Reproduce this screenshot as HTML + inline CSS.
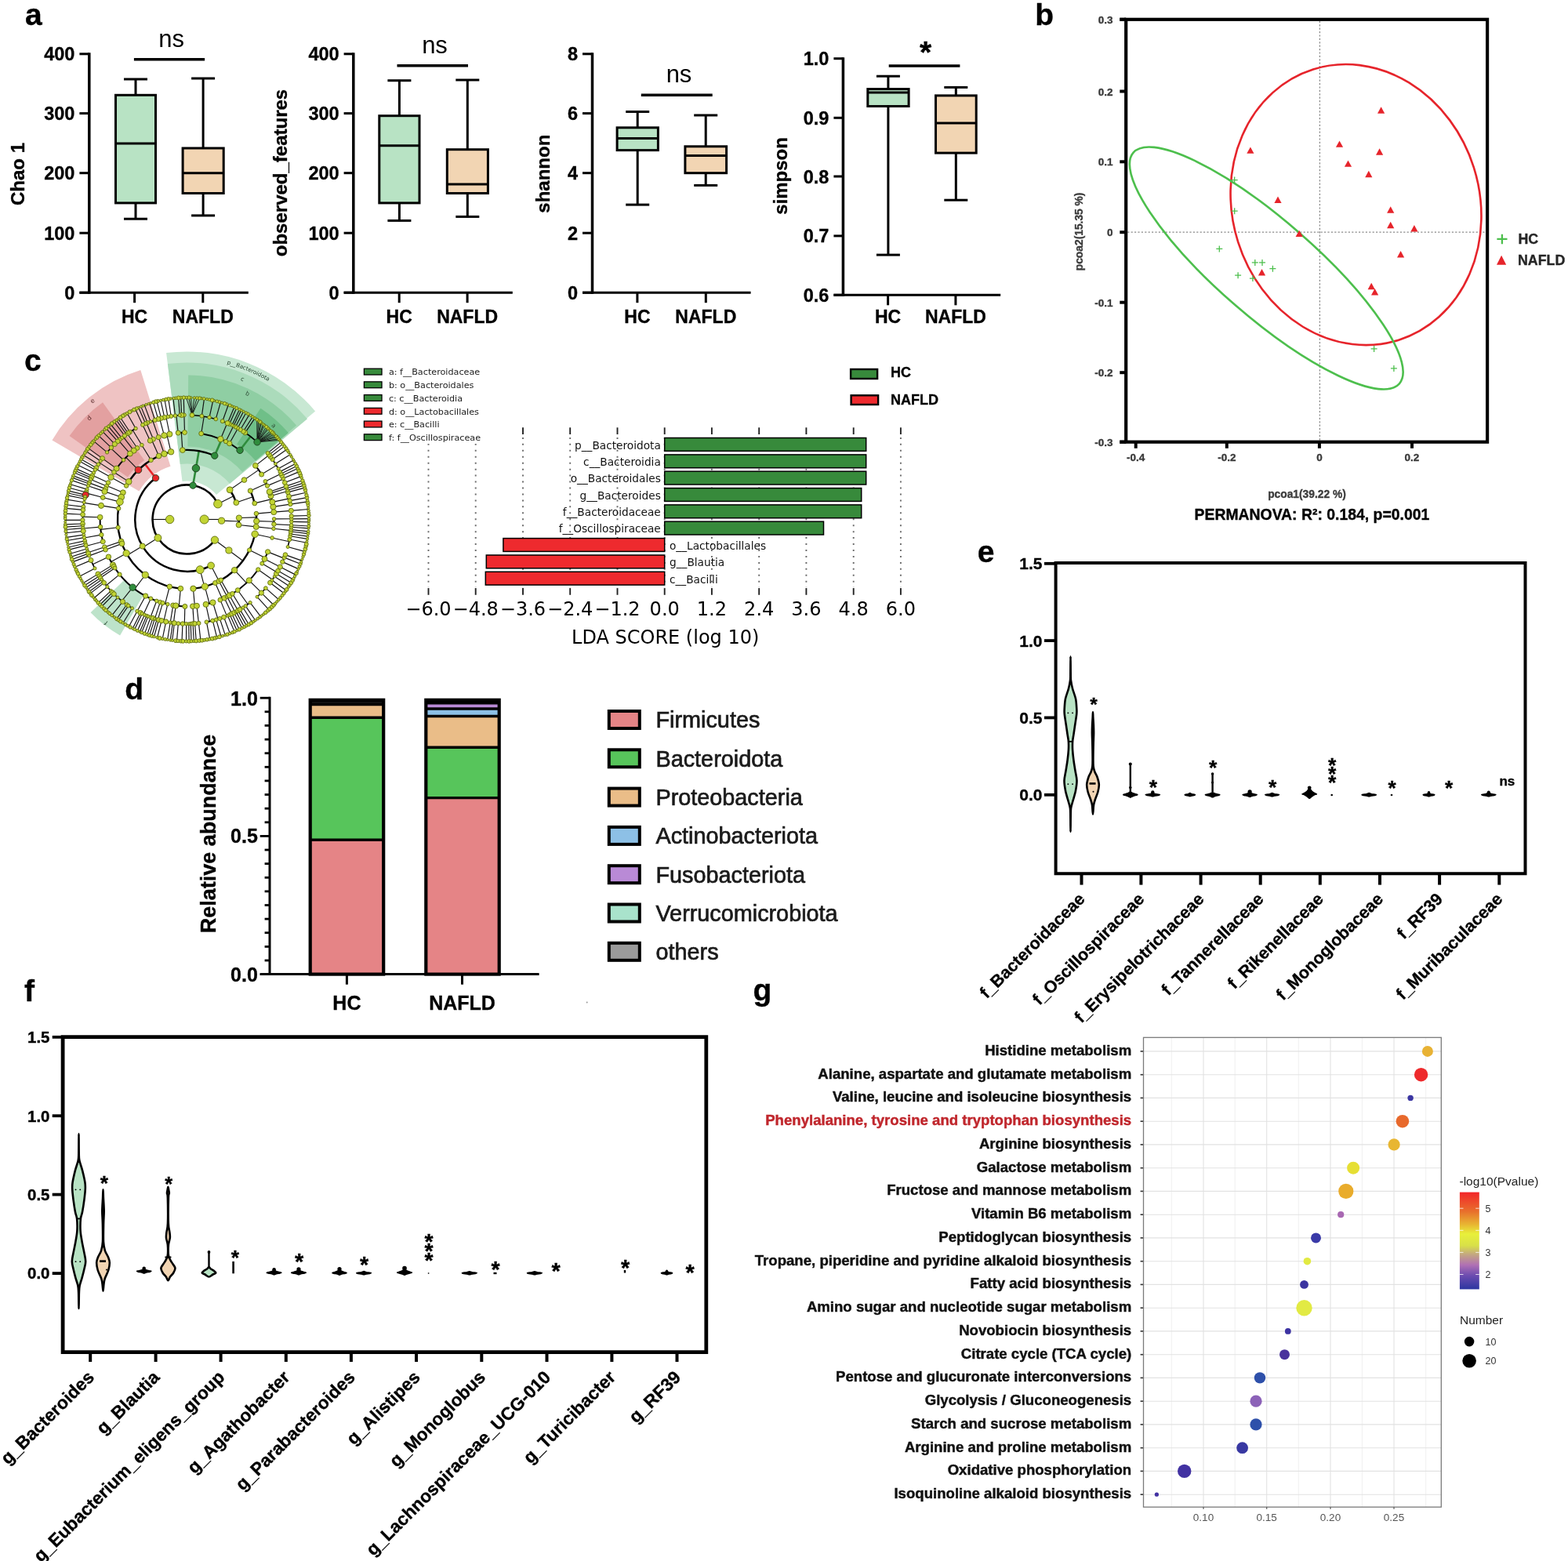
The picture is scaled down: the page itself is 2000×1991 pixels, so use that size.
<!DOCTYPE html>
<html><head><meta charset="utf-8"><style>
html,body{margin:0;padding:0;background:#fff;}
svg{display:block;}
</style></head><body>
<svg xmlns="http://www.w3.org/2000/svg" width="2000" height="1991" viewBox="0 0 2000 1991">
<rect width="2000" height="1991" fill="#fff"/>
<text x="31.9" y="32.3" style="font-family:'Liberation Sans',Arial,Helvetica,sans-serif;font-size:39px;font-weight:bold" text-anchor="start" fill="#000"  stroke="#000" stroke-width="0.35">a</text>
<text x="1320.3" y="32.1" style="font-family:'Liberation Sans',Arial,Helvetica,sans-serif;font-size:39px;font-weight:bold" text-anchor="start" fill="#000"  stroke="#000" stroke-width="0.35">b</text>
<text x="30.9" y="472.5" style="font-family:'Liberation Sans',Arial,Helvetica,sans-serif;font-size:39px;font-weight:bold" text-anchor="start" fill="#000"  stroke="#000" stroke-width="0.35">c</text>
<text x="159.2" y="891.8" style="font-family:'Liberation Sans',Arial,Helvetica,sans-serif;font-size:39px;font-weight:bold" text-anchor="start" fill="#000"  stroke="#000" stroke-width="0.35">d</text>
<text x="1246.7" y="716.6" style="font-family:'Liberation Sans',Arial,Helvetica,sans-serif;font-size:39px;font-weight:bold" text-anchor="start" fill="#000"  stroke="#000" stroke-width="0.35">e</text>
<text x="31.0" y="1276.9" style="font-family:'Liberation Sans',Arial,Helvetica,sans-serif;font-size:39px;font-weight:bold" text-anchor="start" fill="#000"  stroke="#000" stroke-width="0.35">f</text>
<text x="960.4" y="1276.4" style="font-family:'Liberation Sans',Arial,Helvetica,sans-serif;font-size:39px;font-weight:bold" text-anchor="start" fill="#000"  stroke="#000" stroke-width="0.35">g</text>
<line x1="113.8" y1="67.3" x2="113.8" y2="374.7" stroke="#000" stroke-width="3.5" />
<line x1="101.4" y1="373.2" x2="316.8" y2="373.2" stroke="#000" stroke-width="3.0" />
<line x1="101.4" y1="68.8" x2="113.8" y2="68.8" stroke="#000" stroke-width="3.0" />
<text x="95.4" y="77.3" style="font-family:'Liberation Sans',Arial,Helvetica,sans-serif;font-size:23.5px;font-weight:bold" text-anchor="end" fill="#000"  stroke="#000" stroke-width="0.35">400</text>
<line x1="101.4" y1="144.6" x2="113.8" y2="144.6" stroke="#000" stroke-width="3.0" />
<text x="95.4" y="153.1" style="font-family:'Liberation Sans',Arial,Helvetica,sans-serif;font-size:23.5px;font-weight:bold" text-anchor="end" fill="#000"  stroke="#000" stroke-width="0.35">300</text>
<line x1="101.4" y1="220.7" x2="113.8" y2="220.7" stroke="#000" stroke-width="3.0" />
<text x="95.4" y="229.2" style="font-family:'Liberation Sans',Arial,Helvetica,sans-serif;font-size:23.5px;font-weight:bold" text-anchor="end" fill="#000"  stroke="#000" stroke-width="0.35">200</text>
<line x1="101.4" y1="297.2" x2="113.8" y2="297.2" stroke="#000" stroke-width="3.0" />
<text x="95.4" y="305.7" style="font-family:'Liberation Sans',Arial,Helvetica,sans-serif;font-size:23.5px;font-weight:bold" text-anchor="end" fill="#000"  stroke="#000" stroke-width="0.35">100</text>
<line x1="101.4" y1="373.2" x2="113.8" y2="373.2" stroke="#000" stroke-width="3.0" />
<text x="95.4" y="381.7" style="font-family:'Liberation Sans',Arial,Helvetica,sans-serif;font-size:23.5px;font-weight:bold" text-anchor="end" fill="#000"  stroke="#000" stroke-width="0.35">0</text>
<line x1="171.6" y1="373.2" x2="171.6" y2="386.2" stroke="#000" stroke-width="3.0" />
<line x1="258.8" y1="373.2" x2="258.8" y2="386.2" stroke="#000" stroke-width="3.0" />
<text x="171.6" y="411.9" style="font-family:'Liberation Sans',Arial,Helvetica,sans-serif;font-size:23px;font-weight:bold" text-anchor="middle" fill="#000"  stroke="#000" stroke-width="0.35">HC</text>
<text x="258.8" y="411.9" style="font-family:'Liberation Sans',Arial,Helvetica,sans-serif;font-size:23px;font-weight:bold" text-anchor="middle" fill="#000"  stroke="#000" stroke-width="0.35">NAFLD</text>
<line x1="173.0" y1="101.0" x2="173.0" y2="121.3" stroke="#000" stroke-width="3.0" />
<line x1="173.0" y1="258.9" x2="173.0" y2="279.2" stroke="#000" stroke-width="3.0" />
<line x1="158.0" y1="101.0" x2="188.0" y2="101.0" stroke="#000" stroke-width="3.0" />
<line x1="158.0" y1="279.2" x2="188.0" y2="279.2" stroke="#000" stroke-width="3.0" />
<rect x="147.5" y="121.3" width="51.0" height="137.6" fill="#b8e3c4" stroke="#000" stroke-width="3.0" />
<line x1="147.5" y1="183.0" x2="198.5" y2="183.0" stroke="#000" stroke-width="3.0" />
<line x1="259.1" y1="100.0" x2="259.1" y2="189.0" stroke="#000" stroke-width="3.0" />
<line x1="259.1" y1="246.5" x2="259.1" y2="274.9" stroke="#000" stroke-width="3.0" />
<line x1="244.1" y1="100.0" x2="274.1" y2="100.0" stroke="#000" stroke-width="3.0" />
<line x1="244.1" y1="274.9" x2="274.1" y2="274.9" stroke="#000" stroke-width="3.0" />
<rect x="233.1" y="189.0" width="52.1" height="57.5" fill="#f2d5b3" stroke="#000" stroke-width="3.0" />
<line x1="233.1" y1="220.7" x2="285.2" y2="220.7" stroke="#000" stroke-width="3.0" />
<line x1="170.9" y1="75.8" x2="261.1" y2="75.8" stroke="#000" stroke-width="3.5" />
<text x="218.7" y="59.8" style="font-family:'Liberation Sans',Arial,Helvetica,sans-serif;font-size:31px;font-weight:normal" text-anchor="middle" fill="#000" >ns</text>
<text transform="translate(31.0,222.0) rotate(-90)" style="font-family:'Liberation Sans',Arial,Helvetica,sans-serif;font-size:24px;font-weight:bold" text-anchor="middle" fill="#000" stroke="#000" stroke-width="0.35">Chao 1</text>
<line x1="450.8" y1="67.3" x2="450.8" y2="374.7" stroke="#000" stroke-width="3.5" />
<line x1="438.6" y1="373.2" x2="653.8" y2="373.2" stroke="#000" stroke-width="3.0" />
<line x1="438.6" y1="68.8" x2="450.8" y2="68.8" stroke="#000" stroke-width="3.0" />
<text x="432.6" y="77.3" style="font-family:'Liberation Sans',Arial,Helvetica,sans-serif;font-size:23.5px;font-weight:bold" text-anchor="end" fill="#000"  stroke="#000" stroke-width="0.35">400</text>
<line x1="438.6" y1="144.6" x2="450.8" y2="144.6" stroke="#000" stroke-width="3.0" />
<text x="432.6" y="153.1" style="font-family:'Liberation Sans',Arial,Helvetica,sans-serif;font-size:23.5px;font-weight:bold" text-anchor="end" fill="#000"  stroke="#000" stroke-width="0.35">300</text>
<line x1="438.6" y1="220.7" x2="450.8" y2="220.7" stroke="#000" stroke-width="3.0" />
<text x="432.6" y="229.2" style="font-family:'Liberation Sans',Arial,Helvetica,sans-serif;font-size:23.5px;font-weight:bold" text-anchor="end" fill="#000"  stroke="#000" stroke-width="0.35">200</text>
<line x1="438.6" y1="297.2" x2="450.8" y2="297.2" stroke="#000" stroke-width="3.0" />
<text x="432.6" y="305.7" style="font-family:'Liberation Sans',Arial,Helvetica,sans-serif;font-size:23.5px;font-weight:bold" text-anchor="end" fill="#000"  stroke="#000" stroke-width="0.35">100</text>
<line x1="438.6" y1="373.2" x2="450.8" y2="373.2" stroke="#000" stroke-width="3.0" />
<text x="432.6" y="381.7" style="font-family:'Liberation Sans',Arial,Helvetica,sans-serif;font-size:23.5px;font-weight:bold" text-anchor="end" fill="#000"  stroke="#000" stroke-width="0.35">0</text>
<line x1="509.2" y1="373.2" x2="509.2" y2="386.2" stroke="#000" stroke-width="3.0" />
<line x1="596.1" y1="373.2" x2="596.1" y2="386.2" stroke="#000" stroke-width="3.0" />
<text x="509.2" y="411.9" style="font-family:'Liberation Sans',Arial,Helvetica,sans-serif;font-size:23px;font-weight:bold" text-anchor="middle" fill="#000"  stroke="#000" stroke-width="0.35">HC</text>
<text x="596.1" y="411.9" style="font-family:'Liberation Sans',Arial,Helvetica,sans-serif;font-size:23px;font-weight:bold" text-anchor="middle" fill="#000"  stroke="#000" stroke-width="0.35">NAFLD</text>
<line x1="509.4" y1="102.7" x2="509.4" y2="147.7" stroke="#000" stroke-width="3.0" />
<line x1="509.4" y1="258.9" x2="509.4" y2="281.4" stroke="#000" stroke-width="3.0" />
<line x1="494.4" y1="102.7" x2="524.4" y2="102.7" stroke="#000" stroke-width="3.0" />
<line x1="494.4" y1="281.4" x2="524.4" y2="281.4" stroke="#000" stroke-width="3.0" />
<rect x="483.8" y="147.7" width="51.2" height="111.2" fill="#b8e3c4" stroke="#000" stroke-width="3.0" />
<line x1="483.8" y1="185.7" x2="535.0" y2="185.7" stroke="#000" stroke-width="3.0" />
<line x1="596.3" y1="102.0" x2="596.3" y2="190.7" stroke="#000" stroke-width="3.0" />
<line x1="596.3" y1="246.5" x2="596.3" y2="276.4" stroke="#000" stroke-width="3.0" />
<line x1="581.3" y1="102.0" x2="611.3" y2="102.0" stroke="#000" stroke-width="3.0" />
<line x1="581.3" y1="276.4" x2="611.3" y2="276.4" stroke="#000" stroke-width="3.0" />
<rect x="570.3" y="190.7" width="52.1" height="55.8" fill="#f2d5b3" stroke="#000" stroke-width="3.0" />
<line x1="570.3" y1="234.9" x2="622.4" y2="234.9" stroke="#000" stroke-width="3.0" />
<line x1="506.5" y1="83.7" x2="597.0" y2="83.7" stroke="#000" stroke-width="3.5" />
<text x="554.5" y="67.7" style="font-family:'Liberation Sans',Arial,Helvetica,sans-serif;font-size:31px;font-weight:normal" text-anchor="middle" fill="#000" >ns</text>
<text transform="translate(366.0,220.5) rotate(-90)" style="font-family:'Liberation Sans',Arial,Helvetica,sans-serif;font-size:24px;font-weight:bold" text-anchor="middle" fill="#000" stroke="#000" stroke-width="0.35">observed_features</text>
<line x1="755.5" y1="67.3" x2="755.5" y2="374.7" stroke="#000" stroke-width="3.5" />
<line x1="743.0" y1="373.2" x2="957.6" y2="373.2" stroke="#000" stroke-width="3.0" />
<line x1="743.0" y1="68.8" x2="755.5" y2="68.8" stroke="#000" stroke-width="3.0" />
<text x="737.0" y="77.3" style="font-family:'Liberation Sans',Arial,Helvetica,sans-serif;font-size:23.5px;font-weight:bold" text-anchor="end" fill="#000"  stroke="#000" stroke-width="0.35">8</text>
<line x1="743.0" y1="144.6" x2="755.5" y2="144.6" stroke="#000" stroke-width="3.0" />
<text x="737.0" y="153.1" style="font-family:'Liberation Sans',Arial,Helvetica,sans-serif;font-size:23.5px;font-weight:bold" text-anchor="end" fill="#000"  stroke="#000" stroke-width="0.35">6</text>
<line x1="743.0" y1="220.7" x2="755.5" y2="220.7" stroke="#000" stroke-width="3.0" />
<text x="737.0" y="229.2" style="font-family:'Liberation Sans',Arial,Helvetica,sans-serif;font-size:23.5px;font-weight:bold" text-anchor="end" fill="#000"  stroke="#000" stroke-width="0.35">4</text>
<line x1="743.0" y1="297.2" x2="755.5" y2="297.2" stroke="#000" stroke-width="3.0" />
<text x="737.0" y="305.7" style="font-family:'Liberation Sans',Arial,Helvetica,sans-serif;font-size:23.5px;font-weight:bold" text-anchor="end" fill="#000"  stroke="#000" stroke-width="0.35">2</text>
<line x1="743.0" y1="373.2" x2="755.5" y2="373.2" stroke="#000" stroke-width="3.0" />
<text x="737.0" y="381.7" style="font-family:'Liberation Sans',Arial,Helvetica,sans-serif;font-size:23.5px;font-weight:bold" text-anchor="end" fill="#000"  stroke="#000" stroke-width="0.35">0</text>
<line x1="812.9" y1="373.2" x2="812.9" y2="386.2" stroke="#000" stroke-width="3.0" />
<line x1="900.3" y1="373.2" x2="900.3" y2="386.2" stroke="#000" stroke-width="3.0" />
<text x="812.9" y="411.9" style="font-family:'Liberation Sans',Arial,Helvetica,sans-serif;font-size:23px;font-weight:bold" text-anchor="middle" fill="#000"  stroke="#000" stroke-width="0.35">HC</text>
<text x="900.3" y="411.9" style="font-family:'Liberation Sans',Arial,Helvetica,sans-serif;font-size:23px;font-weight:bold" text-anchor="middle" fill="#000"  stroke="#000" stroke-width="0.35">NAFLD</text>
<line x1="813.2" y1="142.5" x2="813.2" y2="162.8" stroke="#000" stroke-width="3.0" />
<line x1="813.2" y1="191.6" x2="813.2" y2="261.1" stroke="#000" stroke-width="3.0" />
<line x1="798.2" y1="142.5" x2="828.2" y2="142.5" stroke="#000" stroke-width="3.0" />
<line x1="798.2" y1="261.1" x2="828.2" y2="261.1" stroke="#000" stroke-width="3.0" />
<rect x="787.1" y="162.8" width="52.3" height="28.8" fill="#b8e3c4" stroke="#000" stroke-width="3.0" />
<line x1="787.1" y1="176.5" x2="839.4" y2="176.5" stroke="#000" stroke-width="3.0" />
<line x1="900.2" y1="147.0" x2="900.2" y2="186.8" stroke="#000" stroke-width="3.0" />
<line x1="900.2" y1="220.7" x2="900.2" y2="236.4" stroke="#000" stroke-width="3.0" />
<line x1="885.2" y1="147.0" x2="915.2" y2="147.0" stroke="#000" stroke-width="3.0" />
<line x1="885.2" y1="236.4" x2="915.2" y2="236.4" stroke="#000" stroke-width="3.0" />
<rect x="873.9" y="186.8" width="52.7" height="33.9" fill="#f2d5b3" stroke="#000" stroke-width="3.0" />
<line x1="873.9" y1="198.4" x2="926.6" y2="198.4" stroke="#000" stroke-width="3.0" />
<line x1="817.8" y1="121.3" x2="908.7" y2="121.3" stroke="#000" stroke-width="3.5" />
<text x="866.0" y="105.3" style="font-family:'Liberation Sans',Arial,Helvetica,sans-serif;font-size:31px;font-weight:normal" text-anchor="middle" fill="#000" >ns</text>
<text transform="translate(700.5,221.7) rotate(-90)" style="font-family:'Liberation Sans',Arial,Helvetica,sans-serif;font-size:24px;font-weight:bold" text-anchor="middle" fill="#000" stroke="#000" stroke-width="0.35">shannon</text>
<line x1="1075.4" y1="73.2" x2="1075.4" y2="377.8" stroke="#000" stroke-width="3.5" />
<line x1="1063.4" y1="376.3" x2="1276.2" y2="376.3" stroke="#000" stroke-width="3.0" />
<line x1="1063.4" y1="74.7" x2="1075.4" y2="74.7" stroke="#000" stroke-width="3.0" />
<text x="1057.4" y="83.2" style="font-family:'Liberation Sans',Arial,Helvetica,sans-serif;font-size:23.5px;font-weight:bold" text-anchor="end" fill="#000"  stroke="#000" stroke-width="0.35">1.0</text>
<line x1="1063.4" y1="150.3" x2="1075.4" y2="150.3" stroke="#000" stroke-width="3.0" />
<text x="1057.4" y="158.8" style="font-family:'Liberation Sans',Arial,Helvetica,sans-serif;font-size:23.5px;font-weight:bold" text-anchor="end" fill="#000"  stroke="#000" stroke-width="0.35">0.9</text>
<line x1="1063.4" y1="225.0" x2="1075.4" y2="225.0" stroke="#000" stroke-width="3.0" />
<text x="1057.4" y="233.5" style="font-family:'Liberation Sans',Arial,Helvetica,sans-serif;font-size:23.5px;font-weight:bold" text-anchor="end" fill="#000"  stroke="#000" stroke-width="0.35">0.8</text>
<line x1="1063.4" y1="300.9" x2="1075.4" y2="300.9" stroke="#000" stroke-width="3.0" />
<text x="1057.4" y="309.4" style="font-family:'Liberation Sans',Arial,Helvetica,sans-serif;font-size:23.5px;font-weight:bold" text-anchor="end" fill="#000"  stroke="#000" stroke-width="0.35">0.7</text>
<line x1="1063.4" y1="376.3" x2="1075.4" y2="376.3" stroke="#000" stroke-width="3.0" />
<text x="1057.4" y="384.8" style="font-family:'Liberation Sans',Arial,Helvetica,sans-serif;font-size:23.5px;font-weight:bold" text-anchor="end" fill="#000"  stroke="#000" stroke-width="0.35">0.6</text>
<line x1="1132.6" y1="376.3" x2="1132.6" y2="389.3" stroke="#000" stroke-width="3.0" />
<line x1="1218.9" y1="376.3" x2="1218.9" y2="389.3" stroke="#000" stroke-width="3.0" />
<text x="1132.6" y="411.9" style="font-family:'Liberation Sans',Arial,Helvetica,sans-serif;font-size:23px;font-weight:bold" text-anchor="middle" fill="#000"  stroke="#000" stroke-width="0.35">HC</text>
<text x="1218.9" y="411.9" style="font-family:'Liberation Sans',Arial,Helvetica,sans-serif;font-size:23px;font-weight:bold" text-anchor="middle" fill="#000"  stroke="#000" stroke-width="0.35">NAFLD</text>
<line x1="1132.9" y1="97.2" x2="1132.9" y2="113.6" stroke="#000" stroke-width="3.0" />
<line x1="1132.9" y1="135.5" x2="1132.9" y2="325.1" stroke="#000" stroke-width="3.0" />
<line x1="1117.9" y1="97.2" x2="1147.9" y2="97.2" stroke="#000" stroke-width="3.0" />
<line x1="1117.9" y1="325.1" x2="1147.9" y2="325.1" stroke="#000" stroke-width="3.0" />
<rect x="1106.8" y="113.6" width="52.3" height="21.9" fill="#b8e3c4" stroke="#000" stroke-width="3.0" />
<line x1="1106.8" y1="118.0" x2="1159.1" y2="118.0" stroke="#000" stroke-width="3.0" />
<line x1="1219.3" y1="111.4" x2="1219.3" y2="121.9" stroke="#000" stroke-width="3.0" />
<line x1="1219.3" y1="195.1" x2="1219.3" y2="255.2" stroke="#000" stroke-width="3.0" />
<line x1="1204.3" y1="111.4" x2="1234.3" y2="111.4" stroke="#000" stroke-width="3.0" />
<line x1="1204.3" y1="255.2" x2="1234.3" y2="255.2" stroke="#000" stroke-width="3.0" />
<rect x="1193.5" y="121.9" width="51.7" height="73.2" fill="#f2d5b3" stroke="#000" stroke-width="3.0" />
<line x1="1193.5" y1="156.9" x2="1245.2" y2="156.9" stroke="#000" stroke-width="3.0" />
<line x1="1133.7" y1="84.1" x2="1224.4" y2="84.1" stroke="#000" stroke-width="3.5" />
<text x="1180.5" y="80.4" style="font-family:'Liberation Sans',Arial,Helvetica,sans-serif;font-size:39px;font-weight:bold" text-anchor="middle" fill="#000"  stroke="#000" stroke-width="0.35">*</text>
<text transform="translate(1003.7,224.5) rotate(-90)" style="font-family:'Liberation Sans',Arial,Helvetica,sans-serif;font-size:24px;font-weight:bold" text-anchor="middle" fill="#000" stroke="#000" stroke-width="0.35">simpson</text>
<line x1="1428.3" y1="24.8" x2="1436.2" y2="24.8" stroke="#000" stroke-width="4" />
<text x="1419.5" y="29.8" style="font-family:'Liberation Sans',Arial,Helvetica,sans-serif;font-size:13.5px;font-weight:bold" text-anchor="end" fill="#3a3a3a"  stroke="#3a3a3a" stroke-width="0.35">0.3</text>
<line x1="1428.3" y1="116.5" x2="1436.2" y2="116.5" stroke="#000" stroke-width="4" />
<text x="1419.5" y="121.5" style="font-family:'Liberation Sans',Arial,Helvetica,sans-serif;font-size:13.5px;font-weight:bold" text-anchor="end" fill="#3a3a3a"  stroke="#3a3a3a" stroke-width="0.35">0.2</text>
<line x1="1428.3" y1="206.3" x2="1436.2" y2="206.3" stroke="#000" stroke-width="4" />
<text x="1419.5" y="211.3" style="font-family:'Liberation Sans',Arial,Helvetica,sans-serif;font-size:13.5px;font-weight:bold" text-anchor="end" fill="#3a3a3a"  stroke="#3a3a3a" stroke-width="0.35">0.1</text>
<line x1="1428.3" y1="296.2" x2="1436.2" y2="296.2" stroke="#000" stroke-width="4" />
<text x="1419.5" y="301.2" style="font-family:'Liberation Sans',Arial,Helvetica,sans-serif;font-size:13.5px;font-weight:bold" text-anchor="end" fill="#3a3a3a"  stroke="#3a3a3a" stroke-width="0.35">0</text>
<line x1="1428.3" y1="385.7" x2="1436.2" y2="385.7" stroke="#000" stroke-width="4" />
<text x="1419.5" y="390.7" style="font-family:'Liberation Sans',Arial,Helvetica,sans-serif;font-size:13.5px;font-weight:bold" text-anchor="end" fill="#3a3a3a"  stroke="#3a3a3a" stroke-width="0.35">-0.1</text>
<line x1="1428.3" y1="475.2" x2="1436.2" y2="475.2" stroke="#000" stroke-width="4" />
<text x="1419.5" y="480.2" style="font-family:'Liberation Sans',Arial,Helvetica,sans-serif;font-size:13.5px;font-weight:bold" text-anchor="end" fill="#3a3a3a"  stroke="#3a3a3a" stroke-width="0.35">-0.2</text>
<line x1="1428.3" y1="563.7" x2="1436.2" y2="563.7" stroke="#000" stroke-width="4" />
<text x="1419.5" y="568.7" style="font-family:'Liberation Sans',Arial,Helvetica,sans-serif;font-size:13.5px;font-weight:bold" text-anchor="end" fill="#3a3a3a"  stroke="#3a3a3a" stroke-width="0.35">-0.3</text>
<line x1="1448.7" y1="563.7" x2="1448.7" y2="571.8" stroke="#000" stroke-width="4" />
<text x="1448.7" y="588.0" style="font-family:'Liberation Sans',Arial,Helvetica,sans-serif;font-size:13.5px;font-weight:bold" text-anchor="middle" fill="#3a3a3a"  stroke="#3a3a3a" stroke-width="0.35">-0.4</text>
<line x1="1564.8" y1="563.7" x2="1564.8" y2="571.8" stroke="#000" stroke-width="4" />
<text x="1564.8" y="588.0" style="font-family:'Liberation Sans',Arial,Helvetica,sans-serif;font-size:13.5px;font-weight:bold" text-anchor="middle" fill="#3a3a3a"  stroke="#3a3a3a" stroke-width="0.35">-0.2</text>
<line x1="1682.9" y1="563.7" x2="1682.9" y2="571.8" stroke="#000" stroke-width="4" />
<text x="1682.9" y="588.0" style="font-family:'Liberation Sans',Arial,Helvetica,sans-serif;font-size:13.5px;font-weight:bold" text-anchor="middle" fill="#3a3a3a"  stroke="#3a3a3a" stroke-width="0.35">0</text>
<line x1="1801.0" y1="563.7" x2="1801.0" y2="571.8" stroke="#000" stroke-width="4" />
<text x="1801.0" y="588.0" style="font-family:'Liberation Sans',Arial,Helvetica,sans-serif;font-size:13.5px;font-weight:bold" text-anchor="middle" fill="#3a3a3a"  stroke="#3a3a3a" stroke-width="0.35">0.2</text>
<line x1="1683.4" y1="26.8" x2="1683.4" y2="561.7" stroke="#8a8a8a" stroke-width="1.3" stroke-dasharray="2.2,2.2"/>
<line x1="1438.2" y1="296.2" x2="1895.1" y2="296.2" stroke="#8a8a8a" stroke-width="1.3" stroke-dasharray="2.2,2.2"/>
<rect x="1436.2" y="24.8" width="460.9" height="538.9" fill="none" stroke="#000" stroke-width="4.2"/>
<line x1="1428.3" y1="24.8" x2="1436.2" y2="24.8" stroke="#000" stroke-width="4.2" />
<line x1="1428.3" y1="563.7" x2="1436.2" y2="563.7" stroke="#000" stroke-width="4.2" />
<ellipse cx="1729.5" cy="261.1" rx="157.7" ry="181.0" transform="rotate(-17.55 1729.5 261.1)" fill="none" stroke="#e6242b" stroke-width="2.6"/>
<ellipse cx="1615.25" cy="341.98" rx="224.7" ry="61.6" transform="rotate(40.97 1615.25 341.98)" fill="none" stroke="#4dbf4d" stroke-width="2.6"/>
<path d="M1761.6,136.3 L1766.2,144.7 L1757.0,144.7 Z" fill="#e6242b"/>
<path d="M1708.5,179.4 L1713.1,187.8 L1703.9,187.8 Z" fill="#e6242b"/>
<path d="M1759.6,189.3 L1764.2,197.7 L1755.0,197.7 Z" fill="#e6242b"/>
<path d="M1594.9,187.4 L1599.5,195.8 L1590.3,195.8 Z" fill="#e6242b"/>
<path d="M1719.5,204.4 L1724.1,212.8 L1714.9,212.8 Z" fill="#e6242b"/>
<path d="M1745.8,217.8 L1750.4,226.2 L1741.2,226.2 Z" fill="#e6242b"/>
<path d="M1630.0,250.6 L1634.6,259.0 L1625.4,259.0 Z" fill="#e6242b"/>
<path d="M1773.7,263.3 L1778.3,271.7 L1769.1,271.7 Z" fill="#e6242b"/>
<path d="M1773.7,282.8 L1778.3,291.2 L1769.1,291.2 Z" fill="#e6242b"/>
<path d="M1803.9,287.1 L1808.5,295.5 L1799.3,295.5 Z" fill="#e6242b"/>
<path d="M1657.2,293.7 L1661.8,302.1 L1652.6,302.1 Z" fill="#e6242b"/>
<path d="M1786.6,320.0 L1791.2,328.4 L1782.0,328.4 Z" fill="#e6242b"/>
<path d="M1609.5,343.1 L1614.1,351.5 L1604.9,351.5 Z" fill="#e6242b"/>
<path d="M1749.2,360.8 L1753.8,369.2 L1744.6,369.2 Z" fill="#e6242b"/>
<path d="M1753.6,368.1 L1758.2,376.5 L1749.0,376.5 Z" fill="#e6242b"/>
<path d="M1570.7,229.6 H1578.7 M1574.7,225.6 V233.6" stroke="#4dbf4d" stroke-width="1.3" fill="none"/>
<path d="M1570.7,269.2 H1578.7 M1574.7,265.2 V273.2" stroke="#4dbf4d" stroke-width="1.3" fill="none"/>
<path d="M1551.3,317.4 H1559.3 M1555.3,313.4 V321.4" stroke="#4dbf4d" stroke-width="1.3" fill="none"/>
<path d="M1596.8,334.9 H1604.8 M1600.8,330.9 V338.9" stroke="#4dbf4d" stroke-width="1.3" fill="none"/>
<path d="M1606.0,334.9 H1614.0 M1610.0,330.9 V338.9" stroke="#4dbf4d" stroke-width="1.3" fill="none"/>
<path d="M1619.4,342.7 H1627.4 M1623.4,338.7 V346.7" stroke="#4dbf4d" stroke-width="1.3" fill="none"/>
<path d="M1575.1,351.2 H1583.1 M1579.1,347.2 V355.2" stroke="#4dbf4d" stroke-width="1.3" fill="none"/>
<path d="M1593.9,355.1 H1601.9 M1597.9,351.1 V359.1" stroke="#4dbf4d" stroke-width="1.3" fill="none"/>
<path d="M1748.6,444.9 H1756.6 M1752.6,440.9 V448.9" stroke="#4dbf4d" stroke-width="1.3" fill="none"/>
<path d="M1773.9,469.9 H1781.9 M1777.9,465.9 V473.9" stroke="#4dbf4d" stroke-width="1.3" fill="none"/>
<path d="M1909.4,304.9 H1922.5 M1915.9,298.8 V311.2" stroke="#4dbf4d" stroke-width="2.3" fill="none"/>
<path d="M1915.1,325.8 L1921.2,337.8 L1909.0,337.8 Z" fill="#e6242b"/>
<text x="1936.5" y="311.0" style="font-family:'Liberation Sans',Arial,Helvetica,sans-serif;font-size:17.8px;font-weight:bold" text-anchor="start" fill="#262626"  stroke="#262626" stroke-width="0.35">HC</text>
<text x="1936.0" y="337.6" style="font-family:'Liberation Sans',Arial,Helvetica,sans-serif;font-size:17.8px;font-weight:bold" text-anchor="start" fill="#262626"  stroke="#262626" stroke-width="0.35">NAFLD</text>
<text x="1667.0" y="635.2" style="font-family:'Liberation Sans',Arial,Helvetica,sans-serif;font-size:13.8px;font-weight:bold" text-anchor="middle" fill="#3c3c3c"  stroke="#3c3c3c" stroke-width="0.35">pcoa1(39.22 %)</text>
<text transform="translate(1380.8,295.4) rotate(-90)" style="font-family:'Liberation Sans',Arial,Helvetica,sans-serif;font-size:13.8px;font-weight:bold" text-anchor="middle" fill="#3c3c3c" stroke="#3c3c3c" stroke-width="0.35">pcoa2(15.35 %)</text>
<text x="1673.4" y="663.3" style="font-family:'Liberation Sans',Arial,Helvetica,sans-serif;font-size:19.4px;font-weight:bold" text-anchor="middle" fill="#000"  stroke="#000" stroke-width="0.35">PERMANOVA: R²: 0.184, p=0.001</text>
<line x1="331.7" y1="1242.6" x2="344.0" y2="1242.6" stroke="#000" stroke-width="2.8" />
<line x1="337.6" y1="1225.0" x2="344.0" y2="1225.0" stroke="#000" stroke-width="2.8" />
<line x1="337.6" y1="1207.4" x2="344.0" y2="1207.4" stroke="#000" stroke-width="2.8" />
<line x1="337.6" y1="1189.7" x2="344.0" y2="1189.7" stroke="#000" stroke-width="2.8" />
<line x1="337.6" y1="1172.1" x2="344.0" y2="1172.1" stroke="#000" stroke-width="2.8" />
<line x1="337.6" y1="1154.5" x2="344.0" y2="1154.5" stroke="#000" stroke-width="2.8" />
<line x1="337.6" y1="1136.9" x2="344.0" y2="1136.9" stroke="#000" stroke-width="2.8" />
<line x1="337.6" y1="1119.3" x2="344.0" y2="1119.3" stroke="#000" stroke-width="2.8" />
<line x1="337.6" y1="1101.6" x2="344.0" y2="1101.6" stroke="#000" stroke-width="2.8" />
<line x1="337.6" y1="1084.0" x2="344.0" y2="1084.0" stroke="#000" stroke-width="2.8" />
<line x1="331.7" y1="1066.4" x2="344.0" y2="1066.4" stroke="#000" stroke-width="2.8" />
<line x1="337.6" y1="1048.8" x2="344.0" y2="1048.8" stroke="#000" stroke-width="2.8" />
<line x1="337.6" y1="1031.2" x2="344.0" y2="1031.2" stroke="#000" stroke-width="2.8" />
<line x1="337.6" y1="1013.5" x2="344.0" y2="1013.5" stroke="#000" stroke-width="2.8" />
<line x1="337.6" y1="995.9" x2="344.0" y2="995.9" stroke="#000" stroke-width="2.8" />
<line x1="337.6" y1="978.3" x2="344.0" y2="978.3" stroke="#000" stroke-width="2.8" />
<line x1="337.6" y1="960.7" x2="344.0" y2="960.7" stroke="#000" stroke-width="2.8" />
<line x1="337.6" y1="943.1" x2="344.0" y2="943.1" stroke="#000" stroke-width="2.8" />
<line x1="337.6" y1="925.4" x2="344.0" y2="925.4" stroke="#000" stroke-width="2.8" />
<line x1="337.6" y1="907.8" x2="344.0" y2="907.8" stroke="#000" stroke-width="2.8" />
<line x1="331.7" y1="890.2" x2="344.0" y2="890.2" stroke="#000" stroke-width="2.8" />
<line x1="344.0" y1="888.8" x2="344.0" y2="1244.0" stroke="#000" stroke-width="3.0" />
<line x1="331.7" y1="1242.6" x2="687.6" y2="1242.6" stroke="#000" stroke-width="3.0" />
<line x1="442.4" y1="1242.6" x2="442.4" y2="1255.7" stroke="#000" stroke-width="3.0" />
<line x1="589.5" y1="1242.6" x2="589.5" y2="1255.7" stroke="#000" stroke-width="3.0" />
<text x="328.8" y="900.0" style="font-family:'Liberation Sans',Arial,Helvetica,sans-serif;font-size:25px;font-weight:bold" text-anchor="end" fill="#000"  stroke="#000" stroke-width="0.35">1.0</text>
<text x="328.8" y="1075.4" style="font-family:'Liberation Sans',Arial,Helvetica,sans-serif;font-size:25px;font-weight:bold" text-anchor="end" fill="#000"  stroke="#000" stroke-width="0.35">0.5</text>
<text x="328.8" y="1251.6" style="font-family:'Liberation Sans',Arial,Helvetica,sans-serif;font-size:25px;font-weight:bold" text-anchor="end" fill="#000"  stroke="#000" stroke-width="0.35">0.0</text>
<text transform="translate(274.5,1063.5) rotate(-90)" style="font-family:'Liberation Sans',Arial,Helvetica,sans-serif;font-size:27px;font-weight:bold" text-anchor="middle" fill="#000" stroke="#000" stroke-width="0.35">Relative abundance</text>
<text x="442.4" y="1288.0" style="font-family:'Liberation Sans',Arial,Helvetica,sans-serif;font-size:25px;font-weight:bold" text-anchor="middle" fill="#000"  stroke="#000" stroke-width="0.35">HC</text>
<text x="589.5" y="1288.0" style="font-family:'Liberation Sans',Arial,Helvetica,sans-serif;font-size:25px;font-weight:bold" text-anchor="middle" fill="#000"  stroke="#000" stroke-width="0.35">NAFLD</text>
<rect x="395.7" y="892.8" width="93.5" height="5.8" fill="#111" stroke="none" stroke-width="0" />
<rect x="395.7" y="898.6" width="93.5" height="16.6" fill="#eabd88" stroke="none" stroke-width="0" />
<rect x="395.7" y="915.2" width="93.5" height="156.0" fill="#57c55b" stroke="none" stroke-width="0" />
<rect x="395.7" y="1071.2" width="93.5" height="171.4" fill="#e58486" stroke="none" stroke-width="0" />
<line x1="395.7" y1="892.8" x2="489.2" y2="892.8" stroke="#000" stroke-width="3.4" />
<line x1="395.7" y1="898.6" x2="489.2" y2="898.6" stroke="#000" stroke-width="3.4" />
<line x1="395.7" y1="915.2" x2="489.2" y2="915.2" stroke="#000" stroke-width="3.4" />
<line x1="395.7" y1="1071.2" x2="489.2" y2="1071.2" stroke="#000" stroke-width="3.4" />
<rect x="395.7" y="892.8" width="93.5" height="349.8" fill="none" stroke="#000" stroke-width="4.2" />
<rect x="543.3" y="892.8" width="93.4" height="3.9" fill="#111" stroke="none" stroke-width="0" />
<rect x="543.3" y="896.7" width="93.4" height="7.3" fill="#b98ad6" stroke="none" stroke-width="0" />
<rect x="543.3" y="904.0" width="93.4" height="9.5" fill="#8dc0e6" stroke="none" stroke-width="0" />
<rect x="543.3" y="913.5" width="93.4" height="39.8" fill="#eabd88" stroke="none" stroke-width="0" />
<rect x="543.3" y="953.3" width="93.4" height="64.3" fill="#57c55b" stroke="none" stroke-width="0" />
<rect x="543.3" y="1017.6" width="93.4" height="225.0" fill="#e58486" stroke="none" stroke-width="0" />
<line x1="543.3" y1="892.8" x2="636.7" y2="892.8" stroke="#000" stroke-width="3.4" />
<line x1="543.3" y1="896.7" x2="636.7" y2="896.7" stroke="#000" stroke-width="3.4" />
<line x1="543.3" y1="904.0" x2="636.7" y2="904.0" stroke="#000" stroke-width="3.4" />
<line x1="543.3" y1="913.5" x2="636.7" y2="913.5" stroke="#000" stroke-width="3.4" />
<line x1="543.3" y1="953.3" x2="636.7" y2="953.3" stroke="#000" stroke-width="3.4" />
<line x1="543.3" y1="1017.6" x2="636.7" y2="1017.6" stroke="#000" stroke-width="3.4" />
<rect x="543.3" y="892.8" width="93.4" height="349.8" fill="none" stroke="#000" stroke-width="4.2" />
<rect x="776.8" y="907.0" width="39.0" height="22.0" fill="#e58486" stroke="#000" stroke-width="4.0" />
<text x="836.5" y="928.3" style="font-family:'Liberation Sans',Arial,Helvetica,sans-serif;font-size:28.8px;font-weight:normal" text-anchor="start" fill="#1a1a1a" stroke="#1a1a1a" stroke-width="0.7">Firmicutes</text>
<rect x="776.8" y="956.3" width="39.0" height="22.0" fill="#57c55b" stroke="#000" stroke-width="4.0" />
<text x="836.5" y="977.6" style="font-family:'Liberation Sans',Arial,Helvetica,sans-serif;font-size:28.8px;font-weight:normal" text-anchor="start" fill="#1a1a1a" stroke="#1a1a1a" stroke-width="0.7">Bacteroidota</text>
<rect x="776.8" y="1005.6" width="39.0" height="22.0" fill="#eabd88" stroke="#000" stroke-width="4.0" />
<text x="836.5" y="1026.9" style="font-family:'Liberation Sans',Arial,Helvetica,sans-serif;font-size:28.8px;font-weight:normal" text-anchor="start" fill="#1a1a1a" stroke="#1a1a1a" stroke-width="0.7">Proteobacteria</text>
<rect x="776.8" y="1054.9" width="39.0" height="22.0" fill="#8dc0e6" stroke="#000" stroke-width="4.0" />
<text x="836.5" y="1076.2" style="font-family:'Liberation Sans',Arial,Helvetica,sans-serif;font-size:28.8px;font-weight:normal" text-anchor="start" fill="#1a1a1a" stroke="#1a1a1a" stroke-width="0.7">Actinobacteriota</text>
<rect x="776.8" y="1104.2" width="39.0" height="22.0" fill="#b98ad6" stroke="#000" stroke-width="4.0" />
<text x="836.5" y="1125.5" style="font-family:'Liberation Sans',Arial,Helvetica,sans-serif;font-size:28.8px;font-weight:normal" text-anchor="start" fill="#1a1a1a" stroke="#1a1a1a" stroke-width="0.7">Fusobacteriota</text>
<rect x="776.8" y="1153.5" width="39.0" height="22.0" fill="#a9e3cc" stroke="#000" stroke-width="4.0" />
<text x="836.5" y="1174.8" style="font-family:'Liberation Sans',Arial,Helvetica,sans-serif;font-size:28.8px;font-weight:normal" text-anchor="start" fill="#1a1a1a" stroke="#1a1a1a" stroke-width="0.7">Verrucomicrobiota</text>
<rect x="776.8" y="1202.8" width="39.0" height="22.0" fill="#9b9b9b" stroke="#000" stroke-width="4.0" />
<text x="836.5" y="1224.1" style="font-family:'Liberation Sans',Arial,Helvetica,sans-serif;font-size:28.8px;font-weight:normal" text-anchor="start" fill="#1a1a1a" stroke="#1a1a1a" stroke-width="0.7">others</text>
<circle cx="748.7" cy="1278.5" r="1.0" fill="#999" stroke="none" stroke-width="0"/>
<rect x="1458.5" y="1323.3" width="379.8" height="598.9" fill="#fff" stroke="none" stroke-width="0" />
<line x1="1494.3" y1="1323.3" x2="1494.3" y2="1922.2" stroke="#ececec" stroke-width="0.8" />
<line x1="1575.2" y1="1323.3" x2="1575.2" y2="1922.2" stroke="#ececec" stroke-width="0.8" />
<line x1="1656.3" y1="1323.3" x2="1656.3" y2="1922.2" stroke="#ececec" stroke-width="0.8" />
<line x1="1737.4" y1="1323.3" x2="1737.4" y2="1922.2" stroke="#ececec" stroke-width="0.8" />
<line x1="1818.7" y1="1323.3" x2="1818.7" y2="1922.2" stroke="#ececec" stroke-width="0.8" />
<line x1="1535.0" y1="1323.3" x2="1535.0" y2="1922.2" stroke="#e2e2e2" stroke-width="1.1" />
<line x1="1615.7" y1="1323.3" x2="1615.7" y2="1922.2" stroke="#e2e2e2" stroke-width="1.1" />
<line x1="1697.0" y1="1323.3" x2="1697.0" y2="1922.2" stroke="#e2e2e2" stroke-width="1.1" />
<line x1="1778.0" y1="1323.3" x2="1778.0" y2="1922.2" stroke="#e2e2e2" stroke-width="1.1" />
<line x1="1458.5" y1="1340.9" x2="1838.3" y2="1340.9" stroke="#e2e2e2" stroke-width="1.1" />
<line x1="1454.6" y1="1340.9" x2="1458.5" y2="1340.9" stroke="#333" stroke-width="1.6" />
<text x="1443.2" y="1345.7" style="font-family:'Liberation Sans',Arial,Helvetica,sans-serif;font-size:18.6px;font-weight:bold" text-anchor="end" fill="#111" stroke="#111" stroke-width="0.45">Histidine metabolism</text>
<line x1="1458.5" y1="1370.7" x2="1838.3" y2="1370.7" stroke="#e2e2e2" stroke-width="1.1" />
<line x1="1454.6" y1="1370.7" x2="1458.5" y2="1370.7" stroke="#333" stroke-width="1.6" />
<text x="1443.2" y="1375.5" style="font-family:'Liberation Sans',Arial,Helvetica,sans-serif;font-size:18.6px;font-weight:bold" text-anchor="end" fill="#111" stroke="#111" stroke-width="0.45">Alanine, aspartate and glutamate metabolism</text>
<line x1="1458.5" y1="1400.4" x2="1838.3" y2="1400.4" stroke="#e2e2e2" stroke-width="1.1" />
<line x1="1454.6" y1="1400.4" x2="1458.5" y2="1400.4" stroke="#333" stroke-width="1.6" />
<text x="1443.2" y="1405.2" style="font-family:'Liberation Sans',Arial,Helvetica,sans-serif;font-size:18.6px;font-weight:bold" text-anchor="end" fill="#111" stroke="#111" stroke-width="0.45">Valine, leucine and isoleucine biosynthesis</text>
<line x1="1458.5" y1="1430.2" x2="1838.3" y2="1430.2" stroke="#e2e2e2" stroke-width="1.1" />
<line x1="1454.6" y1="1430.2" x2="1458.5" y2="1430.2" stroke="#333" stroke-width="1.6" />
<text x="1443.2" y="1435.0" style="font-family:'Liberation Sans',Arial,Helvetica,sans-serif;font-size:18.6px;font-weight:bold" text-anchor="end" fill="#c0272d" stroke="#c0272d" stroke-width="0.45">Phenylalanine, tyrosine and tryptophan biosynthesis</text>
<line x1="1458.5" y1="1459.9" x2="1838.3" y2="1459.9" stroke="#e2e2e2" stroke-width="1.1" />
<line x1="1454.6" y1="1459.9" x2="1458.5" y2="1459.9" stroke="#333" stroke-width="1.6" />
<text x="1443.2" y="1464.7" style="font-family:'Liberation Sans',Arial,Helvetica,sans-serif;font-size:18.6px;font-weight:bold" text-anchor="end" fill="#111" stroke="#111" stroke-width="0.45">Arginine biosynthesis</text>
<line x1="1458.5" y1="1489.7" x2="1838.3" y2="1489.7" stroke="#e2e2e2" stroke-width="1.1" />
<line x1="1454.6" y1="1489.7" x2="1458.5" y2="1489.7" stroke="#333" stroke-width="1.6" />
<text x="1443.2" y="1494.5" style="font-family:'Liberation Sans',Arial,Helvetica,sans-serif;font-size:18.6px;font-weight:bold" text-anchor="end" fill="#111" stroke="#111" stroke-width="0.45">Galactose metabolism</text>
<line x1="1458.5" y1="1519.4" x2="1838.3" y2="1519.4" stroke="#e2e2e2" stroke-width="1.1" />
<line x1="1454.6" y1="1519.4" x2="1458.5" y2="1519.4" stroke="#333" stroke-width="1.6" />
<text x="1443.2" y="1524.2" style="font-family:'Liberation Sans',Arial,Helvetica,sans-serif;font-size:18.6px;font-weight:bold" text-anchor="end" fill="#111" stroke="#111" stroke-width="0.45">Fructose and mannose metabolism</text>
<line x1="1458.5" y1="1549.2" x2="1838.3" y2="1549.2" stroke="#e2e2e2" stroke-width="1.1" />
<line x1="1454.6" y1="1549.2" x2="1458.5" y2="1549.2" stroke="#333" stroke-width="1.6" />
<text x="1443.2" y="1554.0" style="font-family:'Liberation Sans',Arial,Helvetica,sans-serif;font-size:18.6px;font-weight:bold" text-anchor="end" fill="#111" stroke="#111" stroke-width="0.45">Vitamin B6 metabolism</text>
<line x1="1458.5" y1="1578.9" x2="1838.3" y2="1578.9" stroke="#e2e2e2" stroke-width="1.1" />
<line x1="1454.6" y1="1578.9" x2="1458.5" y2="1578.9" stroke="#333" stroke-width="1.6" />
<text x="1443.2" y="1583.7" style="font-family:'Liberation Sans',Arial,Helvetica,sans-serif;font-size:18.6px;font-weight:bold" text-anchor="end" fill="#111" stroke="#111" stroke-width="0.45">Peptidoglycan biosynthesis</text>
<line x1="1458.5" y1="1608.7" x2="1838.3" y2="1608.7" stroke="#e2e2e2" stroke-width="1.1" />
<line x1="1454.6" y1="1608.7" x2="1458.5" y2="1608.7" stroke="#333" stroke-width="1.6" />
<text x="1443.2" y="1613.5" style="font-family:'Liberation Sans',Arial,Helvetica,sans-serif;font-size:18.6px;font-weight:bold" text-anchor="end" fill="#111" stroke="#111" stroke-width="0.45">Tropane, piperidine and pyridine alkaloid biosynthesis</text>
<line x1="1458.5" y1="1638.4" x2="1838.3" y2="1638.4" stroke="#e2e2e2" stroke-width="1.1" />
<line x1="1454.6" y1="1638.4" x2="1458.5" y2="1638.4" stroke="#333" stroke-width="1.6" />
<text x="1443.2" y="1643.2" style="font-family:'Liberation Sans',Arial,Helvetica,sans-serif;font-size:18.6px;font-weight:bold" text-anchor="end" fill="#111" stroke="#111" stroke-width="0.45">Fatty acid biosynthesis</text>
<line x1="1458.5" y1="1668.2" x2="1838.3" y2="1668.2" stroke="#e2e2e2" stroke-width="1.1" />
<line x1="1454.6" y1="1668.2" x2="1458.5" y2="1668.2" stroke="#333" stroke-width="1.6" />
<text x="1443.2" y="1673.0" style="font-family:'Liberation Sans',Arial,Helvetica,sans-serif;font-size:18.6px;font-weight:bold" text-anchor="end" fill="#111" stroke="#111" stroke-width="0.45">Amino sugar and nucleotide sugar metabolism</text>
<line x1="1458.5" y1="1697.9" x2="1838.3" y2="1697.9" stroke="#e2e2e2" stroke-width="1.1" />
<line x1="1454.6" y1="1697.9" x2="1458.5" y2="1697.9" stroke="#333" stroke-width="1.6" />
<text x="1443.2" y="1702.7" style="font-family:'Liberation Sans',Arial,Helvetica,sans-serif;font-size:18.6px;font-weight:bold" text-anchor="end" fill="#111" stroke="#111" stroke-width="0.45">Novobiocin biosynthesis</text>
<line x1="1458.5" y1="1727.7" x2="1838.3" y2="1727.7" stroke="#e2e2e2" stroke-width="1.1" />
<line x1="1454.6" y1="1727.7" x2="1458.5" y2="1727.7" stroke="#333" stroke-width="1.6" />
<text x="1443.2" y="1732.5" style="font-family:'Liberation Sans',Arial,Helvetica,sans-serif;font-size:18.6px;font-weight:bold" text-anchor="end" fill="#111" stroke="#111" stroke-width="0.45">Citrate cycle (TCA cycle)</text>
<line x1="1458.5" y1="1757.4" x2="1838.3" y2="1757.4" stroke="#e2e2e2" stroke-width="1.1" />
<line x1="1454.6" y1="1757.4" x2="1458.5" y2="1757.4" stroke="#333" stroke-width="1.6" />
<text x="1443.2" y="1762.2" style="font-family:'Liberation Sans',Arial,Helvetica,sans-serif;font-size:18.6px;font-weight:bold" text-anchor="end" fill="#111" stroke="#111" stroke-width="0.45">Pentose and glucuronate interconversions</text>
<line x1="1458.5" y1="1787.2" x2="1838.3" y2="1787.2" stroke="#e2e2e2" stroke-width="1.1" />
<line x1="1454.6" y1="1787.2" x2="1458.5" y2="1787.2" stroke="#333" stroke-width="1.6" />
<text x="1443.2" y="1792.0" style="font-family:'Liberation Sans',Arial,Helvetica,sans-serif;font-size:18.6px;font-weight:bold" text-anchor="end" fill="#111" stroke="#111" stroke-width="0.45">Glycolysis / Gluconeogenesis</text>
<line x1="1458.5" y1="1816.9" x2="1838.3" y2="1816.9" stroke="#e2e2e2" stroke-width="1.1" />
<line x1="1454.6" y1="1816.9" x2="1458.5" y2="1816.9" stroke="#333" stroke-width="1.6" />
<text x="1443.2" y="1821.7" style="font-family:'Liberation Sans',Arial,Helvetica,sans-serif;font-size:18.6px;font-weight:bold" text-anchor="end" fill="#111" stroke="#111" stroke-width="0.45">Starch and sucrose metabolism</text>
<line x1="1458.5" y1="1846.7" x2="1838.3" y2="1846.7" stroke="#e2e2e2" stroke-width="1.1" />
<line x1="1454.6" y1="1846.7" x2="1458.5" y2="1846.7" stroke="#333" stroke-width="1.6" />
<text x="1443.2" y="1851.5" style="font-family:'Liberation Sans',Arial,Helvetica,sans-serif;font-size:18.6px;font-weight:bold" text-anchor="end" fill="#111" stroke="#111" stroke-width="0.45">Arginine and proline metabolism</text>
<line x1="1458.5" y1="1876.4" x2="1838.3" y2="1876.4" stroke="#e2e2e2" stroke-width="1.1" />
<line x1="1454.6" y1="1876.4" x2="1458.5" y2="1876.4" stroke="#333" stroke-width="1.6" />
<text x="1443.2" y="1881.2" style="font-family:'Liberation Sans',Arial,Helvetica,sans-serif;font-size:18.6px;font-weight:bold" text-anchor="end" fill="#111" stroke="#111" stroke-width="0.45">Oxidative phosphorylation</text>
<line x1="1458.5" y1="1906.2" x2="1838.3" y2="1906.2" stroke="#e2e2e2" stroke-width="1.1" />
<line x1="1454.6" y1="1906.2" x2="1458.5" y2="1906.2" stroke="#333" stroke-width="1.6" />
<text x="1443.2" y="1911.0" style="font-family:'Liberation Sans',Arial,Helvetica,sans-serif;font-size:18.6px;font-weight:bold" text-anchor="end" fill="#111" stroke="#111" stroke-width="0.45">Isoquinoline alkaloid biosynthesis</text>
<circle cx="1820.9" cy="1340.9" r="7.0" fill="#e8b234" stroke="none" stroke-width="0"/>
<circle cx="1812.6" cy="1370.7" r="8.7" fill="#ee2a2c" stroke="none" stroke-width="0"/>
<circle cx="1799.1" cy="1400.4" r="3.7" fill="#3b36a2" stroke="none" stroke-width="0"/>
<circle cx="1788.9" cy="1430.2" r="8.3" fill="#e8692c" stroke="none" stroke-width="0"/>
<circle cx="1778.1" cy="1459.9" r="7.6" fill="#e8b632" stroke="none" stroke-width="0"/>
<circle cx="1726.1" cy="1489.7" r="8.0" fill="#e6df34" stroke="none" stroke-width="0"/>
<circle cx="1716.8" cy="1519.4" r="9.6" fill="#e9ac2c" stroke="none" stroke-width="0"/>
<circle cx="1710.2" cy="1549.2" r="4.1" fill="#a868b2" stroke="none" stroke-width="0"/>
<circle cx="1678.5" cy="1578.9" r="6.5" fill="#3a3aa8" stroke="none" stroke-width="0"/>
<circle cx="1667.4" cy="1608.7" r="4.8" fill="#e2ea42" stroke="none" stroke-width="0"/>
<circle cx="1663.5" cy="1638.4" r="5.4" fill="#3c34a0" stroke="none" stroke-width="0"/>
<circle cx="1663.5" cy="1668.2" r="10.2" fill="#e2ea44" stroke="none" stroke-width="0"/>
<circle cx="1642.8" cy="1697.9" r="3.9" fill="#3c32a2" stroke="none" stroke-width="0"/>
<circle cx="1638.5" cy="1727.7" r="6.5" fill="#4a329c" stroke="none" stroke-width="0"/>
<circle cx="1607.0" cy="1757.4" r="7.2" fill="#2e50aa" stroke="none" stroke-width="0"/>
<circle cx="1602.0" cy="1787.2" r="7.6" fill="#8c62b8" stroke="none" stroke-width="0"/>
<circle cx="1602.0" cy="1816.9" r="7.6" fill="#2e50aa" stroke="none" stroke-width="0"/>
<circle cx="1584.6" cy="1846.7" r="7.4" fill="#3838a2" stroke="none" stroke-width="0"/>
<circle cx="1510.7" cy="1876.4" r="8.7" fill="#4232a2" stroke="none" stroke-width="0"/>
<circle cx="1475.4" cy="1906.2" r="2.6" fill="#4232a2" stroke="none" stroke-width="0"/>
<rect x="1458.5" y="1323.3" width="379.8" height="598.9" fill="none" stroke="#7a7a7a" stroke-width="1.3"/>
<line x1="1535.0" y1="1922.2" x2="1535.0" y2="1924.7" stroke="#555" stroke-width="1.3" />
<text x="1535.0" y="1940.0" style="font-family:'Liberation Sans',Arial,Helvetica,sans-serif;font-size:13.5px;font-weight:normal" text-anchor="middle" fill="#555" >0.10</text>
<line x1="1615.7" y1="1922.2" x2="1615.7" y2="1924.7" stroke="#555" stroke-width="1.3" />
<text x="1615.7" y="1940.0" style="font-family:'Liberation Sans',Arial,Helvetica,sans-serif;font-size:13.5px;font-weight:normal" text-anchor="middle" fill="#555" >0.15</text>
<line x1="1697.0" y1="1922.2" x2="1697.0" y2="1924.7" stroke="#555" stroke-width="1.3" />
<text x="1697.0" y="1940.0" style="font-family:'Liberation Sans',Arial,Helvetica,sans-serif;font-size:13.5px;font-weight:normal" text-anchor="middle" fill="#555" >0.20</text>
<line x1="1778.0" y1="1922.2" x2="1778.0" y2="1924.7" stroke="#555" stroke-width="1.3" />
<text x="1778.0" y="1940.0" style="font-family:'Liberation Sans',Arial,Helvetica,sans-serif;font-size:13.5px;font-weight:normal" text-anchor="middle" fill="#555" >0.25</text>
<defs><linearGradient id="cb" x1="0" y1="0" x2="0" y2="1"><stop offset="0" stop-color="#f2262a"/><stop offset="0.2" stop-color="#e8702c"/><stop offset="0.33" stop-color="#e8b432"/><stop offset="0.43" stop-color="#e8f03a"/><stop offset="0.55" stop-color="#d8e048"/><stop offset="0.64" stop-color="#c4a880"/><stop offset="0.75" stop-color="#b070b4"/><stop offset="0.86" stop-color="#6c4cb0"/><stop offset="1" stop-color="#2c36a0"/></linearGradient></defs>
<rect x="1861.9" y="1520.6" width="24.9" height="123.8" fill="url(#cb)" stroke="none" stroke-width="0" />
<line x1="1861.9" y1="1541.2" x2="1866.5" y2="1541.2" stroke="#fff" stroke-width="0.8" />
<line x1="1882.2" y1="1541.2" x2="1886.8" y2="1541.2" stroke="#fff" stroke-width="0.8" />
<text x="1894.5" y="1545.6" style="font-family:'Liberation Sans',Arial,Helvetica,sans-serif;font-size:12.5px;font-weight:normal" text-anchor="start" fill="#333" >5</text>
<line x1="1861.9" y1="1569.3" x2="1866.5" y2="1569.3" stroke="#fff" stroke-width="0.8" />
<line x1="1882.2" y1="1569.3" x2="1886.8" y2="1569.3" stroke="#fff" stroke-width="0.8" />
<text x="1894.5" y="1573.7" style="font-family:'Liberation Sans',Arial,Helvetica,sans-serif;font-size:12.5px;font-weight:normal" text-anchor="start" fill="#333" >4</text>
<line x1="1861.9" y1="1597.4" x2="1866.5" y2="1597.4" stroke="#fff" stroke-width="0.8" />
<line x1="1882.2" y1="1597.4" x2="1886.8" y2="1597.4" stroke="#fff" stroke-width="0.8" />
<text x="1894.5" y="1601.8" style="font-family:'Liberation Sans',Arial,Helvetica,sans-serif;font-size:12.5px;font-weight:normal" text-anchor="start" fill="#333" >3</text>
<line x1="1861.9" y1="1625.5" x2="1866.5" y2="1625.5" stroke="#fff" stroke-width="0.8" />
<line x1="1882.2" y1="1625.5" x2="1886.8" y2="1625.5" stroke="#fff" stroke-width="0.8" />
<text x="1894.5" y="1629.9" style="font-family:'Liberation Sans',Arial,Helvetica,sans-serif;font-size:12.5px;font-weight:normal" text-anchor="start" fill="#333" >2</text>
<text x="1861.5" y="1512.3" style="font-family:'Liberation Sans',Arial,Helvetica,sans-serif;font-size:15.5px;font-weight:normal" text-anchor="start" fill="#222" >-log10(Pvalue)</text>
<text x="1862.0" y="1689.4" style="font-family:'Liberation Sans',Arial,Helvetica,sans-serif;font-size:15.5px;font-weight:normal" text-anchor="start" fill="#222" >Number</text>
<circle cx="1874.1" cy="1711.1" r="6.3" fill="#000" stroke="none" stroke-width="0"/>
<circle cx="1874.1" cy="1735.7" r="8.8" fill="#000" stroke="none" stroke-width="0"/>
<text x="1894.5" y="1715.5" style="font-family:'Liberation Sans',Arial,Helvetica,sans-serif;font-size:12.5px;font-weight:normal" text-anchor="start" fill="#333" >10</text>
<text x="1894.5" y="1740.1" style="font-family:'Liberation Sans',Arial,Helvetica,sans-serif;font-size:12.5px;font-weight:normal" text-anchor="start" fill="#333" >20</text>
<line x1="1332.0" y1="718.8" x2="1346.6" y2="718.8" stroke="#000" stroke-width="3.8" />
<text x="1329.5" y="726.2" style="font-family:'Liberation Sans',Arial,Helvetica,sans-serif;font-size:21px;font-weight:bold" text-anchor="end" fill="#000"  stroke="#000" stroke-width="0.35">1.5</text>
<line x1="1332.0" y1="817.1" x2="1346.6" y2="817.1" stroke="#000" stroke-width="3.8" />
<text x="1329.5" y="824.6" style="font-family:'Liberation Sans',Arial,Helvetica,sans-serif;font-size:21px;font-weight:bold" text-anchor="end" fill="#000"  stroke="#000" stroke-width="0.35">1.0</text>
<line x1="1332.0" y1="915.4" x2="1346.6" y2="915.4" stroke="#000" stroke-width="3.8" />
<text x="1329.5" y="922.9" style="font-family:'Liberation Sans',Arial,Helvetica,sans-serif;font-size:21px;font-weight:bold" text-anchor="end" fill="#000"  stroke="#000" stroke-width="0.35">0.5</text>
<line x1="1332.0" y1="1013.8" x2="1346.6" y2="1013.8" stroke="#000" stroke-width="3.8" />
<text x="1329.5" y="1021.3" style="font-family:'Liberation Sans',Arial,Helvetica,sans-serif;font-size:21px;font-weight:bold" text-anchor="end" fill="#000"  stroke="#000" stroke-width="0.35">0.0</text>
<line x1="1379.5" y1="1114.2" x2="1379.5" y2="1128.6" stroke="#000" stroke-width="4.0" />
<line x1="1455.4" y1="1114.2" x2="1455.4" y2="1128.6" stroke="#000" stroke-width="4.0" />
<line x1="1531.6" y1="1114.2" x2="1531.6" y2="1128.6" stroke="#000" stroke-width="4.0" />
<line x1="1607.7" y1="1114.2" x2="1607.7" y2="1128.6" stroke="#000" stroke-width="4.0" />
<line x1="1683.8" y1="1114.2" x2="1683.8" y2="1128.6" stroke="#000" stroke-width="4.0" />
<line x1="1760.0" y1="1114.2" x2="1760.0" y2="1128.6" stroke="#000" stroke-width="4.0" />
<line x1="1836.1" y1="1114.2" x2="1836.1" y2="1128.6" stroke="#000" stroke-width="4.0" />
<line x1="1912.3" y1="1114.2" x2="1912.3" y2="1128.6" stroke="#000" stroke-width="4.0" />
<text transform="translate(1384.9,1148.0) rotate(-45)" style="font-family:'Liberation Sans',Arial,Helvetica,sans-serif;font-size:21.6px;font-weight:bold" text-anchor="end" fill="#000" stroke="#000" stroke-width="0.35">f_Bacteroidaceae</text>
<text transform="translate(1460.8,1148.0) rotate(-45)" style="font-family:'Liberation Sans',Arial,Helvetica,sans-serif;font-size:21.6px;font-weight:bold" text-anchor="end" fill="#000" stroke="#000" stroke-width="0.35">f_Oscillospiraceae</text>
<text transform="translate(1537.0,1148.0) rotate(-45)" style="font-family:'Liberation Sans',Arial,Helvetica,sans-serif;font-size:21.6px;font-weight:bold" text-anchor="end" fill="#000" stroke="#000" stroke-width="0.35">f_Erysipelotrichaceae</text>
<text transform="translate(1613.1,1148.0) rotate(-45)" style="font-family:'Liberation Sans',Arial,Helvetica,sans-serif;font-size:21.6px;font-weight:bold" text-anchor="end" fill="#000" stroke="#000" stroke-width="0.35">f_Tannerellaceae</text>
<text transform="translate(1689.2,1148.0) rotate(-45)" style="font-family:'Liberation Sans',Arial,Helvetica,sans-serif;font-size:21.6px;font-weight:bold" text-anchor="end" fill="#000" stroke="#000" stroke-width="0.35">f_Rikenellaceae</text>
<text transform="translate(1765.4,1148.0) rotate(-45)" style="font-family:'Liberation Sans',Arial,Helvetica,sans-serif;font-size:21.6px;font-weight:bold" text-anchor="end" fill="#000" stroke="#000" stroke-width="0.35">f_Monoglobaceae</text>
<text transform="translate(1841.5,1148.0) rotate(-45)" style="font-family:'Liberation Sans',Arial,Helvetica,sans-serif;font-size:21.6px;font-weight:bold" text-anchor="end" fill="#000" stroke="#000" stroke-width="0.35">f_RF39</text>
<text transform="translate(1917.7,1148.0) rotate(-45)" style="font-family:'Liberation Sans',Arial,Helvetica,sans-serif;font-size:21.6px;font-weight:bold" text-anchor="end" fill="#000" stroke="#000" stroke-width="0.35">f_Muribaculaceae</text>
<path d="M1365.50,837.40 C1365.57,837.40 1365.62,853.90 1365.70,859.00 C1365.78,864.10 1365.60,864.75 1366.00,868.00 C1366.40,871.25 1367.08,874.58 1368.10,878.50 C1369.12,882.42 1371.23,887.17 1372.10,891.50 C1372.97,895.83 1373.12,901.25 1373.30,904.50 C1373.48,907.75 1373.53,907.75 1373.20,911.00 C1372.87,914.25 1371.93,919.67 1371.30,924.00 C1370.67,928.33 1369.93,933.37 1369.40,937.00 C1368.87,940.63 1368.32,942.55 1368.10,945.80 C1367.88,949.05 1367.88,952.55 1368.10,956.50 C1368.32,960.45 1368.85,965.17 1369.40,969.50 C1369.95,973.83 1370.72,978.17 1371.40,982.50 C1372.08,986.83 1373.40,991.17 1373.50,995.50 C1373.60,999.83 1372.83,1004.17 1372.00,1008.50 C1371.17,1012.83 1369.48,1017.82 1368.50,1021.50 C1367.52,1025.18 1366.57,1027.35 1366.10,1030.60 C1365.63,1033.85 1365.80,1035.97 1365.70,1041.00 C1365.60,1046.03 1365.57,1060.80 1365.50,1060.80 C1365.43,1060.80 1365.40,1046.03 1365.30,1041.00 C1365.20,1035.97 1365.37,1033.85 1364.90,1030.60 C1364.43,1027.35 1363.48,1025.18 1362.50,1021.50 C1361.52,1017.82 1359.83,1012.83 1359.00,1008.50 C1358.17,1004.17 1357.40,999.83 1357.50,995.50 C1357.60,991.17 1358.92,986.83 1359.60,982.50 C1360.28,978.17 1361.05,973.83 1361.60,969.50 C1362.15,965.17 1362.68,960.45 1362.90,956.50 C1363.12,952.55 1363.12,949.05 1362.90,945.80 C1362.68,942.55 1362.13,940.63 1361.60,937.00 C1361.07,933.37 1360.33,928.33 1359.70,924.00 C1359.07,919.67 1358.13,914.25 1357.80,911.00 C1357.47,907.75 1357.52,907.75 1357.70,904.50 C1357.88,901.25 1358.03,895.83 1358.90,891.50 C1359.77,887.17 1361.88,882.42 1362.90,878.50 C1363.92,874.58 1364.60,871.25 1365.00,868.00 C1365.40,864.75 1365.22,864.10 1365.30,859.00 C1365.38,853.90 1365.43,837.40 1365.50,837.40 Z" fill="#b8e3c4" stroke="#000" stroke-width="2.6" stroke-linejoin="round"/>
<line x1="1362.3" y1="909.3" x2="1370.0" y2="909.3" stroke="#000" stroke-width="1.8" stroke-dasharray="0.1,5.6" stroke-linecap="round"/>
<line x1="1362.3" y1="1000.1" x2="1370.0" y2="1000.1" stroke="#000" stroke-width="1.8" stroke-dasharray="0.1,5.6" stroke-linecap="round"/>
<line x1="1363.0" y1="945.8" x2="1368.0" y2="945.8" stroke="#000" stroke-width="1.8" />
<path d="M1394.00,908.40 C1394.10,908.40 1394.15,912.23 1394.30,915.00 C1394.45,917.77 1394.77,921.67 1394.90,925.00 C1395.03,928.33 1395.13,931.17 1395.10,935.00 C1395.07,938.83 1394.82,943.00 1394.70,948.00 C1394.58,953.00 1394.42,960.17 1394.40,965.00 C1394.38,969.83 1394.30,973.83 1394.60,977.00 C1394.90,980.17 1395.38,981.67 1396.20,984.00 C1397.02,986.33 1398.57,988.22 1399.50,991.00 C1400.43,993.78 1401.65,997.53 1401.80,1000.70 C1401.95,1003.87 1401.23,1006.78 1400.40,1010.00 C1399.57,1013.22 1397.70,1017.17 1396.80,1020.00 C1395.90,1022.83 1395.47,1023.93 1395.00,1027.00 C1394.53,1030.07 1394.33,1038.40 1394.00,1038.40 C1393.67,1038.40 1393.47,1030.07 1393.00,1027.00 C1392.53,1023.93 1392.10,1022.83 1391.20,1020.00 C1390.30,1017.17 1388.43,1013.22 1387.60,1010.00 C1386.77,1006.78 1386.05,1003.87 1386.20,1000.70 C1386.35,997.53 1387.57,993.78 1388.50,991.00 C1389.43,988.22 1390.98,986.33 1391.80,984.00 C1392.62,981.67 1393.10,980.17 1393.40,977.00 C1393.70,973.83 1393.62,969.83 1393.60,965.00 C1393.58,960.17 1393.42,953.00 1393.30,948.00 C1393.18,943.00 1392.93,938.83 1392.90,935.00 C1392.87,931.17 1392.97,928.33 1393.10,925.00 C1393.23,921.67 1393.55,917.77 1393.70,915.00 C1393.85,912.23 1393.90,908.40 1394.00,908.40 Z" fill="#f2d5b3" stroke="#000" stroke-width="2.6" stroke-linejoin="round"/>
<line x1="1389.5" y1="999.4" x2="1397.5" y2="999.4" stroke="#000" stroke-width="2.6" />
<circle cx="1394.5" cy="1009.8" r="1.0" fill="#000" stroke="none" stroke-width="0"/>
<text x="1395.1" y="907.2" style="font-family:'Liberation Sans',Arial,Helvetica,sans-serif;font-size:24.6px;font-weight:bold" text-anchor="middle" fill="#000"  stroke="#000" stroke-width="0.35">*</text>
<line x1="1441.8" y1="973.5" x2="1441.8" y2="1010.0" stroke="#000" stroke-width="2.4" />
<circle cx="1441.8" cy="974.5" r="2.0" fill="#000" stroke="none" stroke-width="0"/>
<circle cx="1441.8" cy="1004.5" r="1.8" fill="#000" stroke="none" stroke-width="0"/>
<path d="M1441.80,1010.10 C1442.85,1010.10 1443.67,1011.35 1444.95,1011.85 C1446.23,1012.35 1448.48,1012.81 1449.45,1013.10 C1450.42,1013.39 1450.88,1013.42 1450.80,1013.60 C1450.72,1013.78 1450.05,1013.85 1449.00,1014.20 C1447.95,1014.55 1445.70,1015.22 1444.50,1015.70 C1443.30,1016.18 1442.70,1017.10 1441.80,1017.10 C1440.90,1017.10 1440.30,1016.18 1439.10,1015.70 C1437.90,1015.22 1435.65,1014.55 1434.60,1014.20 C1433.55,1013.85 1432.88,1013.78 1432.80,1013.60 C1432.72,1013.42 1433.17,1013.39 1434.15,1013.10 C1435.12,1012.81 1437.37,1012.35 1438.65,1011.85 C1439.92,1011.35 1440.75,1010.10 1441.80,1010.10 Z" fill="#000" stroke="#000" stroke-width="1.6" stroke-linejoin="round"/>
<path d="M1470.30,1011.30 C1471.35,1011.30 1472.17,1012.22 1473.45,1012.55 C1474.73,1012.88 1476.98,1013.09 1477.95,1013.30 C1478.92,1013.51 1479.38,1013.62 1479.30,1013.80 C1479.22,1013.98 1478.55,1014.20 1477.50,1014.40 C1476.45,1014.60 1474.20,1014.77 1473.00,1015.00 C1471.80,1015.23 1471.20,1015.80 1470.30,1015.80 C1469.40,1015.80 1468.80,1015.23 1467.60,1015.00 C1466.40,1014.77 1464.15,1014.60 1463.10,1014.40 C1462.05,1014.20 1461.38,1013.98 1461.30,1013.80 C1461.22,1013.62 1461.67,1013.51 1462.65,1013.30 C1463.62,1013.09 1465.87,1012.88 1467.15,1012.55 C1468.42,1012.22 1469.25,1011.30 1470.30,1011.30 Z" fill="#000" stroke="#000" stroke-width="1.6" stroke-linejoin="round"/>
<circle cx="1470.3" cy="1010.4" r="2.2" fill="#000" stroke="none" stroke-width="0"/>
<text x="1470.8" y="1012.8" style="font-family:'Liberation Sans',Arial,Helvetica,sans-serif;font-size:26.5px;font-weight:bold" text-anchor="middle" fill="#000"  stroke="#000" stroke-width="0.35">*</text>
<path d="M1517.80,1011.60 C1518.56,1011.60 1519.15,1012.42 1520.08,1012.70 C1521.00,1012.98 1522.62,1013.12 1523.33,1013.30 C1524.03,1013.48 1524.35,1013.62 1524.30,1013.80 C1524.25,1013.98 1523.76,1014.22 1523.00,1014.40 C1522.24,1014.58 1520.62,1014.68 1519.75,1014.88 C1518.88,1015.08 1518.45,1015.60 1517.80,1015.60 C1517.15,1015.60 1516.72,1015.08 1515.85,1014.88 C1514.98,1014.68 1513.36,1014.58 1512.60,1014.40 C1511.84,1014.22 1511.35,1013.98 1511.30,1013.80 C1511.25,1013.62 1511.57,1013.48 1512.27,1013.30 C1512.98,1013.12 1514.60,1012.98 1515.52,1012.70 C1516.45,1012.42 1517.04,1011.60 1517.80,1011.60 Z" fill="#000" stroke="#000" stroke-width="1.6" stroke-linejoin="round"/>
<line x1="1546.6" y1="986.0" x2="1546.6" y2="1010.0" stroke="#000" stroke-width="2.4" />
<circle cx="1546.6" cy="987.0" r="1.8" fill="#000" stroke="none" stroke-width="0"/>
<circle cx="1546.6" cy="998.0" r="1.6" fill="#000" stroke="none" stroke-width="0"/>
<path d="M1546.60,1010.80 C1547.67,1010.80 1548.52,1011.88 1549.82,1012.30 C1551.12,1012.72 1553.42,1013.05 1554.42,1013.30 C1555.42,1013.55 1555.88,1013.62 1555.80,1013.80 C1555.72,1013.98 1555.03,1014.10 1553.96,1014.40 C1552.89,1014.70 1550.59,1015.20 1549.36,1015.60 C1548.13,1016.00 1547.52,1016.80 1546.60,1016.80 C1545.68,1016.80 1545.07,1016.00 1543.84,1015.60 C1542.61,1015.20 1540.31,1014.70 1539.24,1014.40 C1538.17,1014.10 1537.48,1013.98 1537.40,1013.80 C1537.32,1013.62 1537.78,1013.55 1538.78,1013.30 C1539.78,1013.05 1542.08,1012.72 1543.38,1012.30 C1544.68,1011.88 1545.53,1010.80 1546.60,1010.80 Z" fill="#000" stroke="#000" stroke-width="1.6" stroke-linejoin="round"/>
<text x="1547.1" y="987.6" style="font-family:'Liberation Sans',Arial,Helvetica,sans-serif;font-size:26.5px;font-weight:bold" text-anchor="middle" fill="#000"  stroke="#000" stroke-width="0.35">*</text>
<path d="M1594.10,1010.80 C1595.15,1010.80 1595.97,1011.88 1597.25,1012.30 C1598.53,1012.72 1600.78,1013.05 1601.75,1013.30 C1602.72,1013.55 1603.17,1013.62 1603.10,1013.80 C1603.02,1013.98 1602.35,1014.15 1601.30,1014.40 C1600.25,1014.65 1598.00,1014.98 1596.80,1015.30 C1595.60,1015.62 1595.00,1016.30 1594.10,1016.30 C1593.20,1016.30 1592.60,1015.62 1591.40,1015.30 C1590.20,1014.98 1587.95,1014.65 1586.90,1014.40 C1585.85,1014.15 1585.17,1013.98 1585.10,1013.80 C1585.02,1013.62 1585.47,1013.55 1586.45,1013.30 C1587.42,1013.05 1589.67,1012.72 1590.95,1012.30 C1592.22,1011.88 1593.05,1010.80 1594.10,1010.80 Z" fill="#000" stroke="#000" stroke-width="1.6" stroke-linejoin="round"/>
<circle cx="1594.1" cy="1009.8" r="2.6" fill="#000" stroke="none" stroke-width="0"/>
<path d="M1622.60,1011.60 C1623.63,1011.60 1624.43,1012.42 1625.68,1012.70 C1626.93,1012.98 1629.13,1013.12 1630.08,1013.30 C1631.03,1013.48 1631.47,1013.62 1631.40,1013.80 C1631.33,1013.98 1630.67,1014.20 1629.64,1014.40 C1628.61,1014.60 1626.41,1014.77 1625.24,1015.00 C1624.07,1015.23 1623.48,1015.80 1622.60,1015.80 C1621.72,1015.80 1621.13,1015.23 1619.96,1015.00 C1618.79,1014.77 1616.59,1014.60 1615.56,1014.40 C1614.53,1014.20 1613.87,1013.98 1613.80,1013.80 C1613.73,1013.62 1614.17,1013.48 1615.12,1013.30 C1616.07,1013.12 1618.27,1012.98 1619.52,1012.70 C1620.77,1012.42 1621.57,1011.60 1622.60,1011.60 Z" fill="#000" stroke="#000" stroke-width="1.6" stroke-linejoin="round"/>
<text x="1623.1" y="1012.8" style="font-family:'Liberation Sans',Arial,Helvetica,sans-serif;font-size:26.5px;font-weight:bold" text-anchor="middle" fill="#000"  stroke="#000" stroke-width="0.35">*</text>
<path d="M1670.20,1005.80 C1671.25,1005.80 1672.08,1008.22 1673.35,1009.30 C1674.63,1010.38 1676.88,1011.72 1677.85,1012.30 C1678.83,1012.88 1679.28,1012.62 1679.20,1012.80 C1679.12,1012.98 1678.45,1012.85 1677.40,1013.40 C1676.35,1013.95 1674.10,1015.28 1672.90,1016.10 C1671.70,1016.92 1671.10,1018.30 1670.20,1018.30 C1669.30,1018.30 1668.70,1016.92 1667.50,1016.10 C1666.30,1015.28 1664.05,1013.95 1663.00,1013.40 C1661.95,1012.85 1661.28,1012.98 1661.20,1012.80 C1661.12,1012.62 1661.58,1012.88 1662.55,1012.30 C1663.52,1011.72 1665.77,1010.38 1667.05,1009.30 C1668.33,1008.22 1669.15,1005.80 1670.20,1005.80 Z" fill="#000" stroke="#000" stroke-width="1.6" stroke-linejoin="round"/>
<circle cx="1670.2" cy="1004.8" r="2.4" fill="#000" stroke="none" stroke-width="0"/>
<circle cx="1698.7" cy="1014.0" r="1.3" fill="#000" stroke="none" stroke-width="0"/>
<text x="1699.2" y="984.8" style="font-family:'Liberation Sans',Arial,Helvetica,sans-serif;font-size:26.5px;font-weight:bold" text-anchor="middle" fill="#000"  stroke="#000" stroke-width="0.35">*</text>
<text x="1699.2" y="996.0" style="font-family:'Liberation Sans',Arial,Helvetica,sans-serif;font-size:26.5px;font-weight:bold" text-anchor="middle" fill="#000"  stroke="#000" stroke-width="0.35">*</text>
<text x="1699.2" y="1007.2" style="font-family:'Liberation Sans',Arial,Helvetica,sans-serif;font-size:26.5px;font-weight:bold" text-anchor="middle" fill="#000"  stroke="#000" stroke-width="0.35">*</text>
<path d="M1746.20,1011.60 C1747.25,1011.60 1748.08,1012.42 1749.35,1012.70 C1750.63,1012.98 1752.88,1013.12 1753.85,1013.30 C1754.83,1013.48 1755.28,1013.62 1755.20,1013.80 C1755.12,1013.98 1754.45,1014.20 1753.40,1014.40 C1752.35,1014.60 1750.10,1014.77 1748.90,1015.00 C1747.70,1015.23 1747.10,1015.80 1746.20,1015.80 C1745.30,1015.80 1744.70,1015.23 1743.50,1015.00 C1742.30,1014.77 1740.05,1014.60 1739.00,1014.40 C1737.95,1014.20 1737.28,1013.98 1737.20,1013.80 C1737.12,1013.62 1737.58,1013.48 1738.55,1013.30 C1739.52,1013.12 1741.77,1012.98 1743.05,1012.70 C1744.33,1012.42 1745.15,1011.60 1746.20,1011.60 Z" fill="#000" stroke="#000" stroke-width="1.6" stroke-linejoin="round"/>
<circle cx="1775.0" cy="1014.0" r="1.3" fill="#000" stroke="none" stroke-width="0"/>
<text x="1775.5" y="1014.1" style="font-family:'Liberation Sans',Arial,Helvetica,sans-serif;font-size:26.2px;font-weight:bold" text-anchor="middle" fill="#000"  stroke="#000" stroke-width="0.35">*</text>
<path d="M1822.50,1011.60 C1823.34,1011.60 1824.00,1012.42 1825.02,1012.70 C1826.04,1012.98 1827.84,1013.12 1828.62,1013.30 C1829.40,1013.48 1829.76,1013.62 1829.70,1013.80 C1829.64,1013.98 1829.10,1014.20 1828.26,1014.40 C1827.42,1014.60 1825.62,1014.77 1824.66,1015.00 C1823.70,1015.23 1823.22,1015.80 1822.50,1015.80 C1821.78,1015.80 1821.30,1015.23 1820.34,1015.00 C1819.38,1014.77 1817.58,1014.60 1816.74,1014.40 C1815.90,1014.20 1815.36,1013.98 1815.30,1013.80 C1815.24,1013.62 1815.60,1013.48 1816.38,1013.30 C1817.16,1013.12 1818.96,1012.98 1819.98,1012.70 C1821.00,1012.42 1821.66,1011.60 1822.50,1011.60 Z" fill="#000" stroke="#000" stroke-width="1.6" stroke-linejoin="round"/>
<circle cx="1822.5" cy="1010.9" r="1.8" fill="#000" stroke="none" stroke-width="0"/>
<text x="1848.1" y="1014.1" style="font-family:'Liberation Sans',Arial,Helvetica,sans-serif;font-size:26.2px;font-weight:bold" text-anchor="middle" fill="#000"  stroke="#000" stroke-width="0.35">*</text>
<path d="M1898.80,1011.20 C1899.85,1011.20 1900.67,1012.15 1901.95,1012.50 C1903.23,1012.85 1905.48,1013.08 1906.45,1013.30 C1907.42,1013.52 1907.88,1013.62 1907.80,1013.80 C1907.72,1013.98 1907.05,1014.20 1906.00,1014.40 C1904.95,1014.60 1902.70,1014.77 1901.50,1015.00 C1900.30,1015.23 1899.70,1015.80 1898.80,1015.80 C1897.90,1015.80 1897.30,1015.23 1896.10,1015.00 C1894.90,1014.77 1892.65,1014.60 1891.60,1014.40 C1890.55,1014.20 1889.88,1013.98 1889.80,1013.80 C1889.72,1013.62 1890.17,1013.52 1891.15,1013.30 C1892.12,1013.08 1894.37,1012.85 1895.65,1012.50 C1896.92,1012.15 1897.75,1011.20 1898.80,1011.20 Z" fill="#000" stroke="#000" stroke-width="1.6" stroke-linejoin="round"/>
<circle cx="1898.8" cy="1010.4" r="2.0" fill="#000" stroke="none" stroke-width="0"/>
<text x="1922.4" y="1001.5" style="font-family:'Liberation Sans',Arial,Helvetica,sans-serif;font-size:17px;font-weight:bold" text-anchor="middle" fill="#000"  stroke="#000" stroke-width="0.35">ns</text>
<path d="M1346.6,718.0 H1945.5 V1114.2 H1346.6 Z" fill="none" stroke="#000" stroke-width="4.0"/>
<line x1="66.7" y1="1322.8" x2="80.1" y2="1322.8" stroke="#000" stroke-width="3.8" />
<text x="63.5" y="1330.0" style="font-family:'Liberation Sans',Arial,Helvetica,sans-serif;font-size:20.5px;font-weight:bold" text-anchor="end" fill="#000"  stroke="#000" stroke-width="0.35">1.5</text>
<line x1="66.7" y1="1423.2" x2="80.1" y2="1423.2" stroke="#000" stroke-width="3.8" />
<text x="63.5" y="1430.5" style="font-family:'Liberation Sans',Arial,Helvetica,sans-serif;font-size:20.5px;font-weight:bold" text-anchor="end" fill="#000"  stroke="#000" stroke-width="0.35">1.0</text>
<line x1="66.7" y1="1523.6" x2="80.1" y2="1523.6" stroke="#000" stroke-width="3.8" />
<text x="63.5" y="1530.9" style="font-family:'Liberation Sans',Arial,Helvetica,sans-serif;font-size:20.5px;font-weight:bold" text-anchor="end" fill="#000"  stroke="#000" stroke-width="0.35">0.5</text>
<line x1="66.7" y1="1624.1" x2="80.1" y2="1624.1" stroke="#000" stroke-width="3.8" />
<text x="63.5" y="1631.4" style="font-family:'Liberation Sans',Arial,Helvetica,sans-serif;font-size:20.5px;font-weight:bold" text-anchor="end" fill="#000"  stroke="#000" stroke-width="0.35">0.0</text>
<line x1="115.2" y1="1724.6" x2="115.2" y2="1737.0" stroke="#000" stroke-width="4.0" />
<line x1="198.6" y1="1724.6" x2="198.6" y2="1737.0" stroke="#000" stroke-width="4.0" />
<line x1="281.6" y1="1724.6" x2="281.6" y2="1737.0" stroke="#000" stroke-width="4.0" />
<line x1="364.8" y1="1724.6" x2="364.8" y2="1737.0" stroke="#000" stroke-width="4.0" />
<line x1="447.9" y1="1724.6" x2="447.9" y2="1737.0" stroke="#000" stroke-width="4.0" />
<line x1="531.0" y1="1724.6" x2="531.0" y2="1737.0" stroke="#000" stroke-width="4.0" />
<line x1="614.3" y1="1724.6" x2="614.3" y2="1737.0" stroke="#000" stroke-width="4.0" />
<line x1="697.5" y1="1724.6" x2="697.5" y2="1737.0" stroke="#000" stroke-width="4.0" />
<line x1="780.4" y1="1724.6" x2="780.4" y2="1737.0" stroke="#000" stroke-width="4.0" />
<line x1="863.5" y1="1724.6" x2="863.5" y2="1737.0" stroke="#000" stroke-width="4.0" />
<text transform="translate(121.4,1758.0) rotate(-45)" style="font-family:'Liberation Sans',Arial,Helvetica,sans-serif;font-size:22.8px;font-weight:bold" text-anchor="end" fill="#000" stroke="#000" stroke-width="0.35">g_Bacteroides</text>
<text transform="translate(204.8,1758.0) rotate(-45)" style="font-family:'Liberation Sans',Arial,Helvetica,sans-serif;font-size:22.8px;font-weight:bold" text-anchor="end" fill="#000" stroke="#000" stroke-width="0.35">g_Blautia</text>
<text transform="translate(287.8,1758.0) rotate(-45)" style="font-family:'Liberation Sans',Arial,Helvetica,sans-serif;font-size:22.8px;font-weight:bold" text-anchor="end" fill="#000" stroke="#000" stroke-width="0.35">g_Eubacterium_eligens_group</text>
<text transform="translate(371.0,1758.0) rotate(-45)" style="font-family:'Liberation Sans',Arial,Helvetica,sans-serif;font-size:22.8px;font-weight:bold" text-anchor="end" fill="#000" stroke="#000" stroke-width="0.35">g_Agathobacter</text>
<text transform="translate(454.1,1758.0) rotate(-45)" style="font-family:'Liberation Sans',Arial,Helvetica,sans-serif;font-size:22.8px;font-weight:bold" text-anchor="end" fill="#000" stroke="#000" stroke-width="0.35">g_Parabacteroides</text>
<text transform="translate(537.2,1758.0) rotate(-45)" style="font-family:'Liberation Sans',Arial,Helvetica,sans-serif;font-size:22.8px;font-weight:bold" text-anchor="end" fill="#000" stroke="#000" stroke-width="0.35">g_Alistipes</text>
<text transform="translate(620.5,1758.0) rotate(-45)" style="font-family:'Liberation Sans',Arial,Helvetica,sans-serif;font-size:22.8px;font-weight:bold" text-anchor="end" fill="#000" stroke="#000" stroke-width="0.35">g_Monoglobus</text>
<text transform="translate(703.7,1758.0) rotate(-45)" style="font-family:'Liberation Sans',Arial,Helvetica,sans-serif;font-size:22.8px;font-weight:bold" text-anchor="end" fill="#000" stroke="#000" stroke-width="0.35">g_Lachnospiraceae_UCG-010</text>
<text transform="translate(786.6,1758.0) rotate(-45)" style="font-family:'Liberation Sans',Arial,Helvetica,sans-serif;font-size:22.8px;font-weight:bold" text-anchor="end" fill="#000" stroke="#000" stroke-width="0.35">g_Turicibacter</text>
<text transform="translate(869.7,1758.0) rotate(-45)" style="font-family:'Liberation Sans',Arial,Helvetica,sans-serif;font-size:22.8px;font-weight:bold" text-anchor="end" fill="#000" stroke="#000" stroke-width="0.35">g_RF39</text>
<path d="M100.50,1446.00 C100.57,1446.00 100.57,1464.33 100.70,1470.00 C100.83,1475.67 100.57,1476.18 101.30,1480.00 C102.03,1483.82 103.92,1488.23 105.10,1492.90 C106.28,1497.57 107.78,1504.05 108.40,1508.00 C109.02,1511.95 108.97,1512.83 108.80,1516.60 C108.63,1520.37 108.03,1525.70 107.40,1530.60 C106.77,1535.50 105.75,1542.03 105.00,1546.00 C104.25,1549.97 103.30,1550.43 102.90,1554.40 C102.50,1558.37 102.32,1564.92 102.60,1569.80 C102.88,1574.68 103.80,1579.05 104.60,1583.70 C105.40,1588.35 106.63,1593.50 107.40,1597.70 C108.17,1601.90 109.20,1605.40 109.20,1608.90 C109.20,1612.40 108.17,1615.22 107.40,1618.70 C106.63,1622.18 105.55,1626.32 104.60,1629.80 C103.65,1633.28 102.32,1636.57 101.70,1639.60 C101.08,1642.63 101.07,1644.93 100.90,1648.00 C100.73,1651.07 100.77,1654.50 100.70,1658.00 C100.63,1661.50 100.57,1669.00 100.50,1669.00 C100.43,1669.00 100.37,1661.50 100.30,1658.00 C100.23,1654.50 100.27,1651.07 100.10,1648.00 C99.93,1644.93 99.92,1642.63 99.30,1639.60 C98.68,1636.57 97.35,1633.28 96.40,1629.80 C95.45,1626.32 94.37,1622.18 93.60,1618.70 C92.83,1615.22 91.80,1612.40 91.80,1608.90 C91.80,1605.40 92.83,1601.90 93.60,1597.70 C94.37,1593.50 95.60,1588.35 96.40,1583.70 C97.20,1579.05 98.12,1574.68 98.40,1569.80 C98.68,1564.92 98.50,1558.37 98.10,1554.40 C97.70,1550.43 96.75,1549.97 96.00,1546.00 C95.25,1542.03 94.23,1535.50 93.60,1530.60 C92.97,1525.70 92.37,1520.37 92.20,1516.60 C92.03,1512.83 91.98,1511.95 92.60,1508.00 C93.22,1504.05 94.72,1497.57 95.90,1492.90 C97.08,1488.23 98.97,1483.82 99.70,1480.00 C100.43,1476.18 100.17,1475.67 100.30,1470.00 C100.43,1464.33 100.43,1446.00 100.50,1446.00 Z" fill="#b8e3c4" stroke="#000" stroke-width="2.6" stroke-linejoin="round"/>
<line x1="96.5" y1="1517.3" x2="105.0" y2="1517.3" stroke="#000" stroke-width="1.8" stroke-dasharray="0.1,5.6" stroke-linecap="round"/>
<line x1="96.5" y1="1609.2" x2="105.0" y2="1609.2" stroke="#000" stroke-width="1.8" stroke-dasharray="0.1,5.6" stroke-linecap="round"/>
<line x1="97.5" y1="1554.4" x2="103.5" y2="1554.4" stroke="#000" stroke-width="1.8" />
<path d="M131.50,1517.30 C131.63,1517.30 131.70,1523.45 131.90,1528.00 C132.10,1532.55 132.67,1539.27 132.70,1544.60 C132.73,1549.93 132.22,1553.48 132.10,1560.00 C131.98,1566.52 131.70,1577.87 132.00,1583.70 C132.30,1589.53 132.93,1591.78 133.90,1595.00 C134.87,1598.22 136.82,1600.45 137.80,1603.00 C138.78,1605.55 139.72,1607.47 139.80,1610.30 C139.88,1613.13 139.32,1616.55 138.30,1620.00 C137.28,1623.45 134.68,1628.00 133.70,1631.00 C132.72,1634.00 132.77,1635.40 132.40,1638.00 C132.03,1640.60 131.80,1646.60 131.50,1646.60 C131.20,1646.60 130.97,1640.60 130.60,1638.00 C130.23,1635.40 130.28,1634.00 129.30,1631.00 C128.32,1628.00 125.72,1623.45 124.70,1620.00 C123.68,1616.55 123.12,1613.13 123.20,1610.30 C123.28,1607.47 124.22,1605.55 125.20,1603.00 C126.18,1600.45 128.13,1598.22 129.10,1595.00 C130.07,1591.78 130.70,1589.53 131.00,1583.70 C131.30,1577.87 131.02,1566.52 130.90,1560.00 C130.78,1553.48 130.27,1549.93 130.30,1544.60 C130.33,1539.27 130.90,1532.55 131.10,1528.00 C131.30,1523.45 131.37,1517.30 131.50,1517.30 Z" fill="#f2d5b3" stroke="#000" stroke-width="2.6" stroke-linejoin="round"/>
<line x1="127.0" y1="1608.6" x2="135.0" y2="1608.6" stroke="#000" stroke-width="2.6" />
<circle cx="136.0" cy="1619.4" r="1.0" fill="#000" stroke="none" stroke-width="0"/>
<text x="132.9" y="1518.2" style="font-family:'Liberation Sans',Arial,Helvetica,sans-serif;font-size:26.5px;font-weight:bold" text-anchor="middle" fill="#000"  stroke="#000" stroke-width="0.35">*</text>
<path d="M183.70,1618.50 C184.76,1618.50 185.60,1619.58 186.88,1620.00 C188.17,1620.42 190.45,1620.75 191.44,1621.00 C192.42,1621.25 192.88,1621.32 192.80,1621.50 C192.72,1621.68 192.04,1621.85 190.98,1622.10 C189.92,1622.35 187.64,1622.68 186.43,1623.00 C185.22,1623.32 184.61,1624.00 183.70,1624.00 C182.79,1624.00 182.18,1623.32 180.97,1623.00 C179.76,1622.68 177.48,1622.35 176.42,1622.10 C175.36,1621.85 174.68,1621.68 174.60,1621.50 C174.52,1621.32 174.98,1621.25 175.96,1621.00 C176.95,1620.75 179.23,1620.42 180.51,1620.00 C181.80,1619.58 182.64,1618.50 183.70,1618.50 Z" fill="#000" stroke="#000" stroke-width="1.6" stroke-linejoin="round"/>
<circle cx="183.7" cy="1617.6" r="2.2" fill="#000" stroke="none" stroke-width="0"/>
<path d="M214.40,1513.90 C214.67,1513.90 214.97,1516.65 215.20,1518.00 C215.43,1519.35 215.85,1520.33 215.80,1522.00 C215.75,1523.67 215.07,1521.67 214.90,1528.00 C214.73,1534.33 214.55,1552.67 214.80,1560.00 C215.05,1567.33 216.07,1568.83 216.40,1572.00 C216.73,1575.17 217.05,1576.33 216.80,1579.00 C216.55,1581.67 215.18,1584.17 214.90,1588.00 C214.62,1591.83 214.42,1598.33 215.10,1602.00 C215.78,1605.67 217.62,1607.45 219.00,1610.00 C220.38,1612.55 223.08,1614.97 223.40,1617.30 C223.72,1619.63 221.97,1622.15 220.90,1624.00 C219.83,1625.85 218.08,1626.85 217.00,1628.40 C215.92,1629.95 215.27,1633.30 214.40,1633.30 C213.53,1633.30 212.88,1629.95 211.80,1628.40 C210.72,1626.85 208.97,1625.85 207.90,1624.00 C206.83,1622.15 205.08,1619.63 205.40,1617.30 C205.72,1614.97 208.42,1612.55 209.80,1610.00 C211.18,1607.45 213.02,1605.67 213.70,1602.00 C214.38,1598.33 214.18,1591.83 213.90,1588.00 C213.62,1584.17 212.25,1581.67 212.00,1579.00 C211.75,1576.33 212.07,1575.17 212.40,1572.00 C212.73,1568.83 213.75,1567.33 214.00,1560.00 C214.25,1552.67 214.07,1534.33 213.90,1528.00 C213.73,1521.67 213.05,1523.67 213.00,1522.00 C212.95,1520.33 213.37,1519.35 213.60,1518.00 C213.83,1516.65 214.13,1513.90 214.40,1513.90 Z" fill="#f2d5b3" stroke="#000" stroke-width="2.6" stroke-linejoin="round"/>
<line x1="210.4" y1="1603.5" x2="218.4" y2="1603.5" stroke="#000" stroke-width="2.0" />
<text x="215.3" y="1518.5" style="font-family:'Liberation Sans',Arial,Helvetica,sans-serif;font-size:25.4px;font-weight:bold" text-anchor="middle" fill="#000"  stroke="#000" stroke-width="0.35">*</text>
<line x1="266.5" y1="1595.6" x2="266.5" y2="1618.0" stroke="#000" stroke-width="2.4" />
<circle cx="266.5" cy="1597.0" r="1.9" fill="#000" stroke="none" stroke-width="0"/>
<path d="M266.50,1616.00 C267.33,1616.00 267.92,1617.67 269.00,1618.50 C270.08,1619.33 271.95,1620.17 273.00,1621.00 C274.05,1621.83 275.55,1622.75 275.30,1623.50 C275.05,1624.25 272.97,1624.67 271.50,1625.50 C270.03,1626.33 268.17,1628.50 266.50,1628.50 C264.83,1628.50 262.97,1626.33 261.50,1625.50 C260.03,1624.67 257.95,1624.25 257.70,1623.50 C257.45,1622.75 258.95,1621.83 260.00,1621.00 C261.05,1620.17 262.92,1619.33 264.00,1618.50 C265.08,1617.67 265.67,1616.00 266.50,1616.00 Z" fill="#b8e3c4" stroke="#000" stroke-width="2.6" stroke-linejoin="round"/>
<line x1="297.6" y1="1608.9" x2="297.6" y2="1624.3" stroke="#000" stroke-width="2.6" />
<text x="299.8" y="1612.5" style="font-family:'Liberation Sans',Arial,Helvetica,sans-serif;font-size:26.5px;font-weight:bold" text-anchor="middle" fill="#000"  stroke="#000" stroke-width="0.35">*</text>
<path d="M349.60,1620.10 C350.69,1620.10 351.54,1621.25 352.86,1621.70 C354.17,1622.15 356.50,1622.53 357.50,1622.80 C358.51,1623.07 358.98,1623.12 358.90,1623.30 C358.82,1623.48 358.12,1623.65 357.04,1623.90 C355.96,1624.15 353.63,1624.48 352.39,1624.80 C351.15,1625.12 350.53,1625.80 349.60,1625.80 C348.67,1625.80 348.05,1625.12 346.81,1624.80 C345.57,1624.48 343.25,1624.15 342.16,1623.90 C341.08,1623.65 340.38,1623.48 340.30,1623.30 C340.22,1623.12 340.69,1623.07 341.70,1622.80 C342.70,1622.53 345.03,1622.15 346.35,1621.70 C347.66,1621.25 348.52,1620.10 349.60,1620.10 Z" fill="#000" stroke="#000" stroke-width="1.6" stroke-linejoin="round"/>
<circle cx="349.6" cy="1619.2" r="2.3" fill="#000" stroke="none" stroke-width="0"/>
<path d="M381.00,1619.80 C382.08,1619.80 382.94,1621.05 384.25,1621.55 C385.57,1622.05 387.90,1622.51 388.90,1622.80 C389.91,1623.09 390.38,1623.12 390.30,1623.30 C390.22,1623.48 389.52,1623.65 388.44,1623.90 C387.36,1624.15 385.03,1624.48 383.79,1624.80 C382.55,1625.12 381.93,1625.80 381.00,1625.80 C380.07,1625.80 379.45,1625.12 378.21,1624.80 C376.97,1624.48 374.64,1624.15 373.56,1623.90 C372.48,1623.65 371.78,1623.48 371.70,1623.30 C371.62,1623.12 372.09,1623.09 373.10,1622.80 C374.10,1622.51 376.43,1622.05 377.75,1621.55 C379.06,1621.05 379.92,1619.80 381.00,1619.80 Z" fill="#000" stroke="#000" stroke-width="1.6" stroke-linejoin="round"/>
<circle cx="381.0" cy="1618.8" r="2.6" fill="#000" stroke="none" stroke-width="0"/>
<text x="381.5" y="1618.9" style="font-family:'Liberation Sans',Arial,Helvetica,sans-serif;font-size:28.9px;font-weight:bold" text-anchor="middle" fill="#000"  stroke="#000" stroke-width="0.35">*</text>
<path d="M433.00,1619.60 C434.05,1619.60 434.88,1621.02 436.15,1621.60 C437.42,1622.18 439.67,1622.77 440.65,1623.10 C441.62,1623.43 442.07,1623.42 442.00,1623.60 C441.93,1623.78 441.25,1623.95 440.20,1624.20 C439.15,1624.45 436.90,1624.78 435.70,1625.10 C434.50,1625.42 433.90,1626.10 433.00,1626.10 C432.10,1626.10 431.50,1625.42 430.30,1625.10 C429.10,1624.78 426.85,1624.45 425.80,1624.20 C424.75,1623.95 424.07,1623.78 424.00,1623.60 C423.93,1623.42 424.38,1623.43 425.35,1623.10 C426.33,1622.77 428.58,1622.18 429.85,1621.60 C431.12,1621.02 431.95,1619.60 433.00,1619.60 Z" fill="#000" stroke="#000" stroke-width="1.6" stroke-linejoin="round"/>
<circle cx="433.0" cy="1618.6" r="2.6" fill="#000" stroke="none" stroke-width="0"/>
<path d="M464.10,1621.60 C465.17,1621.60 466.02,1622.42 467.32,1622.70 C468.62,1622.98 470.92,1623.12 471.92,1623.30 C472.92,1623.48 473.38,1623.62 473.30,1623.80 C473.22,1623.98 472.53,1624.20 471.46,1624.40 C470.39,1624.60 468.09,1624.77 466.86,1625.00 C465.63,1625.23 465.02,1625.80 464.10,1625.80 C463.18,1625.80 462.57,1625.23 461.34,1625.00 C460.11,1624.77 457.81,1624.60 456.74,1624.40 C455.67,1624.20 454.98,1623.98 454.90,1623.80 C454.82,1623.62 455.28,1623.48 456.28,1623.30 C457.28,1623.12 459.58,1622.98 460.88,1622.70 C462.18,1622.42 463.03,1621.60 464.10,1621.60 Z" fill="#000" stroke="#000" stroke-width="1.6" stroke-linejoin="round"/>
<text x="464.6" y="1623.2" style="font-family:'Liberation Sans',Arial,Helvetica,sans-serif;font-size:28.6px;font-weight:bold" text-anchor="middle" fill="#000"  stroke="#000" stroke-width="0.35">*</text>
<path d="M516.00,1618.70 C517.07,1618.70 517.92,1620.28 519.22,1620.95 C520.52,1621.62 522.82,1622.33 523.82,1622.70 C524.82,1623.08 525.28,1623.02 525.20,1623.20 C525.12,1623.38 524.43,1623.50 523.36,1623.80 C522.29,1624.10 519.99,1624.60 518.76,1625.00 C517.53,1625.40 516.92,1626.20 516.00,1626.20 C515.08,1626.20 514.47,1625.40 513.24,1625.00 C512.01,1624.60 509.71,1624.10 508.64,1623.80 C507.57,1623.50 506.88,1623.38 506.80,1623.20 C506.72,1623.02 507.18,1623.08 508.18,1622.70 C509.18,1622.33 511.48,1621.62 512.78,1620.95 C514.08,1620.28 514.93,1618.70 516.00,1618.70 Z" fill="#000" stroke="#000" stroke-width="1.6" stroke-linejoin="round"/>
<circle cx="516.0" cy="1617.6" r="2.8" fill="#000" stroke="none" stroke-width="0"/>
<circle cx="546.6" cy="1624.0" r="0.9" fill="#333" stroke="none" stroke-width="0"/>
<text x="547.1" y="1592.6" style="font-family:'Liberation Sans',Arial,Helvetica,sans-serif;font-size:28.4px;font-weight:bold" text-anchor="middle" fill="#000"  stroke="#000" stroke-width="0.35">*</text>
<text x="547.1" y="1604.9" style="font-family:'Liberation Sans',Arial,Helvetica,sans-serif;font-size:28.4px;font-weight:bold" text-anchor="middle" fill="#000"  stroke="#000" stroke-width="0.35">*</text>
<text x="547.1" y="1617.2" style="font-family:'Liberation Sans',Arial,Helvetica,sans-serif;font-size:28.4px;font-weight:bold" text-anchor="middle" fill="#000"  stroke="#000" stroke-width="0.35">*</text>
<path d="M598.80,1621.80 C599.88,1621.80 600.74,1622.55 602.05,1622.80 C603.37,1623.05 605.70,1623.13 606.70,1623.30 C607.71,1623.47 608.18,1623.62 608.10,1623.80 C608.02,1623.98 607.33,1624.20 606.24,1624.40 C605.15,1624.60 602.83,1624.77 601.59,1625.00 C600.35,1625.23 599.73,1625.80 598.80,1625.80 C597.87,1625.80 597.25,1625.23 596.01,1625.00 C594.77,1624.77 592.44,1624.60 591.36,1624.40 C590.27,1624.20 589.58,1623.98 589.50,1623.80 C589.42,1623.62 589.89,1623.47 590.89,1623.30 C591.90,1623.13 594.23,1623.05 595.54,1622.80 C596.86,1622.55 597.71,1621.80 598.80,1621.80 Z" fill="#000" stroke="#000" stroke-width="1.6" stroke-linejoin="round"/>
<line x1="629.5" y1="1624.0" x2="633.5" y2="1624.0" stroke="#000" stroke-width="2.4" />
<text x="632.0" y="1629.4" style="font-family:'Liberation Sans',Arial,Helvetica,sans-serif;font-size:28.6px;font-weight:bold" text-anchor="middle" fill="#000"  stroke="#000" stroke-width="0.35">*</text>
<path d="M681.90,1621.80 C682.99,1621.80 683.84,1622.55 685.15,1622.80 C686.47,1623.05 688.80,1623.13 689.80,1623.30 C690.81,1623.47 691.28,1623.62 691.20,1623.80 C691.12,1623.98 690.43,1624.20 689.34,1624.40 C688.25,1624.60 685.93,1624.77 684.69,1625.00 C683.45,1625.23 682.83,1625.80 681.90,1625.80 C680.97,1625.80 680.35,1625.23 679.11,1625.00 C677.87,1624.77 675.54,1624.60 674.46,1624.40 C673.37,1624.20 672.68,1623.98 672.60,1623.80 C672.52,1623.62 672.99,1623.47 674.00,1623.30 C675.00,1623.13 677.33,1623.05 678.64,1622.80 C679.96,1622.55 680.81,1621.80 681.90,1621.80 Z" fill="#000" stroke="#000" stroke-width="1.6" stroke-linejoin="round"/>
<text x="709.0" y="1631.1" style="font-family:'Liberation Sans',Arial,Helvetica,sans-serif;font-size:28.9px;font-weight:bold" text-anchor="middle" fill="#000"  stroke="#000" stroke-width="0.35">*</text>
<line x1="797.0" y1="1620.0" x2="797.0" y2="1623.5" stroke="#000" stroke-width="2.4" />
<text x="797.5" y="1626.5" style="font-family:'Liberation Sans',Arial,Helvetica,sans-serif;font-size:28.9px;font-weight:bold" text-anchor="middle" fill="#000"  stroke="#000" stroke-width="0.35">*</text>
<path d="M850.50,1621.80 C851.32,1621.80 851.96,1622.55 852.95,1622.80 C853.94,1623.05 855.69,1623.13 856.45,1623.30 C857.21,1623.47 857.56,1623.62 857.50,1623.80 C857.44,1623.98 856.92,1624.20 856.10,1624.40 C855.28,1624.60 853.53,1624.77 852.60,1625.00 C851.67,1625.23 851.20,1625.80 850.50,1625.80 C849.80,1625.80 849.33,1625.23 848.40,1625.00 C847.47,1624.77 845.72,1624.60 844.90,1624.40 C844.08,1624.20 843.56,1623.98 843.50,1623.80 C843.44,1623.62 843.79,1623.47 844.55,1623.30 C845.31,1623.13 847.06,1623.05 848.05,1622.80 C849.04,1622.55 849.68,1621.80 850.50,1621.80 Z" fill="#000" stroke="#000" stroke-width="1.6" stroke-linejoin="round"/>
<circle cx="850.5" cy="1621.2" r="1.6" fill="#000" stroke="none" stroke-width="0"/>
<text x="880.0" y="1632.6" style="font-family:'Liberation Sans',Arial,Helvetica,sans-serif;font-size:28.9px;font-weight:bold" text-anchor="middle" fill="#000"  stroke="#000" stroke-width="0.35">*</text>
<path d="M80.1,1322.7 H900.8 V1724.6 H80.1 Z" fill="none" stroke="#000" stroke-width="4.8"/>
<path d="M402.1,524.4 A214,214 0 0,0 212.1,450.1 L232.5,613.9 A49,49 0 0,1 276.0,630.9 Z" fill="#c8e8d3"/>
<path d="M392.0,534.2 A200,200 0 0,0 213.9,464.0 L229.8,592.0 A71,71 0 0,1 293.1,617.0 Z" fill="#abdbbb"/>
<path d="M378.1,542.5 A184,184 0 0,0 240.2,478.5 L239.4,569.5 A93,93 0 0,1 309.1,601.9 Z" fill="#8fcea3"/>
<path d="M367.9,552.1 A170,170 0 0,0 332.4,520.7 L302.1,566.6 A115,115 0 0,1 326.0,587.8 Z" fill="#6fbf88"/>
<path d="M179.3,472.0 A199.5,199.5 0 0,0 66.5,561.5 L177.4,626.6 A71,71 0 0,1 217.5,594.7 Z" fill="#efc3c3"/>
<path d="M131.0,513.3 A184,184 0 0,0 88.6,555.9 L162.8,608.6 A93,93 0 0,1 184.2,587.1 Z" fill="#e3a0a0"/>
<path d="M115.6,781.3 A171,171 0 0,0 153.1,810.6 L182.6,759.5 A112,112 0 0,1 158.0,740.3 Z" fill="#bde3ca"/>
<line x1="216.60" y1="662.50" x2="194.60" y2="662.50" stroke="#111" stroke-width="1.15"/>
<path d="M277.88,642.68 A44,44 0 1,0 273.96,688.68" fill="none" stroke="#000" stroke-width="2.6"/>
<line x1="277.88" y1="642.68" x2="297.79" y2="632.64" stroke="#111" stroke-width="1.15"/>
<path d="M301.33,641.04 A66.3,66.3 0 0,0 293.14,624.80" fill="none" stroke="#000" stroke-width="2.5"/>
<line x1="301.33" y1="641.04" x2="322.43" y2="633.82" stroke="#111" stroke-width="1.15"/>
<path d="M324.77,641.88 A88.6,88.6 0 0,0 319.34,626.01" fill="none" stroke="#000" stroke-width="2.4"/>
<line x1="324.77" y1="641.88" x2="346.55" y2="636.66" stroke="#111" stroke-width="1.15"/>
<path d="M348.42,646.34 A111,111 0 0,0 343.83,627.19" fill="none" stroke="#000" stroke-width="2.0"/>
<line x1="348.42" y1="646.34" x2="370.38" y2="643.11" stroke="#111" stroke-width="1.15"/>
<line x1="370.38" y1="643.11" x2="392.34" y2="639.88" stroke="#111" stroke-width="1.15"/>
<path d="M392.56,641.41 A155.4,155.4 0 0,0 392.11,638.35" fill="none" stroke="#000" stroke-width="1.2"/>
<line x1="347.36" y1="640.33" x2="369.12" y2="635.89" stroke="#111" stroke-width="1.15"/>
<path d="M369.64,638.62 A133.2,133.2 0 0,0 368.53,633.18" fill="none" stroke="#000" stroke-width="1.6"/>
<line x1="369.64" y1="638.62" x2="391.48" y2="634.64" stroke="#111" stroke-width="1.15"/>
<line x1="368.53" y1="633.18" x2="390.19" y2="628.30" stroke="#111" stroke-width="1.15"/>
<path d="M390.89,631.55 A155.4,155.4 0 0,0 389.42,625.06" fill="none" stroke="#000" stroke-width="1.2"/>
<line x1="345.49" y1="632.56" x2="366.86" y2="626.57" stroke="#111" stroke-width="1.15"/>
<path d="M367.22,627.86 A133.2,133.2 0 0,0 366.49,625.28" fill="none" stroke="#000" stroke-width="1.6"/>
<line x1="367.22" y1="627.86" x2="388.65" y2="622.09" stroke="#111" stroke-width="1.15"/>
<line x1="366.49" y1="625.28" x2="387.81" y2="619.08" stroke="#111" stroke-width="1.15"/>
<line x1="344.53" y1="629.34" x2="365.72" y2="622.71" stroke="#111" stroke-width="1.15"/>
<line x1="365.72" y1="622.71" x2="386.90" y2="616.08" stroke="#111" stroke-width="1.15"/>
<line x1="343.83" y1="627.19" x2="364.88" y2="620.13" stroke="#111" stroke-width="1.15"/>
<line x1="364.88" y1="620.13" x2="385.93" y2="613.07" stroke="#111" stroke-width="1.15"/>
<line x1="319.34" y1="626.01" x2="339.75" y2="616.79" stroke="#111" stroke-width="1.15"/>
<path d="M340.99,619.65 A111,111 0 0,0 338.43,613.97" fill="none" stroke="#000" stroke-width="2.0"/>
<line x1="340.99" y1="619.65" x2="361.47" y2="611.08" stroke="#111" stroke-width="1.15"/>
<path d="M363.23,615.49 A133.2,133.2 0 0,0 359.56,606.73" fill="none" stroke="#000" stroke-width="1.6"/>
<line x1="363.23" y1="615.49" x2="384.00" y2="607.66" stroke="#111" stroke-width="1.15"/>
<path d="M384.58,609.23 A155.4,155.4 0 0,0 383.40,606.10" fill="none" stroke="#000" stroke-width="1.2"/>
<line x1="361.16" y1="610.34" x2="381.59" y2="601.64" stroke="#111" stroke-width="1.15"/>
<path d="M382.27,603.27 A155.4,155.4 0 0,0 380.89,600.02" fill="none" stroke="#000" stroke-width="1.2"/>
<line x1="359.56" y1="606.73" x2="379.72" y2="597.43" stroke="#111" stroke-width="1.15"/>
<line x1="338.43" y1="613.97" x2="358.39" y2="604.26" stroke="#111" stroke-width="1.15"/>
<line x1="358.39" y1="604.26" x2="378.36" y2="594.55" stroke="#111" stroke-width="1.15"/>
<line x1="293.14" y1="624.80" x2="311.49" y2="612.13" stroke="#111" stroke-width="1.15"/>
<line x1="311.49" y1="612.13" x2="329.91" y2="599.39" stroke="#111" stroke-width="1.15"/>
<path d="M333.61,605.10 A111,111 0 0,0 325.87,593.91" fill="none" stroke="#000" stroke-width="2.0"/>
<line x1="333.61" y1="605.10" x2="352.61" y2="593.63" stroke="#111" stroke-width="1.15"/>
<path d="M357.08,601.63 A133.2,133.2 0 0,0 347.61,585.95" fill="none" stroke="#000" stroke-width="1.6"/>
<line x1="357.08" y1="601.63" x2="376.82" y2="591.48" stroke="#111" stroke-width="1.15"/>
<line x1="355.04" y1="597.82" x2="374.45" y2="587.04" stroke="#111" stroke-width="1.15"/>
<path d="M375.01,588.05 A155.4,155.4 0 0,0 373.89,586.04" fill="none" stroke="#000" stroke-width="1.2"/>
<line x1="351.35" y1="591.58" x2="370.14" y2="579.76" stroke="#111" stroke-width="1.15"/>
<path d="M371.95,582.71 A155.4,155.4 0 0,0 368.27,576.86" fill="none" stroke="#000" stroke-width="1.2"/>
<line x1="347.61" y1="585.95" x2="365.78" y2="573.19" stroke="#111" stroke-width="1.15"/>
<path d="M366.71,574.54 A155.4,155.4 0 0,0 364.83,571.86" fill="none" stroke="#000" stroke-width="1.2"/>
<line x1="325.87" y1="593.91" x2="343.33" y2="580.19" stroke="#111" stroke-width="1.15"/>
<path d="M345.08,582.47 A133.2,133.2 0 0,0 341.53,577.95" fill="none" stroke="#000" stroke-width="1.6"/>
<line x1="345.08" y1="582.47" x2="362.83" y2="569.14" stroke="#111" stroke-width="1.15"/>
<line x1="343.27" y1="580.12" x2="360.72" y2="566.39" stroke="#111" stroke-width="1.15"/>
<line x1="341.53" y1="577.95" x2="358.68" y2="563.86" stroke="#111" stroke-width="1.15"/>
<line x1="246.10" y1="619.14" x2="249.91" y2="597.17" stroke="#2f8c3c" stroke-width="2.6"/>
<line x1="249.91" y1="597.17" x2="253.71" y2="575.20" stroke="#2f8c3c" stroke-width="2.6"/>
<path d="M273.76,581.18 A88.6,88.6 0 0,0 232.81,574.09" fill="none" stroke="#000" stroke-width="2.4"/>
<line x1="273.76" y1="581.18" x2="282.65" y2="560.62" stroke="#2f8c3c" stroke-width="2.6"/>
<path d="M306.02,574.32 A111,111 0 0,0 256.66,552.98" fill="none" stroke="#000" stroke-width="2.0"/>
<line x1="306.02" y1="574.32" x2="319.50" y2="556.68" stroke="#2f8c3c" stroke-width="2.6"/>
<path d="M328.07,563.82 A133.2,133.2 0 0,0 310.36,550.29" fill="none" stroke="#000" stroke-width="1.6"/>
<line x1="328.07" y1="563.82" x2="356.59" y2="561.37" stroke="#111" stroke-width="0.9"/>
<line x1="328.07" y1="563.82" x2="355.19" y2="559.76" stroke="#111" stroke-width="0.9"/>
<line x1="328.07" y1="563.82" x2="353.32" y2="557.67" stroke="#111" stroke-width="0.9"/>
<line x1="328.07" y1="563.82" x2="351.80" y2="556.04" stroke="#111" stroke-width="0.9"/>
<line x1="328.07" y1="563.82" x2="349.92" y2="554.07" stroke="#111" stroke-width="0.9"/>
<line x1="328.07" y1="563.82" x2="348.19" y2="552.32" stroke="#111" stroke-width="0.9"/>
<line x1="328.07" y1="563.82" x2="346.92" y2="551.08" stroke="#111" stroke-width="0.9"/>
<line x1="328.07" y1="563.82" x2="345.20" y2="549.43" stroke="#111" stroke-width="0.9"/>
<line x1="328.07" y1="563.82" x2="342.69" y2="547.11" stroke="#111" stroke-width="0.9"/>
<line x1="328.07" y1="563.82" x2="341.38" y2="545.94" stroke="#111" stroke-width="0.9"/>
<line x1="328.07" y1="563.82" x2="339.56" y2="544.36" stroke="#111" stroke-width="0.9"/>
<line x1="328.07" y1="563.82" x2="336.99" y2="542.21" stroke="#111" stroke-width="0.9"/>
<line x1="328.07" y1="563.82" x2="335.58" y2="541.07" stroke="#111" stroke-width="0.9"/>
<line x1="328.07" y1="563.82" x2="333.31" y2="539.30" stroke="#111" stroke-width="0.9"/>
<line x1="328.07" y1="563.82" x2="331.71" y2="538.08" stroke="#111" stroke-width="0.9"/>
<line x1="328.07" y1="563.82" x2="329.59" y2="536.52" stroke="#111" stroke-width="0.9"/>
<line x1="328.07" y1="563.82" x2="327.73" y2="535.20" stroke="#111" stroke-width="0.9"/>
<line x1="312.70" y1="551.81" x2="325.05" y2="533.37" stroke="#111" stroke-width="1.15"/>
<line x1="310.36" y1="550.29" x2="322.32" y2="531.58" stroke="#111" stroke-width="1.15"/>
<line x1="292.70" y1="565.57" x2="303.51" y2="546.19" stroke="#111" stroke-width="1.15"/>
<path d="M306.62,547.98 A133.2,133.2 0 0,0 300.36,544.48" fill="none" stroke="#000" stroke-width="1.6"/>
<line x1="306.62" y1="547.98" x2="317.96" y2="528.89" stroke="#111" stroke-width="1.15"/>
<path d="M319.56,529.86 A155.4,155.4 0 0,0 316.34,527.94" fill="none" stroke="#000" stroke-width="1.2"/>
<line x1="303.06" y1="545.94" x2="313.81" y2="526.51" stroke="#111" stroke-width="1.15"/>
<line x1="300.36" y1="544.48" x2="310.66" y2="524.81" stroke="#111" stroke-width="1.15"/>
<line x1="288.01" y1="563.10" x2="297.89" y2="543.22" stroke="#111" stroke-width="1.15"/>
<line x1="297.89" y1="543.22" x2="307.77" y2="523.35" stroke="#111" stroke-width="1.15"/>
<line x1="281.35" y1="560.06" x2="289.90" y2="539.58" stroke="#111" stroke-width="1.15"/>
<path d="M295.89,542.25 A133.2,133.2 0 0,0 283.79,537.20" fill="none" stroke="#000" stroke-width="1.6"/>
<line x1="295.89" y1="542.25" x2="305.44" y2="522.21" stroke="#111" stroke-width="1.15"/>
<line x1="292.67" y1="540.77" x2="301.68" y2="520.48" stroke="#111" stroke-width="1.15"/>
<line x1="290.21" y1="539.71" x2="298.82" y2="519.24" stroke="#111" stroke-width="1.15"/>
<line x1="283.79" y1="537.20" x2="291.32" y2="516.32" stroke="#111" stroke-width="1.15"/>
<path d="M296.07,518.12 A155.4,155.4 0 0,0 286.51,514.67" fill="none" stroke="#000" stroke-width="1.2"/>
<line x1="256.66" y1="552.98" x2="260.27" y2="531.07" stroke="#111" stroke-width="1.15"/>
<path d="M275.27,534.45 A133.2,133.2 0 0,0 244.98,529.45" fill="none" stroke="#000" stroke-width="1.6"/>
<line x1="275.27" y1="534.45" x2="281.38" y2="513.11" stroke="#111" stroke-width="1.15"/>
<path d="M283.07,513.60 A155.4,155.4 0 0,0 279.69,512.63" fill="none" stroke="#000" stroke-width="1.2"/>
<line x1="267.04" y1="532.37" x2="271.78" y2="510.68" stroke="#111" stroke-width="1.15"/>
<path d="M276.68,511.84 A155.4,155.4 0 0,0 266.85,509.69" fill="none" stroke="#000" stroke-width="1.2"/>
<line x1="257.35" y1="530.63" x2="260.47" y2="508.65" stroke="#111" stroke-width="1.15"/>
<path d="M264.00,509.19 A155.4,155.4 0 0,0 256.92,508.18" fill="none" stroke="#000" stroke-width="1.2"/>
<line x1="244.98" y1="529.45" x2="254.55" y2="507.92" stroke="#111" stroke-width="0.9"/>
<line x1="244.98" y1="529.45" x2="251.20" y2="507.61" stroke="#111" stroke-width="0.9"/>
<line x1="244.98" y1="529.45" x2="247.80" y2="507.37" stroke="#111" stroke-width="0.9"/>
<line x1="244.98" y1="529.45" x2="243.59" y2="507.18" stroke="#111" stroke-width="0.9"/>
<line x1="244.98" y1="529.45" x2="240.91" y2="507.12" stroke="#111" stroke-width="0.9"/>
<line x1="244.98" y1="529.45" x2="237.52" y2="507.10" stroke="#111" stroke-width="0.9"/>
<line x1="232.81" y1="574.09" x2="231.35" y2="551.74" stroke="#111" stroke-width="1.15"/>
<path d="M235.50,551.54 A111,111 0 0,0 227.21,552.09" fill="none" stroke="#000" stroke-width="2.0"/>
<line x1="235.50" y1="551.54" x2="234.88" y2="529.35" stroke="#111" stroke-width="1.15"/>
<line x1="234.88" y1="529.35" x2="234.26" y2="507.16" stroke="#111" stroke-width="1.15"/>
<line x1="227.21" y1="552.09" x2="224.93" y2="530.00" stroke="#111" stroke-width="1.15"/>
<path d="M231.68,529.48 A133.2,133.2 0 0,0 218.22,530.87" fill="none" stroke="#000" stroke-width="1.6"/>
<line x1="231.68" y1="529.48" x2="230.53" y2="507.31" stroke="#111" stroke-width="1.15"/>
<line x1="229.24" y1="529.63" x2="227.68" y2="507.48" stroke="#111" stroke-width="1.15"/>
<line x1="223.48" y1="530.16" x2="220.95" y2="508.11" stroke="#111" stroke-width="1.15"/>
<path d="M224.26,507.76 A155.4,155.4 0 0,0 217.66,508.52" fill="none" stroke="#000" stroke-width="1.2"/>
<line x1="218.22" y1="530.87" x2="214.83" y2="508.93" stroke="#111" stroke-width="1.15"/>
<line x1="201.41" y1="686.01" x2="182.56" y2="697.92" stroke="#111" stroke-width="1.15"/>
<path d="M198.52,609.69 A66.3,66.3 0 0,0 269.11,721.36" fill="none" stroke="#000" stroke-width="2.5"/>
<line x1="198.52" y1="609.69" x2="185.04" y2="591.92" stroke="#e8262a" stroke-width="2.6"/>
<path d="M218.08,576.31 A88.6,88.6 0 0,0 161.11,619.54" fill="none" stroke="#000" stroke-width="2.4"/>
<line x1="218.08" y1="576.31" x2="212.89" y2="554.52" stroke="#111" stroke-width="1.15"/>
<path d="M216.36,553.75 A111,111 0 0,0 209.45,555.40" fill="none" stroke="#000" stroke-width="2.0"/>
<line x1="216.36" y1="553.75" x2="211.91" y2="532.00" stroke="#111" stroke-width="1.15"/>
<path d="M214.04,531.58 A133.2,133.2 0 0,0 209.78,532.45" fill="none" stroke="#000" stroke-width="1.6"/>
<line x1="214.04" y1="531.58" x2="209.95" y2="509.76" stroke="#111" stroke-width="1.15"/>
<path d="M211.62,509.46 A155.4,155.4 0 0,0 208.29,510.08" fill="none" stroke="#000" stroke-width="1.2"/>
<line x1="209.78" y1="532.45" x2="204.98" y2="510.78" stroke="#111" stroke-width="1.15"/>
<line x1="209.45" y1="555.40" x2="203.62" y2="533.97" stroke="#111" stroke-width="1.15"/>
<path d="M205.54,533.47 A133.2,133.2 0 0,0 201.72,534.51" fill="none" stroke="#000" stroke-width="1.6"/>
<line x1="205.54" y1="533.47" x2="200.03" y2="511.96" stroke="#111" stroke-width="1.15"/>
<path d="M201.38,511.62 A155.4,155.4 0 0,0 198.67,512.32" fill="none" stroke="#000" stroke-width="1.2"/>
<line x1="201.72" y1="534.51" x2="195.57" y2="513.18" stroke="#111" stroke-width="1.15"/>
<line x1="209.49" y1="578.82" x2="202.13" y2="557.66" stroke="#111" stroke-width="1.15"/>
<line x1="202.13" y1="557.66" x2="194.83" y2="536.70" stroke="#111" stroke-width="1.15"/>
<path d="M197.60,535.77 A133.2,133.2 0 0,0 192.08,537.69" fill="none" stroke="#000" stroke-width="1.6"/>
<line x1="197.60" y1="535.77" x2="190.77" y2="514.65" stroke="#111" stroke-width="1.15"/>
<path d="M192.07,514.23 A155.4,155.4 0 0,0 189.47,515.07" fill="none" stroke="#000" stroke-width="1.2"/>
<line x1="192.08" y1="537.69" x2="184.33" y2="516.88" stroke="#111" stroke-width="1.15"/>
<path d="M186.26,516.18 A155.4,155.4 0 0,0 182.40,517.62" fill="none" stroke="#000" stroke-width="1.2"/>
<line x1="202.58" y1="581.55" x2="193.48" y2="561.09" stroke="#111" stroke-width="1.15"/>
<path d="M195.52,560.20 A111,111 0 0,0 191.45,562.01" fill="none" stroke="#000" stroke-width="2.0"/>
<line x1="195.52" y1="560.20" x2="186.91" y2="539.74" stroke="#111" stroke-width="1.15"/>
<path d="M188.23,539.19 A133.2,133.2 0 0,0 185.59,540.30" fill="none" stroke="#000" stroke-width="1.6"/>
<line x1="188.23" y1="539.19" x2="179.83" y2="518.64" stroke="#111" stroke-width="1.15"/>
<line x1="185.59" y1="540.30" x2="176.75" y2="519.94" stroke="#111" stroke-width="1.15"/>
<line x1="191.45" y1="562.01" x2="182.02" y2="541.91" stroke="#111" stroke-width="1.15"/>
<line x1="182.02" y1="541.91" x2="172.59" y2="521.82" stroke="#111" stroke-width="1.15"/>
<path d="M174.31,521.02 A155.4,155.4 0 0,0 170.88,522.63" fill="none" stroke="#000" stroke-width="1.2"/>
<line x1="192.53" y1="586.82" x2="180.89" y2="567.68" stroke="#111" stroke-width="1.15"/>
<line x1="180.89" y1="567.68" x2="169.34" y2="548.72" stroke="#111" stroke-width="1.15"/>
<path d="M173.09,546.52 A133.2,133.2 0 0,0 165.66,551.04" fill="none" stroke="#000" stroke-width="1.6"/>
<line x1="173.09" y1="546.52" x2="162.18" y2="527.19" stroke="#111" stroke-width="1.15"/>
<path d="M167.74,524.20 A155.4,155.4 0 0,0 156.74,530.41" fill="none" stroke="#000" stroke-width="1.2"/>
<line x1="165.66" y1="551.04" x2="153.51" y2="532.47" stroke="#111" stroke-width="1.15"/>
<line x1="176.42" y1="599.38" x2="160.70" y2="583.43" stroke="#111" stroke-width="1.15"/>
<path d="M175.06,571.49 A111,111 0 0,0 148.55,597.60" fill="none" stroke="#000" stroke-width="2.0"/>
<line x1="175.06" y1="571.49" x2="162.35" y2="553.29" stroke="#111" stroke-width="1.15"/>
<path d="M163.35,552.59 A133.2,133.2 0 0,0 161.35,553.99" fill="none" stroke="#000" stroke-width="1.6"/>
<line x1="163.35" y1="552.59" x2="150.80" y2="534.28" stroke="#111" stroke-width="1.15"/>
<line x1="161.35" y1="553.99" x2="148.48" y2="535.90" stroke="#111" stroke-width="1.15"/>
<line x1="170.68" y1="574.70" x2="157.10" y2="557.14" stroke="#111" stroke-width="1.15"/>
<path d="M158.98,555.72 A133.2,133.2 0 0,0 155.24,558.61" fill="none" stroke="#000" stroke-width="1.6"/>
<line x1="158.98" y1="555.72" x2="145.71" y2="537.92" stroke="#111" stroke-width="1.15"/>
<line x1="155.24" y1="558.61" x2="141.35" y2="541.29" stroke="#111" stroke-width="1.15"/>
<path d="M142.67,540.24 A155.4,155.4 0 0,0 140.04,542.36" fill="none" stroke="#000" stroke-width="1.2"/>
<line x1="165.89" y1="578.63" x2="151.34" y2="561.86" stroke="#111" stroke-width="1.15"/>
<path d="M152.63,560.76 A133.2,133.2 0 0,0 150.08,562.97" fill="none" stroke="#000" stroke-width="1.6"/>
<line x1="152.63" y1="560.76" x2="138.30" y2="543.81" stroke="#111" stroke-width="1.15"/>
<line x1="150.08" y1="562.97" x2="135.32" y2="546.38" stroke="#111" stroke-width="1.15"/>
<line x1="157.50" y1="586.71" x2="141.28" y2="571.55" stroke="#111" stroke-width="1.15"/>
<path d="M146.30,566.46 A133.2,133.2 0 0,0 136.54,576.90" fill="none" stroke="#000" stroke-width="1.6"/>
<line x1="146.30" y1="566.46" x2="130.92" y2="550.46" stroke="#111" stroke-width="1.15"/>
<path d="M133.41,548.11 A155.4,155.4 0 0,0 128.47,552.86" fill="none" stroke="#000" stroke-width="1.2"/>
<line x1="141.87" y1="570.93" x2="125.75" y2="555.66" stroke="#111" stroke-width="1.15"/>
<line x1="136.54" y1="576.90" x2="119.53" y2="562.64" stroke="#111" stroke-width="1.15"/>
<path d="M123.46,558.14 A155.4,155.4 0 0,0 115.79,567.28" fill="none" stroke="#000" stroke-width="1.2"/>
<line x1="148.55" y1="597.60" x2="130.54" y2="584.63" stroke="#111" stroke-width="1.15"/>
<line x1="130.54" y1="584.63" x2="112.53" y2="571.65" stroke="#111" stroke-width="1.15"/>
<path d="M113.45,570.38 A155.4,155.4 0 0,0 111.62,572.92" fill="none" stroke="#000" stroke-width="1.2"/>
<line x1="164.21" y1="614.37" x2="145.41" y2="602.20" stroke="#111" stroke-width="1.15"/>
<line x1="145.41" y1="602.20" x2="126.77" y2="590.14" stroke="#111" stroke-width="1.15"/>
<path d="M128.17,588.02 A133.2,133.2 0 0,0 125.41,592.29" fill="none" stroke="#000" stroke-width="1.6"/>
<line x1="128.17" y1="588.02" x2="109.77" y2="575.60" stroke="#111" stroke-width="1.15"/>
<line x1="125.41" y1="592.29" x2="106.54" y2="580.58" stroke="#111" stroke-width="1.15"/>
<path d="M108.40,577.66 A155.4,155.4 0 0,0 104.75,583.54" fill="none" stroke="#000" stroke-width="1.2"/>
<line x1="161.11" y1="619.54" x2="141.52" y2="608.68" stroke="#111" stroke-width="1.15"/>
<line x1="141.52" y1="608.68" x2="122.10" y2="597.92" stroke="#111" stroke-width="1.15"/>
<path d="M122.79,596.70 A133.2,133.2 0 0,0 121.43,599.15" fill="none" stroke="#000" stroke-width="1.6"/>
<line x1="122.79" y1="596.70" x2="103.49" y2="585.73" stroke="#111" stroke-width="1.15"/>
<line x1="121.43" y1="599.15" x2="101.90" y2="588.59" stroke="#111" stroke-width="1.15"/>
<line x1="181.75" y1="696.61" x2="162.63" y2="708.09" stroke="#111" stroke-width="1.15"/>
<path d="M156.89,628.25 A88.6,88.6 0 0,0 230.37,750.72" fill="none" stroke="#000" stroke-width="2.4"/>
<line x1="156.89" y1="628.25" x2="136.23" y2="619.59" stroke="#111" stroke-width="1.15"/>
<path d="M138.00,615.60 A111,111 0 0,0 134.62,623.66" fill="none" stroke="#000" stroke-width="2.0"/>
<line x1="138.00" y1="615.60" x2="117.88" y2="606.21" stroke="#111" stroke-width="1.15"/>
<path d="M119.40,603.07 A133.2,133.2 0 0,0 116.44,609.40" fill="none" stroke="#000" stroke-width="1.6"/>
<line x1="119.40" y1="603.07" x2="99.53" y2="593.16" stroke="#111" stroke-width="1.15"/>
<path d="M100.38,591.47 A155.4,155.4 0 0,0 98.69,594.86" fill="none" stroke="#000" stroke-width="1.2"/>
<line x1="117.47" y1="607.10" x2="97.28" y2="597.87" stroke="#111" stroke-width="1.15"/>
<line x1="116.44" y1="609.40" x2="96.08" y2="600.55" stroke="#111" stroke-width="1.15"/>
<line x1="136.06" y1="619.99" x2="115.55" y2="611.49" stroke="#111" stroke-width="1.15"/>
<line x1="115.55" y1="611.49" x2="95.05" y2="602.99" stroke="#111" stroke-width="1.15"/>
<line x1="134.62" y1="623.66" x2="113.82" y2="615.89" stroke="#111" stroke-width="1.15"/>
<path d="M114.22,614.83 A133.2,133.2 0 0,0 113.43,616.95" fill="none" stroke="#000" stroke-width="1.6"/>
<line x1="114.22" y1="614.83" x2="93.49" y2="606.89" stroke="#111" stroke-width="1.15"/>
<line x1="113.43" y1="616.95" x2="92.57" y2="609.36" stroke="#111" stroke-width="1.15"/>
<line x1="154.69" y1="634.07" x2="133.47" y2="626.88" stroke="#111" stroke-width="1.15"/>
<line x1="133.47" y1="626.88" x2="112.44" y2="619.76" stroke="#111" stroke-width="1.15"/>
<line x1="112.44" y1="619.76" x2="91.42" y2="612.63" stroke="#111" stroke-width="1.15"/>
<line x1="152.86" y1="640.16" x2="131.19" y2="634.51" stroke="#111" stroke-width="1.15"/>
<line x1="131.19" y1="634.51" x2="109.70" y2="628.92" stroke="#111" stroke-width="1.15"/>
<path d="M111.05,624.11 A133.2,133.2 0 0,0 108.54,633.77" fill="none" stroke="#000" stroke-width="1.6"/>
<line x1="111.05" y1="624.11" x2="89.79" y2="617.71" stroke="#111" stroke-width="1.15"/>
<path d="M90.26,616.20 A155.4,155.4 0 0,0 89.35,619.23" fill="none" stroke="#000" stroke-width="1.2"/>
<line x1="109.93" y1="628.04" x2="88.49" y2="622.30" stroke="#111" stroke-width="1.15"/>
<line x1="109.10" y1="631.32" x2="87.52" y2="626.12" stroke="#111" stroke-width="1.15"/>
<line x1="108.54" y1="633.77" x2="86.86" y2="628.98" stroke="#111" stroke-width="1.15"/>
<line x1="151.13" y1="648.42" x2="129.01" y2="644.86" stroke="#111" stroke-width="1.15"/>
<line x1="129.01" y1="644.86" x2="107.09" y2="641.33" stroke="#111" stroke-width="1.15"/>
<path d="M108.01,636.28 A133.2,133.2 0 0,0 106.38,646.41" fill="none" stroke="#000" stroke-width="1.6"/>
<line x1="108.01" y1="636.28" x2="86.24" y2="631.91" stroke="#111" stroke-width="1.15"/>
<line x1="107.20" y1="640.70" x2="85.30" y2="637.07" stroke="#111" stroke-width="1.15"/>
<path d="M85.64,635.07 A155.4,155.4 0 0,0 84.98,639.07" fill="none" stroke="#000" stroke-width="1.2"/>
<line x1="106.38" y1="646.41" x2="84.34" y2="643.73" stroke="#111" stroke-width="1.15"/>
<path d="M84.57,641.90 A155.4,155.4 0 0,0 84.13,645.56" fill="none" stroke="#000" stroke-width="1.2"/>
<line x1="150.60" y1="672.80" x2="128.35" y2="675.40" stroke="#111" stroke-width="1.15"/>
<path d="M127.63,659.74 A111,111 0 0,0 131.27,690.80" fill="none" stroke="#000" stroke-width="2.0"/>
<line x1="127.63" y1="659.74" x2="105.44" y2="659.19" stroke="#111" stroke-width="1.15"/>
<path d="M105.95,650.37 A133.2,133.2 0 0,0 105.51,668.02" fill="none" stroke="#000" stroke-width="1.6"/>
<line x1="105.95" y1="650.37" x2="83.85" y2="648.35" stroke="#111" stroke-width="1.15"/>
<line x1="105.55" y1="656.21" x2="83.37" y2="655.16" stroke="#111" stroke-width="1.15"/>
<path d="M83.59,651.48 A155.4,155.4 0 0,0 83.24,658.85" fill="none" stroke="#000" stroke-width="1.2"/>
<line x1="105.40" y1="663.30" x2="83.20" y2="663.43" stroke="#111" stroke-width="1.15"/>
<path d="M83.20,661.40 A155.4,155.4 0 0,0 83.23,665.46" fill="none" stroke="#000" stroke-width="1.2"/>
<line x1="105.51" y1="668.02" x2="83.33" y2="668.94" stroke="#111" stroke-width="1.15"/>
<line x1="128.02" y1="672.12" x2="105.90" y2="674.04" stroke="#111" stroke-width="1.15"/>
<path d="M105.66,670.74 A133.2,133.2 0 0,0 106.23,677.33" fill="none" stroke="#000" stroke-width="1.6"/>
<line x1="105.66" y1="670.74" x2="83.50" y2="672.11" stroke="#111" stroke-width="1.15"/>
<line x1="105.86" y1="673.60" x2="83.74" y2="675.45" stroke="#111" stroke-width="1.15"/>
<line x1="106.23" y1="677.33" x2="84.17" y2="679.80" stroke="#111" stroke-width="1.15"/>
<path d="M83.95,677.78 A155.4,155.4 0 0,0 84.41,681.82" fill="none" stroke="#000" stroke-width="1.2"/>
<line x1="129.35" y1="682.11" x2="107.50" y2="686.03" stroke="#111" stroke-width="1.15"/>
<path d="M106.85,682.12 A133.2,133.2 0 0,0 108.25,689.93" fill="none" stroke="#000" stroke-width="1.6"/>
<line x1="106.85" y1="682.12" x2="84.89" y2="685.39" stroke="#111" stroke-width="1.15"/>
<line x1="107.42" y1="685.62" x2="85.56" y2="689.48" stroke="#111" stroke-width="1.15"/>
<path d="M85.26,687.71 A155.4,155.4 0 0,0 85.88,691.24" fill="none" stroke="#000" stroke-width="1.2"/>
<line x1="108.25" y1="689.93" x2="86.53" y2="694.50" stroke="#111" stroke-width="1.15"/>
<line x1="131.27" y1="690.80" x2="109.80" y2="696.46" stroke="#111" stroke-width="1.15"/>
<path d="M108.93,692.96 A133.2,133.2 0 0,0 110.77,699.94" fill="none" stroke="#000" stroke-width="1.6"/>
<line x1="108.93" y1="692.96" x2="87.32" y2="698.04" stroke="#111" stroke-width="1.15"/>
<line x1="109.58" y1="695.62" x2="88.08" y2="701.14" stroke="#111" stroke-width="1.15"/>
<line x1="110.77" y1="699.94" x2="89.46" y2="706.18" stroke="#111" stroke-width="1.15"/>
<path d="M88.96,704.41 A155.4,155.4 0 0,0 89.99,707.94" fill="none" stroke="#000" stroke-width="1.2"/>
<line x1="154.58" y1="690.63" x2="133.34" y2="697.74" stroke="#111" stroke-width="1.15"/>
<line x1="133.34" y1="697.74" x2="112.29" y2="704.79" stroke="#111" stroke-width="1.15"/>
<path d="M111.84,703.41 A133.2,133.2 0 0,0 112.76,706.16" fill="none" stroke="#000" stroke-width="1.6"/>
<line x1="111.84" y1="703.41" x2="90.71" y2="710.23" stroke="#111" stroke-width="1.15"/>
<line x1="112.76" y1="706.16" x2="91.79" y2="713.44" stroke="#111" stroke-width="1.15"/>
<line x1="155.55" y1="693.37" x2="134.56" y2="701.18" stroke="#111" stroke-width="1.15"/>
<line x1="134.56" y1="701.18" x2="113.75" y2="708.91" stroke="#111" stroke-width="1.15"/>
<line x1="113.75" y1="708.91" x2="92.94" y2="716.65" stroke="#111" stroke-width="1.15"/>
<line x1="161.21" y1="705.65" x2="141.65" y2="716.55" stroke="#111" stroke-width="1.15"/>
<path d="M138.40,710.26 A111,111 0 0,0 145.30,722.63" fill="none" stroke="#000" stroke-width="2.0"/>
<line x1="138.40" y1="710.26" x2="118.36" y2="719.81" stroke="#111" stroke-width="1.15"/>
<path d="M116.01,714.60 A133.2,133.2 0 0,0 120.93,724.91" fill="none" stroke="#000" stroke-width="1.6"/>
<line x1="116.01" y1="714.60" x2="95.58" y2="723.28" stroke="#111" stroke-width="1.15"/>
<path d="M94.13,719.74 A155.4,155.4 0 0,0 97.12,726.79" fill="none" stroke="#000" stroke-width="1.2"/>
<line x1="120.93" y1="724.91" x2="101.31" y2="735.31" stroke="#111" stroke-width="1.15"/>
<path d="M98.47,729.67 A155.4,155.4 0 0,0 104.39,740.83" fill="none" stroke="#000" stroke-width="1.2"/>
<line x1="143.97" y1="720.51" x2="125.04" y2="732.12" stroke="#111" stroke-width="1.15"/>
<line x1="125.04" y1="732.12" x2="106.11" y2="743.72" stroke="#111" stroke-width="1.15"/>
<line x1="145.30" y1="722.63" x2="126.64" y2="734.66" stroke="#111" stroke-width="1.15"/>
<line x1="126.64" y1="734.66" x2="107.98" y2="746.68" stroke="#111" stroke-width="1.15"/>
<line x1="185.28" y1="733.26" x2="171.80" y2="751.15" stroke="#111" stroke-width="1.15"/>
<path d="M146.58,724.57 A111,111 0 0,0 204.30,768.07" fill="none" stroke="#000" stroke-width="2.0"/>
<line x1="146.58" y1="724.57" x2="128.17" y2="736.98" stroke="#111" stroke-width="1.15"/>
<line x1="128.17" y1="736.98" x2="109.77" y2="749.40" stroke="#111" stroke-width="1.15"/>
<line x1="152.59" y1="732.66" x2="135.39" y2="746.70" stroke="#111" stroke-width="1.15"/>
<path d="M129.77,739.30 A133.2,133.2 0 0,0 141.50,753.68" fill="none" stroke="#000" stroke-width="1.6"/>
<line x1="129.77" y1="739.30" x2="111.64" y2="752.11" stroke="#111" stroke-width="1.15"/>
<line x1="131.44" y1="741.61" x2="113.58" y2="754.79" stroke="#111" stroke-width="1.15"/>
<line x1="132.76" y1="743.37" x2="115.12" y2="756.85" stroke="#111" stroke-width="1.15"/>
<line x1="136.85" y1="748.46" x2="119.89" y2="762.79" stroke="#111" stroke-width="1.15"/>
<path d="M116.88,759.11 A155.4,155.4 0 0,0 123.02,766.38" fill="none" stroke="#000" stroke-width="1.2"/>
<line x1="141.50" y1="753.68" x2="125.32" y2="768.88" stroke="#111" stroke-width="1.15"/>
<line x1="169.25" y1="749.17" x2="155.38" y2="766.51" stroke="#111" stroke-width="1.15"/>
<path d="M143.43,755.70 A133.2,133.2 0 0,0 168.55,775.79" fill="none" stroke="#000" stroke-width="1.6"/>
<line x1="143.43" y1="755.70" x2="127.57" y2="771.23" stroke="#111" stroke-width="1.15"/>
<line x1="145.39" y1="757.66" x2="129.86" y2="773.52" stroke="#111" stroke-width="1.15"/>
<line x1="150.08" y1="762.03" x2="135.33" y2="778.62" stroke="#111" stroke-width="1.15"/>
<path d="M132.78,776.30 A155.4,155.4 0 0,0 137.93,780.88" fill="none" stroke="#000" stroke-width="1.2"/>
<line x1="156.52" y1="767.41" x2="142.84" y2="784.89" stroke="#111" stroke-width="1.15"/>
<path d="M139.94,782.56 A155.4,155.4 0 0,0 145.80,787.15" fill="none" stroke="#000" stroke-width="1.2"/>
<line x1="161.63" y1="771.21" x2="148.81" y2="789.33" stroke="#111" stroke-width="1.15"/>
<line x1="163.69" y1="772.64" x2="151.20" y2="791.00" stroke="#111" stroke-width="1.15"/>
<line x1="168.55" y1="775.79" x2="156.88" y2="794.68" stroke="#111" stroke-width="1.15"/>
<path d="M153.84,792.75 A155.4,155.4 0 0,0 159.96,796.53" fill="none" stroke="#000" stroke-width="1.2"/>
<line x1="185.65" y1="760.05" x2="175.05" y2="779.56" stroke="#111" stroke-width="1.15"/>
<line x1="175.05" y1="779.56" x2="164.46" y2="799.08" stroke="#111" stroke-width="1.15"/>
<path d="M162.79,798.15 A155.4,155.4 0 0,0 166.15,799.98" fill="none" stroke="#000" stroke-width="1.2"/>
<line x1="192.32" y1="763.39" x2="183.06" y2="783.57" stroke="#111" stroke-width="1.15"/>
<path d="M179.17,781.71 A133.2,133.2 0 0,0 187.00,785.30" fill="none" stroke="#000" stroke-width="1.6"/>
<line x1="179.17" y1="781.71" x2="169.27" y2="801.58" stroke="#111" stroke-width="1.15"/>
<line x1="181.27" y1="782.73" x2="171.71" y2="802.77" stroke="#111" stroke-width="1.15"/>
<line x1="184.37" y1="784.16" x2="175.33" y2="804.44" stroke="#111" stroke-width="1.15"/>
<line x1="187.00" y1="785.30" x2="178.41" y2="805.77" stroke="#111" stroke-width="1.15"/>
<line x1="199.77" y1="766.49" x2="192.00" y2="787.28" stroke="#111" stroke-width="1.15"/>
<path d="M189.01,786.13 A133.2,133.2 0 0,0 195.02,788.37" fill="none" stroke="#000" stroke-width="1.6"/>
<line x1="189.01" y1="786.13" x2="180.75" y2="806.73" stroke="#111" stroke-width="1.15"/>
<line x1="192.21" y1="787.36" x2="184.48" y2="808.17" stroke="#111" stroke-width="1.15"/>
<line x1="195.02" y1="788.37" x2="187.76" y2="809.35" stroke="#111" stroke-width="1.15"/>
<line x1="204.30" y1="768.07" x2="197.44" y2="789.18" stroke="#111" stroke-width="1.15"/>
<line x1="197.44" y1="789.18" x2="190.58" y2="810.29" stroke="#111" stroke-width="1.15"/>
<line x1="216.30" y1="748.25" x2="210.67" y2="769.93" stroke="#111" stroke-width="1.15"/>
<path d="M207.53,769.06 A111,111 0 0,0 213.83,770.70" fill="none" stroke="#000" stroke-width="2.0"/>
<line x1="207.53" y1="769.06" x2="201.31" y2="790.37" stroke="#111" stroke-width="1.15"/>
<path d="M200.10,790.01 A133.2,133.2 0 0,0 202.53,790.72" fill="none" stroke="#000" stroke-width="1.6"/>
<line x1="200.10" y1="790.01" x2="193.68" y2="811.27" stroke="#111" stroke-width="1.15"/>
<line x1="202.53" y1="790.72" x2="196.51" y2="812.09" stroke="#111" stroke-width="1.15"/>
<line x1="213.83" y1="770.70" x2="208.87" y2="792.34" stroke="#111" stroke-width="1.15"/>
<path d="M206.06,791.66 A133.2,133.2 0 0,0 211.70,792.96" fill="none" stroke="#000" stroke-width="1.6"/>
<line x1="206.06" y1="791.66" x2="200.63" y2="813.19" stroke="#111" stroke-width="1.15"/>
<line x1="211.70" y1="792.96" x2="207.22" y2="814.70" stroke="#111" stroke-width="1.15"/>
<path d="M203.74,813.94 A155.4,155.4 0 0,0 210.72,815.38" fill="none" stroke="#000" stroke-width="1.2"/>
<line x1="230.37" y1="750.72" x2="228.29" y2="773.02" stroke="#111" stroke-width="1.15"/>
<path d="M220.77,772.06 A111,111 0 0,0 235.86,773.47" fill="none" stroke="#000" stroke-width="2.0"/>
<line x1="220.77" y1="772.06" x2="217.20" y2="793.97" stroke="#111" stroke-width="1.15"/>
<line x1="217.20" y1="793.97" x2="213.63" y2="815.88" stroke="#111" stroke-width="1.15"/>
<line x1="224.23" y1="772.57" x2="221.36" y2="794.58" stroke="#111" stroke-width="1.15"/>
<path d="M220.30,794.44 A133.2,133.2 0 0,0 222.42,794.71" fill="none" stroke="#000" stroke-width="1.6"/>
<line x1="220.30" y1="794.44" x2="217.25" y2="816.43" stroke="#111" stroke-width="1.15"/>
<line x1="222.42" y1="794.71" x2="219.72" y2="816.75" stroke="#111" stroke-width="1.15"/>
<line x1="235.86" y1="773.47" x2="235.31" y2="795.66" stroke="#111" stroke-width="1.15"/>
<path d="M227.38,795.23 A133.2,133.2 0 0,0 243.25,795.62" fill="none" stroke="#000" stroke-width="1.6"/>
<line x1="227.38" y1="795.23" x2="225.51" y2="817.35" stroke="#111" stroke-width="1.15"/>
<path d="M223.97,817.21 A155.4,155.4 0 0,0 227.05,817.47" fill="none" stroke="#000" stroke-width="1.2"/>
<line x1="232.96" y1="795.58" x2="232.02" y2="817.76" stroke="#111" stroke-width="1.15"/>
<path d="M230.69,817.70 A155.4,155.4 0 0,0 233.36,817.81" fill="none" stroke="#000" stroke-width="1.2"/>
<line x1="237.68" y1="795.70" x2="237.52" y2="817.90" stroke="#111" stroke-width="1.15"/>
<line x1="240.78" y1="795.68" x2="241.14" y2="817.88" stroke="#111" stroke-width="1.15"/>
<line x1="243.25" y1="795.62" x2="244.02" y2="817.81" stroke="#111" stroke-width="1.15"/>
<line x1="255.18" y1="726.69" x2="260.76" y2="748.29" stroke="#111" stroke-width="1.15"/>
<path d="M246.43,750.75 A88.6,88.6 0 0,0 274.48,743.51" fill="none" stroke="#000" stroke-width="2.4"/>
<line x1="246.43" y1="750.75" x2="248.41" y2="773.07" stroke="#111" stroke-width="1.15"/>
<path d="M245.85,773.26 A111,111 0 0,0 250.97,772.81" fill="none" stroke="#000" stroke-width="2.0"/>
<line x1="245.85" y1="773.26" x2="247.30" y2="795.42" stroke="#111" stroke-width="1.15"/>
<path d="M246.04,795.49 A133.2,133.2 0 0,0 248.57,795.33" fill="none" stroke="#000" stroke-width="1.6"/>
<line x1="246.04" y1="795.49" x2="247.27" y2="817.66" stroke="#111" stroke-width="1.15"/>
<line x1="248.57" y1="795.33" x2="250.23" y2="817.46" stroke="#111" stroke-width="1.15"/>
<line x1="250.97" y1="772.81" x2="253.44" y2="794.87" stroke="#111" stroke-width="1.15"/>
<line x1="253.44" y1="794.87" x2="255.92" y2="816.93" stroke="#111" stroke-width="1.15"/>
<path d="M254.21,817.11 A155.4,155.4 0 0,0 257.63,816.73" fill="none" stroke="#000" stroke-width="1.2"/>
<line x1="261.31" y1="748.14" x2="267.06" y2="769.79" stroke="#111" stroke-width="1.15"/>
<path d="M262.60,770.87 A111,111 0 0,0 271.47,768.52" fill="none" stroke="#000" stroke-width="2.0"/>
<line x1="262.60" y1="770.87" x2="267.40" y2="792.55" stroke="#111" stroke-width="1.15"/>
<path d="M263.48,793.36 A133.2,133.2 0 0,0 271.29,791.63" fill="none" stroke="#000" stroke-width="1.6"/>
<line x1="263.48" y1="793.36" x2="267.63" y2="815.16" stroke="#111" stroke-width="1.15"/>
<path d="M260.86,816.30 A155.4,155.4 0 0,0 274.34,813.74" fill="none" stroke="#000" stroke-width="1.2"/>
<line x1="271.29" y1="791.63" x2="276.74" y2="813.15" stroke="#111" stroke-width="1.15"/>
<line x1="271.47" y1="768.52" x2="278.04" y2="789.73" stroke="#111" stroke-width="1.15"/>
<path d="M275.73,790.42 A133.2,133.2 0 0,0 280.34,788.99" fill="none" stroke="#000" stroke-width="1.6"/>
<line x1="275.73" y1="790.42" x2="281.92" y2="811.74" stroke="#111" stroke-width="1.15"/>
<path d="M279.93,812.30 A155.4,155.4 0 0,0 283.90,811.15" fill="none" stroke="#000" stroke-width="1.2"/>
<line x1="280.34" y1="788.99" x2="287.30" y2="810.07" stroke="#111" stroke-width="1.15"/>
<line x1="274.48" y1="743.51" x2="283.56" y2="763.99" stroke="#111" stroke-width="1.15"/>
<path d="M280.89,765.13 A111,111 0 0,0 286.19,762.78" fill="none" stroke="#000" stroke-width="2.0"/>
<line x1="280.89" y1="765.13" x2="289.35" y2="785.65" stroke="#111" stroke-width="1.15"/>
<path d="M285.49,787.17 A133.2,133.2 0 0,0 293.15,784.02" fill="none" stroke="#000" stroke-width="1.6"/>
<line x1="285.49" y1="787.17" x2="293.31" y2="807.95" stroke="#111" stroke-width="1.15"/>
<path d="M290.03,809.14 A155.4,155.4 0 0,0 296.55,806.69" fill="none" stroke="#000" stroke-width="1.2"/>
<line x1="290.44" y1="785.20" x2="299.07" y2="805.65" stroke="#111" stroke-width="1.15"/>
<line x1="293.15" y1="784.02" x2="302.25" y2="804.27" stroke="#111" stroke-width="1.15"/>
<line x1="286.19" y1="762.78" x2="295.71" y2="782.84" stroke="#111" stroke-width="1.15"/>
<line x1="295.71" y1="782.84" x2="305.23" y2="802.89" stroke="#111" stroke-width="1.15"/>
<line x1="269.11" y1="721.36" x2="279.37" y2="741.16" stroke="#111" stroke-width="1.15"/>
<line x1="279.37" y1="741.16" x2="289.68" y2="761.05" stroke="#111" stroke-width="1.15"/>
<line x1="289.68" y1="761.05" x2="299.90" y2="780.76" stroke="#111" stroke-width="1.15"/>
<path d="M298.65,781.39 A133.2,133.2 0 0,0 301.13,780.11" fill="none" stroke="#000" stroke-width="1.6"/>
<line x1="298.65" y1="781.39" x2="308.66" y2="801.21" stroke="#111" stroke-width="1.15"/>
<line x1="301.13" y1="780.11" x2="311.56" y2="799.71" stroke="#111" stroke-width="1.15"/>
<line x1="273.96" y1="688.68" x2="291.89" y2="701.95" stroke="#111" stroke-width="1.15"/>
<line x1="291.89" y1="701.95" x2="309.81" y2="715.22" stroke="#111" stroke-width="1.15"/>
<path d="M281.82,739.84 A88.6,88.6 0 0,0 325.19,681.27" fill="none" stroke="#000" stroke-width="2.4"/>
<line x1="281.82" y1="739.84" x2="292.75" y2="759.39" stroke="#111" stroke-width="1.15"/>
<line x1="292.75" y1="759.39" x2="303.58" y2="778.77" stroke="#111" stroke-width="1.15"/>
<line x1="303.58" y1="778.77" x2="314.41" y2="798.15" stroke="#111" stroke-width="1.15"/>
<line x1="299.14" y1="727.19" x2="314.44" y2="743.55" stroke="#111" stroke-width="1.15"/>
<path d="M296.45,757.23 A111,111 0 0,0 329.29,726.50" fill="none" stroke="#000" stroke-width="2.0"/>
<line x1="296.45" y1="757.23" x2="308.02" y2="776.18" stroke="#111" stroke-width="1.15"/>
<path d="M306.04,777.36 A133.2,133.2 0 0,0 309.97,774.97" fill="none" stroke="#000" stroke-width="1.6"/>
<line x1="306.04" y1="777.36" x2="317.29" y2="796.51" stroke="#111" stroke-width="1.15"/>
<line x1="309.97" y1="774.97" x2="321.86" y2="793.71" stroke="#111" stroke-width="1.15"/>
<path d="M320.38,794.64 A155.4,155.4 0 0,0 323.33,792.77" fill="none" stroke="#000" stroke-width="1.2"/>
<line x1="303.25" y1="752.73" x2="316.18" y2="770.77" stroke="#111" stroke-width="1.15"/>
<path d="M313.22,772.84 A133.2,133.2 0 0,0 319.09,768.63" fill="none" stroke="#000" stroke-width="1.6"/>
<line x1="313.22" y1="772.84" x2="325.66" y2="791.23" stroke="#111" stroke-width="1.15"/>
<line x1="319.09" y1="768.63" x2="332.51" y2="786.32" stroke="#111" stroke-width="1.15"/>
<path d="M328.72,789.10 A155.4,155.4 0 0,0 336.21,783.42" fill="none" stroke="#000" stroke-width="1.2"/>
<line x1="317.76" y1="740.31" x2="333.60" y2="755.87" stroke="#111" stroke-width="1.15"/>
<path d="M327.97,761.26 A133.2,133.2 0 0,0 338.89,750.16" fill="none" stroke="#000" stroke-width="1.6"/>
<line x1="327.97" y1="761.26" x2="342.87" y2="777.73" stroke="#111" stroke-width="1.15"/>
<path d="M338.78,781.30 A155.4,155.4 0 0,0 346.83,774.01" fill="none" stroke="#000" stroke-width="1.2"/>
<line x1="333.32" y1="756.15" x2="349.11" y2="771.76" stroke="#111" stroke-width="1.15"/>
<line x1="338.89" y1="750.16" x2="355.61" y2="764.77" stroke="#111" stroke-width="1.15"/>
<path d="M350.92,769.89 A155.4,155.4 0 0,0 360.06,759.44" fill="none" stroke="#000" stroke-width="1.2"/>
<line x1="329.29" y1="726.50" x2="347.43" y2="739.30" stroke="#111" stroke-width="1.15"/>
<path d="M344.56,743.22 A133.2,133.2 0 0,0 350.16,735.28" fill="none" stroke="#000" stroke-width="1.6"/>
<line x1="344.56" y1="743.22" x2="362.22" y2="756.67" stroke="#111" stroke-width="1.15"/>
<line x1="346.93" y1="740.00" x2="364.99" y2="752.92" stroke="#111" stroke-width="1.15"/>
<path d="M364.24,753.96 A155.4,155.4 0 0,0 365.73,751.87" fill="none" stroke="#000" stroke-width="1.2"/>
<line x1="350.16" y1="735.28" x2="368.76" y2="747.40" stroke="#111" stroke-width="1.15"/>
<path d="M368.02,748.52 A155.4,155.4 0 0,0 369.48,746.28" fill="none" stroke="#000" stroke-width="1.2"/>
<line x1="318.13" y1="701.55" x2="338.23" y2="711.43" stroke="#111" stroke-width="1.15"/>
<path d="M334.31,718.72 A111,111 0 0,0 341.60,703.86" fill="none" stroke="#000" stroke-width="2.0"/>
<line x1="334.31" y1="718.72" x2="353.45" y2="729.96" stroke="#111" stroke-width="1.15"/>
<path d="M352.36,731.80 A133.2,133.2 0 0,0 354.52,728.12" fill="none" stroke="#000" stroke-width="1.6"/>
<line x1="352.36" y1="731.80" x2="371.32" y2="743.34" stroke="#111" stroke-width="1.15"/>
<line x1="354.52" y1="728.12" x2="373.84" y2="739.05" stroke="#111" stroke-width="1.15"/>
<path d="M373.20,740.16 A155.4,155.4 0 0,0 374.46,737.93" fill="none" stroke="#000" stroke-width="1.2"/>
<line x1="337.47" y1="712.95" x2="357.25" y2="723.03" stroke="#111" stroke-width="1.15"/>
<line x1="357.25" y1="723.03" x2="377.02" y2="733.12" stroke="#111" stroke-width="1.15"/>
<path d="M376.05,735.00 A155.4,155.4 0 0,0 377.97,731.24" fill="none" stroke="#000" stroke-width="1.2"/>
<line x1="341.60" y1="703.86" x2="362.21" y2="712.14" stroke="#111" stroke-width="1.15"/>
<path d="M360.31,716.62 A133.2,133.2 0 0,0 363.94,707.59" fill="none" stroke="#000" stroke-width="1.6"/>
<line x1="360.31" y1="716.62" x2="380.60" y2="725.64" stroke="#111" stroke-width="1.15"/>
<path d="M379.14,728.82 A155.4,155.4 0 0,0 381.98,722.42" fill="none" stroke="#000" stroke-width="1.2"/>
<line x1="362.61" y1="711.12" x2="383.28" y2="719.22" stroke="#111" stroke-width="1.15"/>
<line x1="363.94" y1="707.59" x2="384.82" y2="715.11" stroke="#111" stroke-width="1.15"/>
<path d="M384.18,716.86 A155.4,155.4 0 0,0 385.44,713.35" fill="none" stroke="#000" stroke-width="1.2"/>
<line x1="325.19" y1="681.27" x2="347.08" y2="686.01" stroke="#111" stroke-width="1.15"/>
<line x1="347.08" y1="686.01" x2="368.78" y2="690.71" stroke="#111" stroke-width="1.15"/>
<path d="M367.11,697.55 A133.2,133.2 0 0,0 370.09,683.80" fill="none" stroke="#000" stroke-width="1.6"/>
<line x1="367.11" y1="697.55" x2="388.52" y2="703.39" stroke="#111" stroke-width="1.15"/>
<path d="M386.54,710.08 A155.4,155.4 0 0,0 390.21,696.63" fill="none" stroke="#000" stroke-width="1.2"/>
<line x1="369.33" y1="688.05" x2="391.12" y2="692.30" stroke="#111" stroke-width="1.15"/>
<path d="M390.77,694.03 A155.4,155.4 0 0,0 391.44,690.58" fill="none" stroke="#000" stroke-width="1.2"/>
<line x1="370.09" y1="683.80" x2="392.00" y2="687.35" stroke="#111" stroke-width="1.15"/>
<line x1="260.60" y1="662.50" x2="282.60" y2="662.50" stroke="#111" stroke-width="1.15"/>
<line x1="282.57" y1="664.19" x2="304.85" y2="665.04" stroke="#111" stroke-width="1.15"/>
<path d="M304.53,669.54 A66.3,66.3 0 0,0 304.87,660.54" fill="none" stroke="#000" stroke-width="2.5"/>
<line x1="304.53" y1="669.54" x2="326.70" y2="671.91" stroke="#111" stroke-width="1.15"/>
<line x1="326.70" y1="671.91" x2="348.97" y2="674.29" stroke="#111" stroke-width="1.15"/>
<line x1="348.97" y1="674.29" x2="371.05" y2="676.64" stroke="#111" stroke-width="1.15"/>
<path d="M370.50,681.04 A133.2,133.2 0 0,0 371.44,672.24" fill="none" stroke="#000" stroke-width="1.6"/>
<line x1="370.50" y1="681.04" x2="392.49" y2="684.13" stroke="#111" stroke-width="1.15"/>
<line x1="370.89" y1="678.04" x2="392.94" y2="680.63" stroke="#111" stroke-width="1.15"/>
<line x1="371.15" y1="675.63" x2="393.24" y2="677.81" stroke="#111" stroke-width="1.15"/>
<line x1="371.44" y1="672.24" x2="393.58" y2="673.86" stroke="#111" stroke-width="1.15"/>
<line x1="304.87" y1="660.54" x2="327.16" y2="659.88" stroke="#111" stroke-width="1.15"/>
<path d="M327.17,664.69 A88.6,88.6 0 0,0 326.89,655.07" fill="none" stroke="#000" stroke-width="2.4"/>
<line x1="327.17" y1="664.69" x2="349.57" y2="665.24" stroke="#111" stroke-width="1.15"/>
<path d="M349.43,668.58 A111,111 0 0,0 349.60,661.90" fill="none" stroke="#000" stroke-width="2.0"/>
<line x1="349.43" y1="668.58" x2="371.60" y2="669.80" stroke="#111" stroke-width="1.15"/>
<line x1="371.60" y1="669.80" x2="393.77" y2="671.01" stroke="#111" stroke-width="1.15"/>
<line x1="349.60" y1="661.90" x2="371.80" y2="661.78" stroke="#111" stroke-width="1.15"/>
<path d="M371.77,665.37 A133.2,133.2 0 0,0 371.73,658.19" fill="none" stroke="#000" stroke-width="1.6"/>
<line x1="371.77" y1="665.37" x2="393.96" y2="665.85" stroke="#111" stroke-width="1.15"/>
<path d="M393.92,667.58 A155.4,155.4 0 0,0 393.99,664.13" fill="none" stroke="#000" stroke-width="1.2"/>
<line x1="371.80" y1="661.81" x2="394.00" y2="661.69" stroke="#111" stroke-width="1.15"/>
<line x1="371.73" y1="658.19" x2="393.92" y2="657.48" stroke="#111" stroke-width="1.15"/>
<line x1="326.89" y1="655.07" x2="349.21" y2="653.19" stroke="#111" stroke-width="1.15"/>
<line x1="349.21" y1="653.19" x2="371.33" y2="651.33" stroke="#111" stroke-width="1.15"/>
<line x1="371.33" y1="651.33" x2="393.45" y2="649.47" stroke="#111" stroke-width="1.15"/>
<path d="M393.78,654.31 A155.4,155.4 0 0,0 392.97,644.64" fill="none" stroke="#000" stroke-width="1.2"/>
<circle cx="392.56" cy="641.41" r="2.43" fill="#c2d434" stroke="#5f6c10" stroke-width="0.9"/>
<circle cx="392.11" cy="638.35" r="1.82" fill="#c2d434" stroke="#5f6c10" stroke-width="0.9"/>
<circle cx="391.48" cy="634.64" r="2.37" fill="#c2d434" stroke="#5f6c10" stroke-width="0.9"/>
<circle cx="390.89" cy="631.55" r="2.19" fill="#c2d434" stroke="#5f6c10" stroke-width="0.9"/>
<circle cx="390.21" cy="628.37" r="1.63" fill="#c2d434" stroke="#5f6c10" stroke-width="0.9"/>
<circle cx="389.42" cy="625.06" r="2.36" fill="#c2d434" stroke="#5f6c10" stroke-width="0.9"/>
<circle cx="388.65" cy="622.09" r="2.10" fill="#c2d434" stroke="#5f6c10" stroke-width="0.9"/>
<circle cx="387.81" cy="619.08" r="2.43" fill="#c2d434" stroke="#5f6c10" stroke-width="0.9"/>
<circle cx="386.90" cy="616.08" r="2.22" fill="#c2d434" stroke="#5f6c10" stroke-width="0.9"/>
<circle cx="385.93" cy="613.07" r="2.24" fill="#c2d434" stroke="#5f6c10" stroke-width="0.9"/>
<circle cx="384.58" cy="609.23" r="1.84" fill="#c2d434" stroke="#5f6c10" stroke-width="0.9"/>
<circle cx="383.40" cy="606.10" r="2.31" fill="#c2d434" stroke="#5f6c10" stroke-width="0.9"/>
<circle cx="382.27" cy="603.27" r="2.43" fill="#c2d434" stroke="#5f6c10" stroke-width="0.9"/>
<circle cx="380.89" cy="600.02" r="2.36" fill="#c2d434" stroke="#5f6c10" stroke-width="0.9"/>
<circle cx="379.72" cy="597.43" r="1.94" fill="#c2d434" stroke="#5f6c10" stroke-width="0.9"/>
<circle cx="378.36" cy="594.55" r="2.26" fill="#c2d434" stroke="#5f6c10" stroke-width="0.9"/>
<circle cx="376.82" cy="591.48" r="1.99" fill="#c2d434" stroke="#5f6c10" stroke-width="0.9"/>
<circle cx="375.01" cy="588.05" r="1.61" fill="#c2d434" stroke="#5f6c10" stroke-width="0.9"/>
<circle cx="373.89" cy="586.04" r="1.54" fill="#c2d434" stroke="#5f6c10" stroke-width="0.9"/>
<circle cx="371.95" cy="582.71" r="1.58" fill="#c2d434" stroke="#5f6c10" stroke-width="0.9"/>
<circle cx="370.39" cy="580.16" r="1.70" fill="#c2d434" stroke="#5f6c10" stroke-width="0.9"/>
<circle cx="368.27" cy="576.86" r="1.66" fill="#c2d434" stroke="#5f6c10" stroke-width="0.9"/>
<circle cx="366.71" cy="574.54" r="2.00" fill="#c2d434" stroke="#5f6c10" stroke-width="0.9"/>
<circle cx="364.83" cy="571.86" r="2.20" fill="#c2d434" stroke="#5f6c10" stroke-width="0.9"/>
<circle cx="362.83" cy="569.14" r="2.04" fill="#c2d434" stroke="#5f6c10" stroke-width="0.9"/>
<circle cx="360.72" cy="566.39" r="1.92" fill="#c2d434" stroke="#5f6c10" stroke-width="0.9"/>
<circle cx="358.68" cy="563.86" r="2.15" fill="#c2d434" stroke="#5f6c10" stroke-width="0.9"/>
<circle cx="356.59" cy="561.37" r="1.80" fill="#c2d434" stroke="#5f6c10" stroke-width="0.9"/>
<circle cx="355.19" cy="559.76" r="1.96" fill="#c2d434" stroke="#5f6c10" stroke-width="0.9"/>
<circle cx="353.32" cy="557.67" r="2.26" fill="#c2d434" stroke="#5f6c10" stroke-width="0.9"/>
<circle cx="351.80" cy="556.04" r="1.90" fill="#c2d434" stroke="#5f6c10" stroke-width="0.9"/>
<circle cx="349.92" cy="554.07" r="1.68" fill="#c2d434" stroke="#5f6c10" stroke-width="0.9"/>
<circle cx="348.19" cy="552.32" r="2.40" fill="#c2d434" stroke="#5f6c10" stroke-width="0.9"/>
<circle cx="346.92" cy="551.08" r="2.22" fill="#c2d434" stroke="#5f6c10" stroke-width="0.9"/>
<circle cx="345.20" cy="549.43" r="1.87" fill="#c2d434" stroke="#5f6c10" stroke-width="0.9"/>
<circle cx="342.69" cy="547.11" r="1.87" fill="#c2d434" stroke="#5f6c10" stroke-width="0.9"/>
<circle cx="341.38" cy="545.94" r="2.03" fill="#c2d434" stroke="#5f6c10" stroke-width="0.9"/>
<circle cx="339.56" cy="544.36" r="2.10" fill="#c2d434" stroke="#5f6c10" stroke-width="0.9"/>
<circle cx="336.99" cy="542.21" r="1.72" fill="#c2d434" stroke="#5f6c10" stroke-width="0.9"/>
<circle cx="335.58" cy="541.07" r="1.50" fill="#c2d434" stroke="#5f6c10" stroke-width="0.9"/>
<circle cx="333.31" cy="539.30" r="1.71" fill="#c2d434" stroke="#5f6c10" stroke-width="0.9"/>
<circle cx="331.71" cy="538.08" r="2.28" fill="#c2d434" stroke="#5f6c10" stroke-width="0.9"/>
<circle cx="329.59" cy="536.52" r="1.64" fill="#c2d434" stroke="#5f6c10" stroke-width="0.9"/>
<circle cx="327.73" cy="535.20" r="1.96" fill="#c2d434" stroke="#5f6c10" stroke-width="0.9"/>
<circle cx="325.05" cy="533.37" r="1.70" fill="#c2d434" stroke="#5f6c10" stroke-width="0.9"/>
<circle cx="322.32" cy="531.58" r="1.71" fill="#c2d434" stroke="#5f6c10" stroke-width="0.9"/>
<circle cx="319.56" cy="529.86" r="1.67" fill="#c2d434" stroke="#5f6c10" stroke-width="0.9"/>
<circle cx="316.34" cy="527.94" r="1.90" fill="#c2d434" stroke="#5f6c10" stroke-width="0.9"/>
<circle cx="313.81" cy="526.51" r="1.67" fill="#c2d434" stroke="#5f6c10" stroke-width="0.9"/>
<circle cx="310.66" cy="524.81" r="1.53" fill="#c2d434" stroke="#5f6c10" stroke-width="0.9"/>
<circle cx="307.77" cy="523.35" r="1.61" fill="#c2d434" stroke="#5f6c10" stroke-width="0.9"/>
<circle cx="305.44" cy="522.21" r="1.67" fill="#c2d434" stroke="#5f6c10" stroke-width="0.9"/>
<circle cx="301.68" cy="520.48" r="1.99" fill="#c2d434" stroke="#5f6c10" stroke-width="0.9"/>
<circle cx="298.82" cy="519.24" r="1.56" fill="#c2d434" stroke="#5f6c10" stroke-width="0.9"/>
<circle cx="296.07" cy="518.12" r="1.52" fill="#c2d434" stroke="#5f6c10" stroke-width="0.9"/>
<circle cx="293.27" cy="517.04" r="1.95" fill="#c2d434" stroke="#5f6c10" stroke-width="0.9"/>
<circle cx="289.21" cy="515.57" r="1.91" fill="#c2d434" stroke="#5f6c10" stroke-width="0.9"/>
<circle cx="286.51" cy="514.67" r="2.20" fill="#c2d434" stroke="#5f6c10" stroke-width="0.9"/>
<circle cx="283.07" cy="513.60" r="1.55" fill="#c2d434" stroke="#5f6c10" stroke-width="0.9"/>
<circle cx="279.69" cy="512.63" r="1.90" fill="#c2d434" stroke="#5f6c10" stroke-width="0.9"/>
<circle cx="276.68" cy="511.84" r="1.90" fill="#c2d434" stroke="#5f6c10" stroke-width="0.9"/>
<circle cx="273.21" cy="511.00" r="1.53" fill="#c2d434" stroke="#5f6c10" stroke-width="0.9"/>
<circle cx="270.58" cy="510.43" r="2.47" fill="#c2d434" stroke="#5f6c10" stroke-width="0.9"/>
<circle cx="266.85" cy="509.69" r="1.72" fill="#c2d434" stroke="#5f6c10" stroke-width="0.9"/>
<circle cx="264.00" cy="509.19" r="1.59" fill="#c2d434" stroke="#5f6c10" stroke-width="0.9"/>
<circle cx="260.15" cy="508.60" r="1.97" fill="#c2d434" stroke="#5f6c10" stroke-width="0.9"/>
<circle cx="256.92" cy="508.18" r="1.66" fill="#c2d434" stroke="#5f6c10" stroke-width="0.9"/>
<circle cx="254.55" cy="507.92" r="2.12" fill="#c2d434" stroke="#5f6c10" stroke-width="0.9"/>
<circle cx="251.20" cy="507.61" r="1.85" fill="#c2d434" stroke="#5f6c10" stroke-width="0.9"/>
<circle cx="247.80" cy="507.37" r="1.62" fill="#c2d434" stroke="#5f6c10" stroke-width="0.9"/>
<circle cx="243.59" cy="507.18" r="1.55" fill="#c2d434" stroke="#5f6c10" stroke-width="0.9"/>
<circle cx="240.91" cy="507.12" r="2.23" fill="#c2d434" stroke="#5f6c10" stroke-width="0.9"/>
<circle cx="237.52" cy="507.10" r="1.78" fill="#c2d434" stroke="#5f6c10" stroke-width="0.9"/>
<circle cx="234.26" cy="507.16" r="2.29" fill="#c2d434" stroke="#5f6c10" stroke-width="0.9"/>
<circle cx="230.53" cy="507.31" r="1.97" fill="#c2d434" stroke="#5f6c10" stroke-width="0.9"/>
<circle cx="227.68" cy="507.48" r="2.43" fill="#c2d434" stroke="#5f6c10" stroke-width="0.9"/>
<circle cx="224.26" cy="507.76" r="1.80" fill="#c2d434" stroke="#5f6c10" stroke-width="0.9"/>
<circle cx="221.62" cy="508.03" r="1.75" fill="#c2d434" stroke="#5f6c10" stroke-width="0.9"/>
<circle cx="217.66" cy="508.52" r="1.77" fill="#c2d434" stroke="#5f6c10" stroke-width="0.9"/>
<circle cx="214.83" cy="508.93" r="2.31" fill="#c2d434" stroke="#5f6c10" stroke-width="0.9"/>
<circle cx="211.62" cy="509.46" r="2.13" fill="#c2d434" stroke="#5f6c10" stroke-width="0.9"/>
<circle cx="208.29" cy="510.08" r="1.84" fill="#c2d434" stroke="#5f6c10" stroke-width="0.9"/>
<circle cx="204.98" cy="510.78" r="1.59" fill="#c2d434" stroke="#5f6c10" stroke-width="0.9"/>
<circle cx="201.38" cy="511.62" r="2.18" fill="#c2d434" stroke="#5f6c10" stroke-width="0.9"/>
<circle cx="198.67" cy="512.32" r="2.47" fill="#c2d434" stroke="#5f6c10" stroke-width="0.9"/>
<circle cx="195.57" cy="513.18" r="2.09" fill="#c2d434" stroke="#5f6c10" stroke-width="0.9"/>
<circle cx="192.07" cy="514.23" r="1.50" fill="#c2d434" stroke="#5f6c10" stroke-width="0.9"/>
<circle cx="189.47" cy="515.07" r="1.53" fill="#c2d434" stroke="#5f6c10" stroke-width="0.9"/>
<circle cx="186.26" cy="516.18" r="1.59" fill="#c2d434" stroke="#5f6c10" stroke-width="0.9"/>
<circle cx="182.40" cy="517.62" r="1.67" fill="#c2d434" stroke="#5f6c10" stroke-width="0.9"/>
<circle cx="179.83" cy="518.64" r="1.54" fill="#c2d434" stroke="#5f6c10" stroke-width="0.9"/>
<circle cx="176.75" cy="519.94" r="1.55" fill="#c2d434" stroke="#5f6c10" stroke-width="0.9"/>
<circle cx="174.31" cy="521.02" r="2.15" fill="#c2d434" stroke="#5f6c10" stroke-width="0.9"/>
<circle cx="170.88" cy="522.63" r="2.40" fill="#c2d434" stroke="#5f6c10" stroke-width="0.9"/>
<circle cx="167.74" cy="524.20" r="1.70" fill="#c2d434" stroke="#5f6c10" stroke-width="0.9"/>
<circle cx="165.39" cy="525.42" r="2.47" fill="#c2d434" stroke="#5f6c10" stroke-width="0.9"/>
<circle cx="161.87" cy="527.36" r="1.98" fill="#c2d434" stroke="#5f6c10" stroke-width="0.9"/>
<circle cx="158.99" cy="529.04" r="2.30" fill="#c2d434" stroke="#5f6c10" stroke-width="0.9"/>
<circle cx="156.74" cy="530.41" r="2.42" fill="#c2d434" stroke="#5f6c10" stroke-width="0.9"/>
<circle cx="153.51" cy="532.47" r="2.44" fill="#c2d434" stroke="#5f6c10" stroke-width="0.9"/>
<circle cx="150.80" cy="534.28" r="1.53" fill="#c2d434" stroke="#5f6c10" stroke-width="0.9"/>
<circle cx="148.48" cy="535.90" r="1.80" fill="#c2d434" stroke="#5f6c10" stroke-width="0.9"/>
<circle cx="145.71" cy="537.92" r="2.11" fill="#c2d434" stroke="#5f6c10" stroke-width="0.9"/>
<circle cx="142.67" cy="540.24" r="2.45" fill="#c2d434" stroke="#5f6c10" stroke-width="0.9"/>
<circle cx="140.04" cy="542.36" r="1.59" fill="#c2d434" stroke="#5f6c10" stroke-width="0.9"/>
<circle cx="138.30" cy="543.81" r="1.79" fill="#c2d434" stroke="#5f6c10" stroke-width="0.9"/>
<circle cx="135.32" cy="546.38" r="2.35" fill="#c2d434" stroke="#5f6c10" stroke-width="0.9"/>
<circle cx="133.41" cy="548.11" r="1.61" fill="#c2d434" stroke="#5f6c10" stroke-width="0.9"/>
<circle cx="130.46" cy="550.90" r="1.89" fill="#c2d434" stroke="#5f6c10" stroke-width="0.9"/>
<circle cx="128.47" cy="552.86" r="1.83" fill="#c2d434" stroke="#5f6c10" stroke-width="0.9"/>
<circle cx="125.75" cy="555.66" r="2.18" fill="#c2d434" stroke="#5f6c10" stroke-width="0.9"/>
<circle cx="123.46" cy="558.14" r="2.43" fill="#c2d434" stroke="#5f6c10" stroke-width="0.9"/>
<circle cx="121.67" cy="560.14" r="1.67" fill="#c2d434" stroke="#5f6c10" stroke-width="0.9"/>
<circle cx="119.18" cy="563.07" r="2.24" fill="#c2d434" stroke="#5f6c10" stroke-width="0.9"/>
<circle cx="117.63" cy="564.95" r="2.23" fill="#c2d434" stroke="#5f6c10" stroke-width="0.9"/>
<circle cx="115.79" cy="567.28" r="2.34" fill="#c2d434" stroke="#5f6c10" stroke-width="0.9"/>
<circle cx="113.45" cy="570.38" r="2.05" fill="#c2d434" stroke="#5f6c10" stroke-width="0.9"/>
<circle cx="111.62" cy="572.92" r="2.42" fill="#c2d434" stroke="#5f6c10" stroke-width="0.9"/>
<circle cx="109.77" cy="575.60" r="1.86" fill="#c2d434" stroke="#5f6c10" stroke-width="0.9"/>
<circle cx="108.40" cy="577.66" r="1.91" fill="#c2d434" stroke="#5f6c10" stroke-width="0.9"/>
<circle cx="106.43" cy="580.77" r="1.73" fill="#c2d434" stroke="#5f6c10" stroke-width="0.9"/>
<circle cx="104.75" cy="583.54" r="2.28" fill="#c2d434" stroke="#5f6c10" stroke-width="0.9"/>
<circle cx="103.49" cy="585.73" r="1.98" fill="#c2d434" stroke="#5f6c10" stroke-width="0.9"/>
<circle cx="101.90" cy="588.59" r="1.77" fill="#c2d434" stroke="#5f6c10" stroke-width="0.9"/>
<circle cx="100.38" cy="591.47" r="1.67" fill="#c2d434" stroke="#5f6c10" stroke-width="0.9"/>
<circle cx="98.69" cy="594.86" r="2.22" fill="#c2d434" stroke="#5f6c10" stroke-width="0.9"/>
<circle cx="97.28" cy="597.87" r="2.11" fill="#c2d434" stroke="#5f6c10" stroke-width="0.9"/>
<circle cx="96.08" cy="600.55" r="2.21" fill="#c2d434" stroke="#5f6c10" stroke-width="0.9"/>
<circle cx="95.05" cy="602.99" r="1.89" fill="#c2d434" stroke="#5f6c10" stroke-width="0.9"/>
<circle cx="93.49" cy="606.89" r="1.99" fill="#c2d434" stroke="#5f6c10" stroke-width="0.9"/>
<circle cx="92.57" cy="609.36" r="1.65" fill="#c2d434" stroke="#5f6c10" stroke-width="0.9"/>
<circle cx="91.42" cy="612.63" r="2.21" fill="#c2d434" stroke="#5f6c10" stroke-width="0.9"/>
<circle cx="90.26" cy="616.20" r="1.52" fill="#c2d434" stroke="#5f6c10" stroke-width="0.9"/>
<circle cx="89.35" cy="619.23" r="1.97" fill="#c2d434" stroke="#5f6c10" stroke-width="0.9"/>
<circle cx="88.49" cy="622.30" r="2.26" fill="#c2d434" stroke="#5f6c10" stroke-width="0.9"/>
<circle cx="87.52" cy="626.12" r="2.18" fill="#c2d434" stroke="#5f6c10" stroke-width="0.9"/>
<circle cx="86.86" cy="628.98" r="1.60" fill="#c2d434" stroke="#5f6c10" stroke-width="0.9"/>
<circle cx="86.24" cy="631.91" r="1.74" fill="#c2d434" stroke="#5f6c10" stroke-width="0.9"/>
<circle cx="85.64" cy="635.07" r="2.34" fill="#c2d434" stroke="#5f6c10" stroke-width="0.9"/>
<circle cx="84.98" cy="639.07" r="2.14" fill="#c2d434" stroke="#5f6c10" stroke-width="0.9"/>
<circle cx="84.57" cy="641.90" r="2.38" fill="#c2d434" stroke="#5f6c10" stroke-width="0.9"/>
<circle cx="84.13" cy="645.56" r="2.37" fill="#c2d434" stroke="#5f6c10" stroke-width="0.9"/>
<circle cx="83.85" cy="648.35" r="1.95" fill="#c2d434" stroke="#5f6c10" stroke-width="0.9"/>
<circle cx="83.59" cy="651.48" r="2.40" fill="#c2d434" stroke="#5f6c10" stroke-width="0.9"/>
<circle cx="83.37" cy="655.19" r="2.23" fill="#c2d434" stroke="#5f6c10" stroke-width="0.9"/>
<circle cx="83.24" cy="658.85" r="1.83" fill="#c2d434" stroke="#5f6c10" stroke-width="0.9"/>
<circle cx="83.20" cy="661.40" r="1.87" fill="#c2d434" stroke="#5f6c10" stroke-width="0.9"/>
<circle cx="83.23" cy="665.46" r="1.57" fill="#c2d434" stroke="#5f6c10" stroke-width="0.9"/>
<circle cx="83.33" cy="668.94" r="1.90" fill="#c2d434" stroke="#5f6c10" stroke-width="0.9"/>
<circle cx="83.50" cy="672.11" r="2.46" fill="#c2d434" stroke="#5f6c10" stroke-width="0.9"/>
<circle cx="83.74" cy="675.45" r="1.60" fill="#c2d434" stroke="#5f6c10" stroke-width="0.9"/>
<circle cx="83.95" cy="677.78" r="2.07" fill="#c2d434" stroke="#5f6c10" stroke-width="0.9"/>
<circle cx="84.41" cy="681.82" r="1.61" fill="#c2d434" stroke="#5f6c10" stroke-width="0.9"/>
<circle cx="84.89" cy="685.39" r="1.58" fill="#c2d434" stroke="#5f6c10" stroke-width="0.9"/>
<circle cx="85.26" cy="687.71" r="2.15" fill="#c2d434" stroke="#5f6c10" stroke-width="0.9"/>
<circle cx="85.88" cy="691.24" r="1.74" fill="#c2d434" stroke="#5f6c10" stroke-width="0.9"/>
<circle cx="86.53" cy="694.50" r="1.55" fill="#c2d434" stroke="#5f6c10" stroke-width="0.9"/>
<circle cx="87.32" cy="698.04" r="1.65" fill="#c2d434" stroke="#5f6c10" stroke-width="0.9"/>
<circle cx="88.08" cy="701.14" r="2.14" fill="#c2d434" stroke="#5f6c10" stroke-width="0.9"/>
<circle cx="88.96" cy="704.41" r="2.09" fill="#c2d434" stroke="#5f6c10" stroke-width="0.9"/>
<circle cx="89.99" cy="707.94" r="1.51" fill="#c2d434" stroke="#5f6c10" stroke-width="0.9"/>
<circle cx="90.71" cy="710.23" r="1.73" fill="#c2d434" stroke="#5f6c10" stroke-width="0.9"/>
<circle cx="91.79" cy="713.44" r="2.47" fill="#c2d434" stroke="#5f6c10" stroke-width="0.9"/>
<circle cx="92.94" cy="716.65" r="1.72" fill="#c2d434" stroke="#5f6c10" stroke-width="0.9"/>
<circle cx="94.13" cy="719.74" r="2.06" fill="#c2d434" stroke="#5f6c10" stroke-width="0.9"/>
<circle cx="95.36" cy="722.76" r="1.92" fill="#c2d434" stroke="#5f6c10" stroke-width="0.9"/>
<circle cx="97.12" cy="726.79" r="2.28" fill="#c2d434" stroke="#5f6c10" stroke-width="0.9"/>
<circle cx="98.47" cy="729.67" r="2.10" fill="#c2d434" stroke="#5f6c10" stroke-width="0.9"/>
<circle cx="99.52" cy="731.83" r="2.29" fill="#c2d434" stroke="#5f6c10" stroke-width="0.9"/>
<circle cx="101.27" cy="735.22" r="2.04" fill="#c2d434" stroke="#5f6c10" stroke-width="0.9"/>
<circle cx="102.74" cy="737.95" r="1.69" fill="#c2d434" stroke="#5f6c10" stroke-width="0.9"/>
<circle cx="104.39" cy="740.83" r="1.68" fill="#c2d434" stroke="#5f6c10" stroke-width="0.9"/>
<circle cx="106.11" cy="743.72" r="1.58" fill="#c2d434" stroke="#5f6c10" stroke-width="0.9"/>
<circle cx="107.98" cy="746.68" r="2.33" fill="#c2d434" stroke="#5f6c10" stroke-width="0.9"/>
<circle cx="109.77" cy="749.40" r="1.61" fill="#c2d434" stroke="#5f6c10" stroke-width="0.9"/>
<circle cx="111.64" cy="752.11" r="1.52" fill="#c2d434" stroke="#5f6c10" stroke-width="0.9"/>
<circle cx="113.58" cy="754.79" r="2.47" fill="#c2d434" stroke="#5f6c10" stroke-width="0.9"/>
<circle cx="115.12" cy="756.85" r="1.70" fill="#c2d434" stroke="#5f6c10" stroke-width="0.9"/>
<circle cx="116.88" cy="759.11" r="2.39" fill="#c2d434" stroke="#5f6c10" stroke-width="0.9"/>
<circle cx="118.96" cy="761.68" r="1.59" fill="#c2d434" stroke="#5f6c10" stroke-width="0.9"/>
<circle cx="121.37" cy="764.51" r="1.97" fill="#c2d434" stroke="#5f6c10" stroke-width="0.9"/>
<circle cx="123.02" cy="766.38" r="1.72" fill="#c2d434" stroke="#5f6c10" stroke-width="0.9"/>
<circle cx="125.32" cy="768.88" r="2.33" fill="#c2d434" stroke="#5f6c10" stroke-width="0.9"/>
<circle cx="127.57" cy="771.23" r="2.12" fill="#c2d434" stroke="#5f6c10" stroke-width="0.9"/>
<circle cx="129.86" cy="773.52" r="2.14" fill="#c2d434" stroke="#5f6c10" stroke-width="0.9"/>
<circle cx="132.78" cy="776.30" r="2.26" fill="#c2d434" stroke="#5f6c10" stroke-width="0.9"/>
<circle cx="134.97" cy="778.30" r="2.37" fill="#c2d434" stroke="#5f6c10" stroke-width="0.9"/>
<circle cx="137.93" cy="780.88" r="1.85" fill="#c2d434" stroke="#5f6c10" stroke-width="0.9"/>
<circle cx="139.94" cy="782.56" r="2.10" fill="#c2d434" stroke="#5f6c10" stroke-width="0.9"/>
<circle cx="142.77" cy="784.84" r="1.95" fill="#c2d434" stroke="#5f6c10" stroke-width="0.9"/>
<circle cx="145.80" cy="787.15" r="1.61" fill="#c2d434" stroke="#5f6c10" stroke-width="0.9"/>
<circle cx="148.81" cy="789.33" r="2.34" fill="#c2d434" stroke="#5f6c10" stroke-width="0.9"/>
<circle cx="151.20" cy="791.00" r="2.09" fill="#c2d434" stroke="#5f6c10" stroke-width="0.9"/>
<circle cx="153.84" cy="792.75" r="2.31" fill="#c2d434" stroke="#5f6c10" stroke-width="0.9"/>
<circle cx="156.63" cy="794.53" r="1.71" fill="#c2d434" stroke="#5f6c10" stroke-width="0.9"/>
<circle cx="159.96" cy="796.53" r="2.04" fill="#c2d434" stroke="#5f6c10" stroke-width="0.9"/>
<circle cx="162.79" cy="798.15" r="1.96" fill="#c2d434" stroke="#5f6c10" stroke-width="0.9"/>
<circle cx="166.15" cy="799.98" r="2.23" fill="#c2d434" stroke="#5f6c10" stroke-width="0.9"/>
<circle cx="169.27" cy="801.58" r="1.58" fill="#c2d434" stroke="#5f6c10" stroke-width="0.9"/>
<circle cx="171.71" cy="802.77" r="1.85" fill="#c2d434" stroke="#5f6c10" stroke-width="0.9"/>
<circle cx="175.33" cy="804.44" r="1.98" fill="#c2d434" stroke="#5f6c10" stroke-width="0.9"/>
<circle cx="178.41" cy="805.77" r="1.57" fill="#c2d434" stroke="#5f6c10" stroke-width="0.9"/>
<circle cx="180.75" cy="806.73" r="2.05" fill="#c2d434" stroke="#5f6c10" stroke-width="0.9"/>
<circle cx="184.48" cy="808.17" r="2.24" fill="#c2d434" stroke="#5f6c10" stroke-width="0.9"/>
<circle cx="187.76" cy="809.35" r="1.92" fill="#c2d434" stroke="#5f6c10" stroke-width="0.9"/>
<circle cx="190.58" cy="810.29" r="2.15" fill="#c2d434" stroke="#5f6c10" stroke-width="0.9"/>
<circle cx="193.68" cy="811.27" r="2.11" fill="#c2d434" stroke="#5f6c10" stroke-width="0.9"/>
<circle cx="196.51" cy="812.09" r="1.71" fill="#c2d434" stroke="#5f6c10" stroke-width="0.9"/>
<circle cx="200.63" cy="813.19" r="1.85" fill="#c2d434" stroke="#5f6c10" stroke-width="0.9"/>
<circle cx="203.74" cy="813.94" r="2.50" fill="#c2d434" stroke="#5f6c10" stroke-width="0.9"/>
<circle cx="207.25" cy="814.70" r="1.84" fill="#c2d434" stroke="#5f6c10" stroke-width="0.9"/>
<circle cx="210.72" cy="815.38" r="1.93" fill="#c2d434" stroke="#5f6c10" stroke-width="0.9"/>
<circle cx="213.63" cy="815.88" r="1.58" fill="#c2d434" stroke="#5f6c10" stroke-width="0.9"/>
<circle cx="217.25" cy="816.43" r="1.72" fill="#c2d434" stroke="#5f6c10" stroke-width="0.9"/>
<circle cx="219.72" cy="816.75" r="1.67" fill="#c2d434" stroke="#5f6c10" stroke-width="0.9"/>
<circle cx="223.97" cy="817.21" r="2.43" fill="#c2d434" stroke="#5f6c10" stroke-width="0.9"/>
<circle cx="227.05" cy="817.47" r="2.23" fill="#c2d434" stroke="#5f6c10" stroke-width="0.9"/>
<circle cx="230.69" cy="817.70" r="2.37" fill="#c2d434" stroke="#5f6c10" stroke-width="0.9"/>
<circle cx="233.36" cy="817.81" r="2.49" fill="#c2d434" stroke="#5f6c10" stroke-width="0.9"/>
<circle cx="237.52" cy="817.90" r="2.11" fill="#c2d434" stroke="#5f6c10" stroke-width="0.9"/>
<circle cx="241.14" cy="817.88" r="2.43" fill="#c2d434" stroke="#5f6c10" stroke-width="0.9"/>
<circle cx="244.02" cy="817.81" r="2.04" fill="#c2d434" stroke="#5f6c10" stroke-width="0.9"/>
<circle cx="247.27" cy="817.66" r="1.92" fill="#c2d434" stroke="#5f6c10" stroke-width="0.9"/>
<circle cx="250.23" cy="817.46" r="2.45" fill="#c2d434" stroke="#5f6c10" stroke-width="0.9"/>
<circle cx="254.21" cy="817.11" r="2.40" fill="#c2d434" stroke="#5f6c10" stroke-width="0.9"/>
<circle cx="257.63" cy="816.73" r="2.45" fill="#c2d434" stroke="#5f6c10" stroke-width="0.9"/>
<circle cx="260.86" cy="816.30" r="1.98" fill="#c2d434" stroke="#5f6c10" stroke-width="0.9"/>
<circle cx="264.00" cy="815.81" r="2.27" fill="#c2d434" stroke="#5f6c10" stroke-width="0.9"/>
<circle cx="267.27" cy="815.23" r="1.91" fill="#c2d434" stroke="#5f6c10" stroke-width="0.9"/>
<circle cx="270.76" cy="814.54" r="2.50" fill="#c2d434" stroke="#5f6c10" stroke-width="0.9"/>
<circle cx="274.34" cy="813.74" r="2.42" fill="#c2d434" stroke="#5f6c10" stroke-width="0.9"/>
<circle cx="276.74" cy="813.15" r="1.79" fill="#c2d434" stroke="#5f6c10" stroke-width="0.9"/>
<circle cx="279.93" cy="812.30" r="2.43" fill="#c2d434" stroke="#5f6c10" stroke-width="0.9"/>
<circle cx="283.90" cy="811.15" r="1.68" fill="#c2d434" stroke="#5f6c10" stroke-width="0.9"/>
<circle cx="287.30" cy="810.07" r="1.60" fill="#c2d434" stroke="#5f6c10" stroke-width="0.9"/>
<circle cx="290.03" cy="809.14" r="2.22" fill="#c2d434" stroke="#5f6c10" stroke-width="0.9"/>
<circle cx="293.11" cy="808.03" r="1.79" fill="#c2d434" stroke="#5f6c10" stroke-width="0.9"/>
<circle cx="296.55" cy="806.69" r="2.02" fill="#c2d434" stroke="#5f6c10" stroke-width="0.9"/>
<circle cx="299.07" cy="805.65" r="2.14" fill="#c2d434" stroke="#5f6c10" stroke-width="0.9"/>
<circle cx="302.25" cy="804.27" r="1.54" fill="#c2d434" stroke="#5f6c10" stroke-width="0.9"/>
<circle cx="305.23" cy="802.89" r="2.25" fill="#c2d434" stroke="#5f6c10" stroke-width="0.9"/>
<circle cx="308.66" cy="801.21" r="1.78" fill="#c2d434" stroke="#5f6c10" stroke-width="0.9"/>
<circle cx="311.56" cy="799.71" r="1.93" fill="#c2d434" stroke="#5f6c10" stroke-width="0.9"/>
<circle cx="314.41" cy="798.15" r="1.84" fill="#c2d434" stroke="#5f6c10" stroke-width="0.9"/>
<circle cx="317.29" cy="796.51" r="2.24" fill="#c2d434" stroke="#5f6c10" stroke-width="0.9"/>
<circle cx="320.38" cy="794.64" r="2.25" fill="#c2d434" stroke="#5f6c10" stroke-width="0.9"/>
<circle cx="323.33" cy="792.77" r="1.79" fill="#c2d434" stroke="#5f6c10" stroke-width="0.9"/>
<circle cx="325.66" cy="791.23" r="1.60" fill="#c2d434" stroke="#5f6c10" stroke-width="0.9"/>
<circle cx="328.72" cy="789.10" r="1.80" fill="#c2d434" stroke="#5f6c10" stroke-width="0.9"/>
<circle cx="331.63" cy="786.98" r="1.91" fill="#c2d434" stroke="#5f6c10" stroke-width="0.9"/>
<circle cx="333.82" cy="785.31" r="1.58" fill="#c2d434" stroke="#5f6c10" stroke-width="0.9"/>
<circle cx="336.21" cy="783.42" r="1.65" fill="#c2d434" stroke="#5f6c10" stroke-width="0.9"/>
<circle cx="338.78" cy="781.30" r="2.26" fill="#c2d434" stroke="#5f6c10" stroke-width="0.9"/>
<circle cx="341.74" cy="778.74" r="2.20" fill="#c2d434" stroke="#5f6c10" stroke-width="0.9"/>
<circle cx="344.17" cy="776.54" r="2.48" fill="#c2d434" stroke="#5f6c10" stroke-width="0.9"/>
<circle cx="346.83" cy="774.01" r="2.48" fill="#c2d434" stroke="#5f6c10" stroke-width="0.9"/>
<circle cx="349.11" cy="771.76" r="2.38" fill="#c2d434" stroke="#5f6c10" stroke-width="0.9"/>
<circle cx="350.92" cy="769.89" r="1.87" fill="#c2d434" stroke="#5f6c10" stroke-width="0.9"/>
<circle cx="353.16" cy="767.50" r="1.66" fill="#c2d434" stroke="#5f6c10" stroke-width="0.9"/>
<circle cx="355.44" cy="764.96" r="1.81" fill="#c2d434" stroke="#5f6c10" stroke-width="0.9"/>
<circle cx="357.55" cy="762.50" r="1.96" fill="#c2d434" stroke="#5f6c10" stroke-width="0.9"/>
<circle cx="360.06" cy="759.44" r="2.03" fill="#c2d434" stroke="#5f6c10" stroke-width="0.9"/>
<circle cx="362.22" cy="756.67" r="2.04" fill="#c2d434" stroke="#5f6c10" stroke-width="0.9"/>
<circle cx="364.24" cy="753.96" r="1.86" fill="#c2d434" stroke="#5f6c10" stroke-width="0.9"/>
<circle cx="365.73" cy="751.87" r="2.35" fill="#c2d434" stroke="#5f6c10" stroke-width="0.9"/>
<circle cx="368.02" cy="748.52" r="1.79" fill="#c2d434" stroke="#5f6c10" stroke-width="0.9"/>
<circle cx="369.48" cy="746.28" r="1.96" fill="#c2d434" stroke="#5f6c10" stroke-width="0.9"/>
<circle cx="371.32" cy="743.34" r="2.39" fill="#c2d434" stroke="#5f6c10" stroke-width="0.9"/>
<circle cx="373.20" cy="740.16" r="2.31" fill="#c2d434" stroke="#5f6c10" stroke-width="0.9"/>
<circle cx="374.46" cy="737.93" r="1.80" fill="#c2d434" stroke="#5f6c10" stroke-width="0.9"/>
<circle cx="376.05" cy="735.00" r="1.74" fill="#c2d434" stroke="#5f6c10" stroke-width="0.9"/>
<circle cx="377.97" cy="731.24" r="2.31" fill="#c2d434" stroke="#5f6c10" stroke-width="0.9"/>
<circle cx="379.14" cy="728.82" r="1.51" fill="#c2d434" stroke="#5f6c10" stroke-width="0.9"/>
<circle cx="380.56" cy="725.72" r="1.63" fill="#c2d434" stroke="#5f6c10" stroke-width="0.9"/>
<circle cx="381.98" cy="722.42" r="2.03" fill="#c2d434" stroke="#5f6c10" stroke-width="0.9"/>
<circle cx="383.28" cy="719.22" r="2.04" fill="#c2d434" stroke="#5f6c10" stroke-width="0.9"/>
<circle cx="384.18" cy="716.86" r="1.67" fill="#c2d434" stroke="#5f6c10" stroke-width="0.9"/>
<circle cx="385.44" cy="713.35" r="1.55" fill="#c2d434" stroke="#5f6c10" stroke-width="0.9"/>
<circle cx="386.54" cy="710.08" r="1.70" fill="#c2d434" stroke="#5f6c10" stroke-width="0.9"/>
<circle cx="387.54" cy="706.84" r="2.27" fill="#c2d434" stroke="#5f6c10" stroke-width="0.9"/>
<circle cx="388.37" cy="703.95" r="1.97" fill="#c2d434" stroke="#5f6c10" stroke-width="0.9"/>
<circle cx="389.33" cy="700.30" r="2.48" fill="#c2d434" stroke="#5f6c10" stroke-width="0.9"/>
<circle cx="390.21" cy="696.63" r="2.29" fill="#c2d434" stroke="#5f6c10" stroke-width="0.9"/>
<circle cx="390.77" cy="694.03" r="2.48" fill="#c2d434" stroke="#5f6c10" stroke-width="0.9"/>
<circle cx="391.44" cy="690.58" r="1.54" fill="#c2d434" stroke="#5f6c10" stroke-width="0.9"/>
<circle cx="392.00" cy="687.35" r="1.69" fill="#c2d434" stroke="#5f6c10" stroke-width="0.9"/>
<circle cx="392.49" cy="684.13" r="1.51" fill="#c2d434" stroke="#5f6c10" stroke-width="0.9"/>
<circle cx="392.94" cy="680.63" r="1.93" fill="#c2d434" stroke="#5f6c10" stroke-width="0.9"/>
<circle cx="393.24" cy="677.81" r="1.84" fill="#c2d434" stroke="#5f6c10" stroke-width="0.9"/>
<circle cx="393.58" cy="673.86" r="1.55" fill="#c2d434" stroke="#5f6c10" stroke-width="0.9"/>
<circle cx="393.77" cy="671.01" r="2.05" fill="#c2d434" stroke="#5f6c10" stroke-width="0.9"/>
<circle cx="393.92" cy="667.58" r="1.59" fill="#c2d434" stroke="#5f6c10" stroke-width="0.9"/>
<circle cx="393.99" cy="664.13" r="1.81" fill="#c2d434" stroke="#5f6c10" stroke-width="0.9"/>
<circle cx="394.00" cy="661.69" r="1.75" fill="#c2d434" stroke="#5f6c10" stroke-width="0.9"/>
<circle cx="393.92" cy="657.48" r="2.30" fill="#c2d434" stroke="#5f6c10" stroke-width="0.9"/>
<circle cx="393.78" cy="654.31" r="1.92" fill="#c2d434" stroke="#5f6c10" stroke-width="0.9"/>
<circle cx="393.59" cy="651.22" r="1.76" fill="#c2d434" stroke="#5f6c10" stroke-width="0.9"/>
<circle cx="393.31" cy="647.89" r="1.54" fill="#c2d434" stroke="#5f6c10" stroke-width="0.9"/>
<circle cx="392.97" cy="644.64" r="1.93" fill="#c2d434" stroke="#5f6c10" stroke-width="0.9"/>
<circle cx="370.38" cy="643.11" r="2.66" fill="#c2d434" stroke="#5f6c10" stroke-width="0.9"/>
<circle cx="369.64" cy="638.62" r="2.72" fill="#c2d434" stroke="#5f6c10" stroke-width="0.9"/>
<circle cx="368.53" cy="633.18" r="3.02" fill="#c2d434" stroke="#5f6c10" stroke-width="0.9"/>
<circle cx="367.22" cy="627.86" r="2.89" fill="#c2d434" stroke="#5f6c10" stroke-width="0.9"/>
<circle cx="366.49" cy="625.28" r="2.18" fill="#c2d434" stroke="#5f6c10" stroke-width="0.9"/>
<circle cx="365.72" cy="622.71" r="2.04" fill="#c2d434" stroke="#5f6c10" stroke-width="0.9"/>
<circle cx="364.88" cy="620.13" r="2.82" fill="#c2d434" stroke="#5f6c10" stroke-width="0.9"/>
<circle cx="363.23" cy="615.49" r="2.86" fill="#c2d434" stroke="#5f6c10" stroke-width="0.9"/>
<circle cx="361.16" cy="610.34" r="2.51" fill="#c2d434" stroke="#5f6c10" stroke-width="0.9"/>
<circle cx="359.56" cy="606.73" r="2.91" fill="#c2d434" stroke="#5f6c10" stroke-width="0.9"/>
<circle cx="358.39" cy="604.26" r="2.56" fill="#c2d434" stroke="#5f6c10" stroke-width="0.9"/>
<circle cx="357.08" cy="601.63" r="2.22" fill="#c2d434" stroke="#5f6c10" stroke-width="0.9"/>
<circle cx="355.04" cy="597.82" r="2.09" fill="#c2d434" stroke="#5f6c10" stroke-width="0.9"/>
<circle cx="351.35" cy="591.58" r="1.90" fill="#c2d434" stroke="#5f6c10" stroke-width="0.9"/>
<circle cx="347.61" cy="585.95" r="2.68" fill="#c2d434" stroke="#5f6c10" stroke-width="0.9"/>
<circle cx="345.08" cy="582.47" r="3.00" fill="#c2d434" stroke="#5f6c10" stroke-width="0.9"/>
<circle cx="343.27" cy="580.12" r="3.01" fill="#c2d434" stroke="#5f6c10" stroke-width="0.9"/>
<circle cx="341.53" cy="577.95" r="2.46" fill="#c2d434" stroke="#5f6c10" stroke-width="0.9"/>
<circle cx="328.07" cy="563.82" r="4.20" fill="#2f8c3c" stroke="#1d3d1d" stroke-width="0.9"/>
<circle cx="312.70" cy="551.81" r="3.04" fill="#c2d434" stroke="#5f6c10" stroke-width="0.9"/>
<circle cx="310.36" cy="550.29" r="2.89" fill="#c2d434" stroke="#5f6c10" stroke-width="0.9"/>
<circle cx="306.62" cy="547.98" r="2.63" fill="#c2d434" stroke="#5f6c10" stroke-width="0.9"/>
<circle cx="303.06" cy="545.94" r="2.39" fill="#c2d434" stroke="#5f6c10" stroke-width="0.9"/>
<circle cx="300.36" cy="544.48" r="2.52" fill="#c2d434" stroke="#5f6c10" stroke-width="0.9"/>
<circle cx="297.89" cy="543.22" r="2.09" fill="#c2d434" stroke="#5f6c10" stroke-width="0.9"/>
<circle cx="295.89" cy="542.25" r="2.10" fill="#c2d434" stroke="#5f6c10" stroke-width="0.9"/>
<circle cx="292.67" cy="540.77" r="2.73" fill="#c2d434" stroke="#5f6c10" stroke-width="0.9"/>
<circle cx="290.21" cy="539.71" r="3.12" fill="#c2d434" stroke="#5f6c10" stroke-width="0.9"/>
<circle cx="283.79" cy="537.20" r="2.56" fill="#c2d434" stroke="#5f6c10" stroke-width="0.9"/>
<circle cx="275.27" cy="534.45" r="2.39" fill="#c2d434" stroke="#5f6c10" stroke-width="0.9"/>
<circle cx="267.04" cy="532.37" r="2.31" fill="#c2d434" stroke="#5f6c10" stroke-width="0.9"/>
<circle cx="257.35" cy="530.63" r="2.44" fill="#c2d434" stroke="#5f6c10" stroke-width="0.9"/>
<circle cx="244.98" cy="529.45" r="2.88" fill="#c2d434" stroke="#5f6c10" stroke-width="0.9"/>
<circle cx="234.88" cy="529.35" r="2.44" fill="#c2d434" stroke="#5f6c10" stroke-width="0.9"/>
<circle cx="231.68" cy="529.48" r="3.07" fill="#c2d434" stroke="#5f6c10" stroke-width="0.9"/>
<circle cx="229.24" cy="529.63" r="2.07" fill="#c2d434" stroke="#5f6c10" stroke-width="0.9"/>
<circle cx="223.48" cy="530.16" r="2.27" fill="#c2d434" stroke="#5f6c10" stroke-width="0.9"/>
<circle cx="218.22" cy="530.87" r="2.53" fill="#c2d434" stroke="#5f6c10" stroke-width="0.9"/>
<circle cx="214.04" cy="531.58" r="2.39" fill="#c2d434" stroke="#5f6c10" stroke-width="0.9"/>
<circle cx="209.78" cy="532.45" r="2.94" fill="#c2d434" stroke="#5f6c10" stroke-width="0.9"/>
<circle cx="205.54" cy="533.47" r="2.91" fill="#c2d434" stroke="#5f6c10" stroke-width="0.9"/>
<circle cx="201.72" cy="534.51" r="3.04" fill="#c2d434" stroke="#5f6c10" stroke-width="0.9"/>
<circle cx="197.60" cy="535.77" r="2.64" fill="#c2d434" stroke="#5f6c10" stroke-width="0.9"/>
<circle cx="192.08" cy="537.69" r="1.91" fill="#c2d434" stroke="#5f6c10" stroke-width="0.9"/>
<circle cx="188.23" cy="539.19" r="2.59" fill="#c2d434" stroke="#5f6c10" stroke-width="0.9"/>
<circle cx="185.59" cy="540.30" r="2.56" fill="#c2d434" stroke="#5f6c10" stroke-width="0.9"/>
<circle cx="182.02" cy="541.91" r="2.48" fill="#c2d434" stroke="#5f6c10" stroke-width="0.9"/>
<circle cx="173.09" cy="546.52" r="2.22" fill="#c2d434" stroke="#5f6c10" stroke-width="0.9"/>
<circle cx="165.66" cy="551.04" r="2.76" fill="#c2d434" stroke="#5f6c10" stroke-width="0.9"/>
<circle cx="163.35" cy="552.59" r="3.01" fill="#c2d434" stroke="#5f6c10" stroke-width="0.9"/>
<circle cx="161.35" cy="553.99" r="2.00" fill="#c2d434" stroke="#5f6c10" stroke-width="0.9"/>
<circle cx="158.98" cy="555.72" r="2.71" fill="#c2d434" stroke="#5f6c10" stroke-width="0.9"/>
<circle cx="155.24" cy="558.61" r="2.34" fill="#c2d434" stroke="#5f6c10" stroke-width="0.9"/>
<circle cx="152.63" cy="560.76" r="2.52" fill="#c2d434" stroke="#5f6c10" stroke-width="0.9"/>
<circle cx="150.08" cy="562.97" r="2.99" fill="#c2d434" stroke="#5f6c10" stroke-width="0.9"/>
<circle cx="146.30" cy="566.46" r="3.08" fill="#c2d434" stroke="#5f6c10" stroke-width="0.9"/>
<circle cx="141.87" cy="570.93" r="2.68" fill="#c2d434" stroke="#5f6c10" stroke-width="0.9"/>
<circle cx="136.54" cy="576.90" r="2.12" fill="#c2d434" stroke="#5f6c10" stroke-width="0.9"/>
<circle cx="130.54" cy="584.63" r="3.03" fill="#c2d434" stroke="#5f6c10" stroke-width="0.9"/>
<circle cx="128.17" cy="588.02" r="2.10" fill="#c2d434" stroke="#5f6c10" stroke-width="0.9"/>
<circle cx="125.41" cy="592.29" r="2.35" fill="#c2d434" stroke="#5f6c10" stroke-width="0.9"/>
<circle cx="122.79" cy="596.70" r="2.91" fill="#c2d434" stroke="#5f6c10" stroke-width="0.9"/>
<circle cx="121.43" cy="599.15" r="2.27" fill="#c2d434" stroke="#5f6c10" stroke-width="0.9"/>
<circle cx="119.40" cy="603.07" r="2.21" fill="#c2d434" stroke="#5f6c10" stroke-width="0.9"/>
<circle cx="117.47" cy="607.10" r="3.06" fill="#c2d434" stroke="#5f6c10" stroke-width="0.9"/>
<circle cx="116.44" cy="609.40" r="3.05" fill="#c2d434" stroke="#5f6c10" stroke-width="0.9"/>
<circle cx="115.55" cy="611.49" r="2.27" fill="#c2d434" stroke="#5f6c10" stroke-width="0.9"/>
<circle cx="114.22" cy="614.83" r="2.37" fill="#c2d434" stroke="#5f6c10" stroke-width="0.9"/>
<circle cx="113.43" cy="616.95" r="2.23" fill="#c2d434" stroke="#5f6c10" stroke-width="0.9"/>
<circle cx="112.44" cy="619.76" r="2.04" fill="#c2d434" stroke="#5f6c10" stroke-width="0.9"/>
<circle cx="111.05" cy="624.11" r="2.19" fill="#c2d434" stroke="#5f6c10" stroke-width="0.9"/>
<circle cx="109.93" cy="628.04" r="3.10" fill="#c2d434" stroke="#5f6c10" stroke-width="0.9"/>
<circle cx="109.10" cy="631.32" r="4.20" fill="#e8262a" stroke="#1d3d1d" stroke-width="0.9"/>
<circle cx="108.54" cy="633.77" r="2.16" fill="#c2d434" stroke="#5f6c10" stroke-width="0.9"/>
<circle cx="108.01" cy="636.28" r="2.12" fill="#c2d434" stroke="#5f6c10" stroke-width="0.9"/>
<circle cx="107.20" cy="640.70" r="1.97" fill="#c2d434" stroke="#5f6c10" stroke-width="0.9"/>
<circle cx="106.38" cy="646.41" r="2.53" fill="#c2d434" stroke="#5f6c10" stroke-width="0.9"/>
<circle cx="105.95" cy="650.37" r="2.80" fill="#c2d434" stroke="#5f6c10" stroke-width="0.9"/>
<circle cx="105.55" cy="656.21" r="2.92" fill="#c2d434" stroke="#5f6c10" stroke-width="0.9"/>
<circle cx="105.40" cy="663.30" r="2.66" fill="#c2d434" stroke="#5f6c10" stroke-width="0.9"/>
<circle cx="105.51" cy="668.02" r="2.90" fill="#c2d434" stroke="#5f6c10" stroke-width="0.9"/>
<circle cx="105.66" cy="670.74" r="1.88" fill="#c2d434" stroke="#5f6c10" stroke-width="0.9"/>
<circle cx="105.86" cy="673.60" r="2.23" fill="#c2d434" stroke="#5f6c10" stroke-width="0.9"/>
<circle cx="106.23" cy="677.33" r="3.08" fill="#c2d434" stroke="#5f6c10" stroke-width="0.9"/>
<circle cx="106.85" cy="682.12" r="1.96" fill="#c2d434" stroke="#5f6c10" stroke-width="0.9"/>
<circle cx="107.42" cy="685.62" r="2.21" fill="#c2d434" stroke="#5f6c10" stroke-width="0.9"/>
<circle cx="108.25" cy="689.93" r="2.48" fill="#c2d434" stroke="#5f6c10" stroke-width="0.9"/>
<circle cx="108.93" cy="692.96" r="2.21" fill="#c2d434" stroke="#5f6c10" stroke-width="0.9"/>
<circle cx="109.58" cy="695.62" r="2.56" fill="#c2d434" stroke="#5f6c10" stroke-width="0.9"/>
<circle cx="110.77" cy="699.94" r="1.93" fill="#c2d434" stroke="#5f6c10" stroke-width="0.9"/>
<circle cx="111.84" cy="703.41" r="2.17" fill="#c2d434" stroke="#5f6c10" stroke-width="0.9"/>
<circle cx="112.76" cy="706.16" r="3.07" fill="#c2d434" stroke="#5f6c10" stroke-width="0.9"/>
<circle cx="113.75" cy="708.91" r="2.06" fill="#c2d434" stroke="#5f6c10" stroke-width="0.9"/>
<circle cx="116.01" cy="714.60" r="3.01" fill="#c2d434" stroke="#5f6c10" stroke-width="0.9"/>
<circle cx="120.93" cy="724.91" r="2.10" fill="#c2d434" stroke="#5f6c10" stroke-width="0.9"/>
<circle cx="125.04" cy="732.12" r="3.12" fill="#c2d434" stroke="#5f6c10" stroke-width="0.9"/>
<circle cx="126.64" cy="734.66" r="2.72" fill="#c2d434" stroke="#5f6c10" stroke-width="0.9"/>
<circle cx="128.17" cy="736.98" r="2.68" fill="#c2d434" stroke="#5f6c10" stroke-width="0.9"/>
<circle cx="129.77" cy="739.30" r="2.05" fill="#c2d434" stroke="#5f6c10" stroke-width="0.9"/>
<circle cx="131.44" cy="741.61" r="1.94" fill="#c2d434" stroke="#5f6c10" stroke-width="0.9"/>
<circle cx="132.76" cy="743.37" r="2.82" fill="#c2d434" stroke="#5f6c10" stroke-width="0.9"/>
<circle cx="136.85" cy="748.46" r="2.10" fill="#c2d434" stroke="#5f6c10" stroke-width="0.9"/>
<circle cx="141.50" cy="753.68" r="2.11" fill="#c2d434" stroke="#5f6c10" stroke-width="0.9"/>
<circle cx="143.43" cy="755.70" r="2.90" fill="#c2d434" stroke="#5f6c10" stroke-width="0.9"/>
<circle cx="145.39" cy="757.66" r="2.97" fill="#c2d434" stroke="#5f6c10" stroke-width="0.9"/>
<circle cx="150.08" cy="762.03" r="1.94" fill="#c2d434" stroke="#5f6c10" stroke-width="0.9"/>
<circle cx="156.52" cy="767.41" r="3.08" fill="#c2d434" stroke="#5f6c10" stroke-width="0.9"/>
<circle cx="161.63" cy="771.21" r="2.54" fill="#c2d434" stroke="#5f6c10" stroke-width="0.9"/>
<circle cx="163.69" cy="772.64" r="2.35" fill="#c2d434" stroke="#5f6c10" stroke-width="0.9"/>
<circle cx="168.55" cy="775.79" r="2.01" fill="#c2d434" stroke="#5f6c10" stroke-width="0.9"/>
<circle cx="175.05" cy="779.56" r="2.36" fill="#c2d434" stroke="#5f6c10" stroke-width="0.9"/>
<circle cx="179.17" cy="781.71" r="3.11" fill="#c2d434" stroke="#5f6c10" stroke-width="0.9"/>
<circle cx="181.27" cy="782.73" r="2.23" fill="#c2d434" stroke="#5f6c10" stroke-width="0.9"/>
<circle cx="184.37" cy="784.16" r="2.04" fill="#c2d434" stroke="#5f6c10" stroke-width="0.9"/>
<circle cx="187.00" cy="785.30" r="2.06" fill="#c2d434" stroke="#5f6c10" stroke-width="0.9"/>
<circle cx="189.01" cy="786.13" r="2.03" fill="#c2d434" stroke="#5f6c10" stroke-width="0.9"/>
<circle cx="192.21" cy="787.36" r="2.32" fill="#c2d434" stroke="#5f6c10" stroke-width="0.9"/>
<circle cx="195.02" cy="788.37" r="3.02" fill="#c2d434" stroke="#5f6c10" stroke-width="0.9"/>
<circle cx="197.44" cy="789.18" r="1.97" fill="#c2d434" stroke="#5f6c10" stroke-width="0.9"/>
<circle cx="200.10" cy="790.01" r="2.11" fill="#c2d434" stroke="#5f6c10" stroke-width="0.9"/>
<circle cx="202.53" cy="790.72" r="3.05" fill="#c2d434" stroke="#5f6c10" stroke-width="0.9"/>
<circle cx="206.06" cy="791.66" r="3.12" fill="#c2d434" stroke="#5f6c10" stroke-width="0.9"/>
<circle cx="211.70" cy="792.96" r="3.10" fill="#c2d434" stroke="#5f6c10" stroke-width="0.9"/>
<circle cx="217.20" cy="793.97" r="2.18" fill="#c2d434" stroke="#5f6c10" stroke-width="0.9"/>
<circle cx="220.30" cy="794.44" r="2.32" fill="#c2d434" stroke="#5f6c10" stroke-width="0.9"/>
<circle cx="222.42" cy="794.71" r="3.06" fill="#c2d434" stroke="#5f6c10" stroke-width="0.9"/>
<circle cx="227.38" cy="795.23" r="2.48" fill="#c2d434" stroke="#5f6c10" stroke-width="0.9"/>
<circle cx="232.96" cy="795.58" r="2.75" fill="#c2d434" stroke="#5f6c10" stroke-width="0.9"/>
<circle cx="237.68" cy="795.70" r="2.27" fill="#c2d434" stroke="#5f6c10" stroke-width="0.9"/>
<circle cx="240.78" cy="795.68" r="1.90" fill="#c2d434" stroke="#5f6c10" stroke-width="0.9"/>
<circle cx="243.25" cy="795.62" r="2.31" fill="#c2d434" stroke="#5f6c10" stroke-width="0.9"/>
<circle cx="246.04" cy="795.49" r="2.81" fill="#c2d434" stroke="#5f6c10" stroke-width="0.9"/>
<circle cx="248.57" cy="795.33" r="2.85" fill="#c2d434" stroke="#5f6c10" stroke-width="0.9"/>
<circle cx="253.44" cy="794.87" r="2.59" fill="#c2d434" stroke="#5f6c10" stroke-width="0.9"/>
<circle cx="263.48" cy="793.36" r="2.46" fill="#c2d434" stroke="#5f6c10" stroke-width="0.9"/>
<circle cx="271.29" cy="791.63" r="2.55" fill="#c2d434" stroke="#5f6c10" stroke-width="0.9"/>
<circle cx="275.73" cy="790.42" r="2.43" fill="#c2d434" stroke="#5f6c10" stroke-width="0.9"/>
<circle cx="280.34" cy="788.99" r="2.54" fill="#c2d434" stroke="#5f6c10" stroke-width="0.9"/>
<circle cx="285.49" cy="787.17" r="2.92" fill="#c2d434" stroke="#5f6c10" stroke-width="0.9"/>
<circle cx="290.44" cy="785.20" r="2.13" fill="#c2d434" stroke="#5f6c10" stroke-width="0.9"/>
<circle cx="293.15" cy="784.02" r="2.62" fill="#c2d434" stroke="#5f6c10" stroke-width="0.9"/>
<circle cx="295.71" cy="782.84" r="3.04" fill="#c2d434" stroke="#5f6c10" stroke-width="0.9"/>
<circle cx="298.65" cy="781.39" r="2.94" fill="#c2d434" stroke="#5f6c10" stroke-width="0.9"/>
<circle cx="301.13" cy="780.11" r="2.10" fill="#c2d434" stroke="#5f6c10" stroke-width="0.9"/>
<circle cx="303.58" cy="778.77" r="3.08" fill="#c2d434" stroke="#5f6c10" stroke-width="0.9"/>
<circle cx="306.04" cy="777.36" r="2.93" fill="#c2d434" stroke="#5f6c10" stroke-width="0.9"/>
<circle cx="309.97" cy="774.97" r="2.08" fill="#c2d434" stroke="#5f6c10" stroke-width="0.9"/>
<circle cx="313.22" cy="772.84" r="2.21" fill="#c2d434" stroke="#5f6c10" stroke-width="0.9"/>
<circle cx="319.09" cy="768.63" r="2.13" fill="#c2d434" stroke="#5f6c10" stroke-width="0.9"/>
<circle cx="327.97" cy="761.26" r="1.94" fill="#c2d434" stroke="#5f6c10" stroke-width="0.9"/>
<circle cx="333.32" cy="756.15" r="3.10" fill="#c2d434" stroke="#5f6c10" stroke-width="0.9"/>
<circle cx="338.89" cy="750.16" r="2.39" fill="#c2d434" stroke="#5f6c10" stroke-width="0.9"/>
<circle cx="344.56" cy="743.22" r="2.97" fill="#c2d434" stroke="#5f6c10" stroke-width="0.9"/>
<circle cx="346.93" cy="740.00" r="2.02" fill="#c2d434" stroke="#5f6c10" stroke-width="0.9"/>
<circle cx="350.16" cy="735.28" r="1.89" fill="#c2d434" stroke="#5f6c10" stroke-width="0.9"/>
<circle cx="352.36" cy="731.80" r="2.96" fill="#c2d434" stroke="#5f6c10" stroke-width="0.9"/>
<circle cx="354.52" cy="728.12" r="2.87" fill="#c2d434" stroke="#5f6c10" stroke-width="0.9"/>
<circle cx="357.25" cy="723.03" r="3.11" fill="#c2d434" stroke="#5f6c10" stroke-width="0.9"/>
<circle cx="360.31" cy="716.62" r="2.73" fill="#c2d434" stroke="#5f6c10" stroke-width="0.9"/>
<circle cx="362.61" cy="711.12" r="2.53" fill="#c2d434" stroke="#5f6c10" stroke-width="0.9"/>
<circle cx="363.94" cy="707.59" r="2.83" fill="#c2d434" stroke="#5f6c10" stroke-width="0.9"/>
<circle cx="367.11" cy="697.55" r="1.99" fill="#c2d434" stroke="#5f6c10" stroke-width="0.9"/>
<circle cx="369.33" cy="688.05" r="2.55" fill="#c2d434" stroke="#5f6c10" stroke-width="0.9"/>
<circle cx="370.09" cy="683.80" r="2.43" fill="#c2d434" stroke="#5f6c10" stroke-width="0.9"/>
<circle cx="370.50" cy="681.04" r="2.06" fill="#c2d434" stroke="#5f6c10" stroke-width="0.9"/>
<circle cx="370.89" cy="678.04" r="2.63" fill="#c2d434" stroke="#5f6c10" stroke-width="0.9"/>
<circle cx="371.15" cy="675.63" r="2.28" fill="#c2d434" stroke="#5f6c10" stroke-width="0.9"/>
<circle cx="371.44" cy="672.24" r="2.51" fill="#c2d434" stroke="#5f6c10" stroke-width="0.9"/>
<circle cx="371.60" cy="669.80" r="2.34" fill="#c2d434" stroke="#5f6c10" stroke-width="0.9"/>
<circle cx="371.77" cy="665.37" r="2.27" fill="#c2d434" stroke="#5f6c10" stroke-width="0.9"/>
<circle cx="371.80" cy="661.81" r="2.32" fill="#c2d434" stroke="#5f6c10" stroke-width="0.9"/>
<circle cx="371.73" cy="658.19" r="2.63" fill="#c2d434" stroke="#5f6c10" stroke-width="0.9"/>
<circle cx="371.33" cy="651.33" r="3.10" fill="#c2d434" stroke="#5f6c10" stroke-width="0.9"/>
<circle cx="348.42" cy="646.34" r="3.65" fill="#c2d434" stroke="#5f6c10" stroke-width="0.9"/>
<circle cx="347.36" cy="640.33" r="3.54" fill="#c2d434" stroke="#5f6c10" stroke-width="0.9"/>
<circle cx="345.49" cy="632.56" r="3.50" fill="#c2d434" stroke="#5f6c10" stroke-width="0.9"/>
<circle cx="344.53" cy="629.34" r="2.68" fill="#c2d434" stroke="#5f6c10" stroke-width="0.9"/>
<circle cx="343.83" cy="627.19" r="3.72" fill="#c2d434" stroke="#5f6c10" stroke-width="0.9"/>
<circle cx="340.99" cy="619.65" r="2.65" fill="#c2d434" stroke="#5f6c10" stroke-width="0.9"/>
<circle cx="338.43" cy="613.97" r="2.43" fill="#c2d434" stroke="#5f6c10" stroke-width="0.9"/>
<circle cx="333.61" cy="605.10" r="3.00" fill="#c2d434" stroke="#5f6c10" stroke-width="0.9"/>
<circle cx="325.87" cy="593.91" r="3.35" fill="#c2d434" stroke="#5f6c10" stroke-width="0.9"/>
<circle cx="306.02" cy="574.32" r="4.20" fill="#2f8c3c" stroke="#1d3d1d" stroke-width="0.9"/>
<circle cx="292.70" cy="565.57" r="3.22" fill="#c2d434" stroke="#5f6c10" stroke-width="0.9"/>
<circle cx="288.01" cy="563.10" r="2.67" fill="#c2d434" stroke="#5f6c10" stroke-width="0.9"/>
<circle cx="281.35" cy="560.06" r="3.70" fill="#c2d434" stroke="#5f6c10" stroke-width="0.9"/>
<circle cx="256.66" cy="552.98" r="2.93" fill="#c2d434" stroke="#5f6c10" stroke-width="0.9"/>
<circle cx="235.50" cy="551.54" r="2.97" fill="#c2d434" stroke="#5f6c10" stroke-width="0.9"/>
<circle cx="227.21" cy="552.09" r="3.05" fill="#c2d434" stroke="#5f6c10" stroke-width="0.9"/>
<circle cx="216.36" cy="553.75" r="3.56" fill="#c2d434" stroke="#5f6c10" stroke-width="0.9"/>
<circle cx="209.45" cy="555.40" r="3.73" fill="#c2d434" stroke="#5f6c10" stroke-width="0.9"/>
<circle cx="202.13" cy="557.66" r="3.04" fill="#c2d434" stroke="#5f6c10" stroke-width="0.9"/>
<circle cx="195.52" cy="560.20" r="2.91" fill="#c2d434" stroke="#5f6c10" stroke-width="0.9"/>
<circle cx="191.45" cy="562.01" r="3.18" fill="#c2d434" stroke="#5f6c10" stroke-width="0.9"/>
<circle cx="180.89" cy="567.68" r="2.35" fill="#c2d434" stroke="#5f6c10" stroke-width="0.9"/>
<circle cx="175.06" cy="571.49" r="2.89" fill="#c2d434" stroke="#5f6c10" stroke-width="0.9"/>
<circle cx="170.68" cy="574.70" r="3.52" fill="#c2d434" stroke="#5f6c10" stroke-width="0.9"/>
<circle cx="165.89" cy="578.63" r="3.42" fill="#c2d434" stroke="#5f6c10" stroke-width="0.9"/>
<circle cx="157.50" cy="586.71" r="2.34" fill="#c2d434" stroke="#5f6c10" stroke-width="0.9"/>
<circle cx="148.55" cy="597.60" r="3.53" fill="#c2d434" stroke="#5f6c10" stroke-width="0.9"/>
<circle cx="145.41" cy="602.20" r="2.83" fill="#c2d434" stroke="#5f6c10" stroke-width="0.9"/>
<circle cx="141.52" cy="608.68" r="3.72" fill="#c2d434" stroke="#5f6c10" stroke-width="0.9"/>
<circle cx="138.00" cy="615.60" r="2.80" fill="#c2d434" stroke="#5f6c10" stroke-width="0.9"/>
<circle cx="136.06" cy="619.99" r="2.57" fill="#c2d434" stroke="#5f6c10" stroke-width="0.9"/>
<circle cx="134.62" cy="623.66" r="3.07" fill="#c2d434" stroke="#5f6c10" stroke-width="0.9"/>
<circle cx="133.47" cy="626.88" r="3.58" fill="#c2d434" stroke="#5f6c10" stroke-width="0.9"/>
<circle cx="131.19" cy="634.51" r="2.90" fill="#c2d434" stroke="#5f6c10" stroke-width="0.9"/>
<circle cx="129.01" cy="644.86" r="3.55" fill="#c2d434" stroke="#5f6c10" stroke-width="0.9"/>
<circle cx="127.63" cy="659.74" r="3.32" fill="#c2d434" stroke="#5f6c10" stroke-width="0.9"/>
<circle cx="128.02" cy="672.12" r="2.79" fill="#c2d434" stroke="#5f6c10" stroke-width="0.9"/>
<circle cx="129.35" cy="682.11" r="2.70" fill="#c2d434" stroke="#5f6c10" stroke-width="0.9"/>
<circle cx="131.27" cy="690.80" r="3.01" fill="#c2d434" stroke="#5f6c10" stroke-width="0.9"/>
<circle cx="133.34" cy="697.74" r="2.85" fill="#c2d434" stroke="#5f6c10" stroke-width="0.9"/>
<circle cx="134.56" cy="701.18" r="2.81" fill="#c2d434" stroke="#5f6c10" stroke-width="0.9"/>
<circle cx="138.40" cy="710.26" r="3.23" fill="#c2d434" stroke="#5f6c10" stroke-width="0.9"/>
<circle cx="143.97" cy="720.51" r="3.56" fill="#c2d434" stroke="#5f6c10" stroke-width="0.9"/>
<circle cx="145.30" cy="722.63" r="3.13" fill="#c2d434" stroke="#5f6c10" stroke-width="0.9"/>
<circle cx="146.58" cy="724.57" r="2.47" fill="#c2d434" stroke="#5f6c10" stroke-width="0.9"/>
<circle cx="152.59" cy="732.66" r="2.58" fill="#c2d434" stroke="#5f6c10" stroke-width="0.9"/>
<circle cx="169.25" cy="749.17" r="4.20" fill="#2f8c3c" stroke="#1d3d1d" stroke-width="0.9"/>
<circle cx="185.65" cy="760.05" r="3.17" fill="#c2d434" stroke="#5f6c10" stroke-width="0.9"/>
<circle cx="192.32" cy="763.39" r="2.46" fill="#c2d434" stroke="#5f6c10" stroke-width="0.9"/>
<circle cx="199.77" cy="766.49" r="2.37" fill="#c2d434" stroke="#5f6c10" stroke-width="0.9"/>
<circle cx="204.30" cy="768.07" r="2.73" fill="#c2d434" stroke="#5f6c10" stroke-width="0.9"/>
<circle cx="207.53" cy="769.06" r="2.67" fill="#c2d434" stroke="#5f6c10" stroke-width="0.9"/>
<circle cx="213.83" cy="770.70" r="2.29" fill="#c2d434" stroke="#5f6c10" stroke-width="0.9"/>
<circle cx="220.77" cy="772.06" r="3.06" fill="#c2d434" stroke="#5f6c10" stroke-width="0.9"/>
<circle cx="224.23" cy="772.57" r="3.63" fill="#c2d434" stroke="#5f6c10" stroke-width="0.9"/>
<circle cx="235.86" cy="773.47" r="3.05" fill="#c2d434" stroke="#5f6c10" stroke-width="0.9"/>
<circle cx="245.85" cy="773.26" r="3.36" fill="#c2d434" stroke="#5f6c10" stroke-width="0.9"/>
<circle cx="250.97" cy="772.81" r="3.49" fill="#c2d434" stroke="#5f6c10" stroke-width="0.9"/>
<circle cx="262.60" cy="770.87" r="3.51" fill="#c2d434" stroke="#5f6c10" stroke-width="0.9"/>
<circle cx="271.47" cy="768.52" r="3.62" fill="#c2d434" stroke="#5f6c10" stroke-width="0.9"/>
<circle cx="280.89" cy="765.13" r="2.91" fill="#c2d434" stroke="#5f6c10" stroke-width="0.9"/>
<circle cx="286.19" cy="762.78" r="3.27" fill="#c2d434" stroke="#5f6c10" stroke-width="0.9"/>
<circle cx="289.68" cy="761.05" r="2.43" fill="#c2d434" stroke="#5f6c10" stroke-width="0.9"/>
<circle cx="292.75" cy="759.39" r="3.57" fill="#c2d434" stroke="#5f6c10" stroke-width="0.9"/>
<circle cx="296.45" cy="757.23" r="2.82" fill="#c2d434" stroke="#5f6c10" stroke-width="0.9"/>
<circle cx="303.25" cy="752.73" r="2.96" fill="#c2d434" stroke="#5f6c10" stroke-width="0.9"/>
<circle cx="317.76" cy="740.31" r="3.59" fill="#c2d434" stroke="#5f6c10" stroke-width="0.9"/>
<circle cx="329.29" cy="726.50" r="2.68" fill="#c2d434" stroke="#5f6c10" stroke-width="0.9"/>
<circle cx="334.31" cy="718.72" r="2.53" fill="#c2d434" stroke="#5f6c10" stroke-width="0.9"/>
<circle cx="337.47" cy="712.95" r="3.49" fill="#c2d434" stroke="#5f6c10" stroke-width="0.9"/>
<circle cx="341.60" cy="703.86" r="3.15" fill="#c2d434" stroke="#5f6c10" stroke-width="0.9"/>
<circle cx="347.08" cy="686.01" r="2.38" fill="#c2d434" stroke="#5f6c10" stroke-width="0.9"/>
<circle cx="348.97" cy="674.29" r="2.29" fill="#c2d434" stroke="#5f6c10" stroke-width="0.9"/>
<circle cx="349.43" cy="668.58" r="2.78" fill="#c2d434" stroke="#5f6c10" stroke-width="0.9"/>
<circle cx="349.60" cy="661.90" r="2.26" fill="#c2d434" stroke="#5f6c10" stroke-width="0.9"/>
<circle cx="349.21" cy="653.19" r="3.50" fill="#c2d434" stroke="#5f6c10" stroke-width="0.9"/>
<circle cx="324.77" cy="641.88" r="2.95" fill="#c2d434" stroke="#5f6c10" stroke-width="0.9"/>
<circle cx="319.34" cy="626.01" r="3.10" fill="#c2d434" stroke="#5f6c10" stroke-width="0.9"/>
<circle cx="311.49" cy="612.13" r="3.31" fill="#c2d434" stroke="#5f6c10" stroke-width="0.9"/>
<circle cx="273.76" cy="581.18" r="4.20" fill="#2f8c3c" stroke="#1d3d1d" stroke-width="0.9"/>
<circle cx="232.81" cy="574.09" r="3.38" fill="#c2d434" stroke="#5f6c10" stroke-width="0.9"/>
<circle cx="218.08" cy="576.31" r="3.73" fill="#c2d434" stroke="#5f6c10" stroke-width="0.9"/>
<circle cx="209.49" cy="578.82" r="3.78" fill="#c2d434" stroke="#5f6c10" stroke-width="0.9"/>
<circle cx="202.58" cy="581.55" r="3.39" fill="#c2d434" stroke="#5f6c10" stroke-width="0.9"/>
<circle cx="192.53" cy="586.82" r="2.79" fill="#c2d434" stroke="#5f6c10" stroke-width="0.9"/>
<circle cx="176.42" cy="599.38" r="4.34" fill="#e8262a" stroke="#1d3d1d" stroke-width="0.9"/>
<circle cx="164.21" cy="614.37" r="3.83" fill="#c2d434" stroke="#5f6c10" stroke-width="0.9"/>
<circle cx="161.11" cy="619.54" r="2.77" fill="#c2d434" stroke="#5f6c10" stroke-width="0.9"/>
<circle cx="156.89" cy="628.25" r="3.40" fill="#c2d434" stroke="#5f6c10" stroke-width="0.9"/>
<circle cx="154.69" cy="634.07" r="3.94" fill="#c2d434" stroke="#5f6c10" stroke-width="0.9"/>
<circle cx="152.86" cy="640.16" r="4.36" fill="#c2d434" stroke="#5f6c10" stroke-width="0.9"/>
<circle cx="151.13" cy="648.42" r="2.74" fill="#c2d434" stroke="#5f6c10" stroke-width="0.9"/>
<circle cx="150.60" cy="672.80" r="2.64" fill="#c2d434" stroke="#5f6c10" stroke-width="0.9"/>
<circle cx="154.58" cy="690.63" r="3.46" fill="#c2d434" stroke="#5f6c10" stroke-width="0.9"/>
<circle cx="155.55" cy="693.37" r="3.36" fill="#c2d434" stroke="#5f6c10" stroke-width="0.9"/>
<circle cx="161.21" cy="705.65" r="4.19" fill="#c2d434" stroke="#5f6c10" stroke-width="0.9"/>
<circle cx="185.28" cy="733.26" r="4.07" fill="#c2d434" stroke="#5f6c10" stroke-width="0.9"/>
<circle cx="216.30" cy="748.25" r="3.21" fill="#c2d434" stroke="#5f6c10" stroke-width="0.9"/>
<circle cx="230.37" cy="750.72" r="3.36" fill="#c2d434" stroke="#5f6c10" stroke-width="0.9"/>
<circle cx="246.43" cy="750.75" r="3.64" fill="#c2d434" stroke="#5f6c10" stroke-width="0.9"/>
<circle cx="261.31" cy="748.14" r="4.17" fill="#c2d434" stroke="#5f6c10" stroke-width="0.9"/>
<circle cx="274.48" cy="743.51" r="2.98" fill="#c2d434" stroke="#5f6c10" stroke-width="0.9"/>
<circle cx="279.37" cy="741.16" r="3.31" fill="#c2d434" stroke="#5f6c10" stroke-width="0.9"/>
<circle cx="281.82" cy="739.84" r="2.78" fill="#c2d434" stroke="#5f6c10" stroke-width="0.9"/>
<circle cx="299.14" cy="727.19" r="3.75" fill="#c2d434" stroke="#5f6c10" stroke-width="0.9"/>
<circle cx="318.13" cy="701.55" r="2.67" fill="#c2d434" stroke="#5f6c10" stroke-width="0.9"/>
<circle cx="325.19" cy="681.27" r="4.26" fill="#c2d434" stroke="#5f6c10" stroke-width="0.9"/>
<circle cx="326.70" cy="671.91" r="3.54" fill="#c2d434" stroke="#5f6c10" stroke-width="0.9"/>
<circle cx="327.17" cy="664.69" r="3.63" fill="#c2d434" stroke="#5f6c10" stroke-width="0.9"/>
<circle cx="326.89" cy="655.07" r="2.77" fill="#c2d434" stroke="#5f6c10" stroke-width="0.9"/>
<circle cx="301.33" cy="641.04" r="3.46" fill="#c2d434" stroke="#5f6c10" stroke-width="0.9"/>
<circle cx="293.14" cy="624.80" r="3.94" fill="#c2d434" stroke="#5f6c10" stroke-width="0.9"/>
<circle cx="249.91" cy="597.17" r="4.71" fill="#2f8c3c" stroke="#1d3d1d" stroke-width="0.9"/>
<circle cx="198.52" cy="609.69" r="4.20" fill="#e8262a" stroke="#1d3d1d" stroke-width="0.9"/>
<circle cx="181.75" cy="696.61" r="3.57" fill="#c2d434" stroke="#5f6c10" stroke-width="0.9"/>
<circle cx="255.18" cy="726.69" r="4.96" fill="#c2d434" stroke="#5f6c10" stroke-width="0.9"/>
<circle cx="269.11" cy="721.36" r="4.32" fill="#c2d434" stroke="#5f6c10" stroke-width="0.9"/>
<circle cx="291.89" cy="701.95" r="4.06" fill="#c2d434" stroke="#5f6c10" stroke-width="0.9"/>
<circle cx="304.53" cy="669.54" r="3.40" fill="#c2d434" stroke="#5f6c10" stroke-width="0.9"/>
<circle cx="304.87" cy="660.54" r="3.60" fill="#c2d434" stroke="#5f6c10" stroke-width="0.9"/>
<circle cx="277.88" cy="642.68" r="5.28" fill="#c2d434" stroke="#5f6c10" stroke-width="0.9"/>
<circle cx="246.10" cy="619.14" r="4.20" fill="#2f8c3c" stroke="#1d3d1d" stroke-width="0.9"/>
<circle cx="201.41" cy="686.01" r="4.47" fill="#c2d434" stroke="#5f6c10" stroke-width="0.9"/>
<circle cx="273.96" cy="688.68" r="4.66" fill="#c2d434" stroke="#5f6c10" stroke-width="0.9"/>
<circle cx="282.57" cy="664.19" r="4.08" fill="#c2d434" stroke="#5f6c10" stroke-width="0.9"/>
<circle cx="216.60" cy="662.50" r="5.22" fill="#c2d434" stroke="#5f6c10" stroke-width="0.9"/>
<circle cx="260.60" cy="662.50" r="5.54" fill="#c2d434" stroke="#5f6c10" stroke-width="0.9"/>
<defs><path id="parc" d="M245.74,458.12 A204.5,204.5 0 0,1 375.44,510.53"/></defs>
<text style="font-family:'DejaVu Sans','Liberation Sans',sans-serif;font-size:7.2px" fill="#2c4a34"><textPath href="#parc" startOffset="51%" text-anchor="middle">p__Bacteroidota</textPath></text>
<text transform="translate(308.5,485.8) rotate(21.599999999999994)" style="font-family:'DejaVu Sans','Liberation Sans',sans-serif;font-size:7.5px;font-weight:normal" text-anchor="middle" fill="#2c4a34">c</text>
<text transform="translate(314.7,504.4) rotate(25.700000000000003)" style="font-family:'DejaVu Sans','Liberation Sans',sans-serif;font-size:7.5px;font-weight:normal" text-anchor="middle" fill="#2c4a34">b</text>
<text transform="translate(347.4,544.5) rotate(42.7)" style="font-family:'DejaVu Sans','Liberation Sans',sans-serif;font-size:7.5px;font-weight:normal" text-anchor="middle" fill="#2c4a34">a</text>
<text transform="translate(119.4,513.2) rotate(-38.599999999999994)" style="font-family:'DejaVu Sans','Liberation Sans',sans-serif;font-size:8px;font-weight:normal" text-anchor="middle" fill="#5a2a2a">e</text>
<text transform="translate(115.6,535.2) rotate(-44)" style="font-family:'DejaVu Sans','Liberation Sans',sans-serif;font-size:8px;font-weight:normal" text-anchor="middle" fill="#5a2a2a">d</text>
<text transform="translate(137.0,792.5) rotate(-142)" style="font-family:'DejaVu Sans','Liberation Sans',sans-serif;font-size:8px;font-weight:normal" text-anchor="middle" fill="#2c4a34">f</text>
<line x1="546.5" y1="557.9" x2="546.5" y2="749.0" stroke="#6a6a6a" stroke-width="1.9" stroke-dasharray="2,5.95"/>
<line x1="546.5" y1="545.3" x2="546.5" y2="554.0" stroke="#222" stroke-width="1.9" />
<line x1="546.5" y1="750.1" x2="546.5" y2="758.8" stroke="#222" stroke-width="1.9" />
<text x="546.5" y="785.3" style="font-family:'DejaVu Sans','Liberation Sans',sans-serif;font-size:24px;font-weight:normal" text-anchor="middle" fill="#000" >−6.0</text>
<line x1="606.7" y1="557.9" x2="606.7" y2="749.0" stroke="#6a6a6a" stroke-width="1.9" stroke-dasharray="2,5.95"/>
<line x1="606.7" y1="545.3" x2="606.7" y2="554.0" stroke="#222" stroke-width="1.9" />
<line x1="606.7" y1="750.1" x2="606.7" y2="758.8" stroke="#222" stroke-width="1.9" />
<text x="606.7" y="785.3" style="font-family:'DejaVu Sans','Liberation Sans',sans-serif;font-size:24px;font-weight:normal" text-anchor="middle" fill="#000" >−4.8</text>
<line x1="667.0" y1="557.9" x2="667.0" y2="749.0" stroke="#6a6a6a" stroke-width="1.9" stroke-dasharray="2,5.95"/>
<line x1="667.0" y1="545.3" x2="667.0" y2="554.0" stroke="#222" stroke-width="1.9" />
<line x1="667.0" y1="750.1" x2="667.0" y2="758.8" stroke="#222" stroke-width="1.9" />
<text x="667.0" y="785.3" style="font-family:'DejaVu Sans','Liberation Sans',sans-serif;font-size:24px;font-weight:normal" text-anchor="middle" fill="#000" >−3.6</text>
<line x1="727.2" y1="557.9" x2="727.2" y2="749.0" stroke="#6a6a6a" stroke-width="1.9" stroke-dasharray="2,5.95"/>
<line x1="727.2" y1="545.3" x2="727.2" y2="554.0" stroke="#222" stroke-width="1.9" />
<line x1="727.2" y1="750.1" x2="727.2" y2="758.8" stroke="#222" stroke-width="1.9" />
<text x="727.2" y="785.3" style="font-family:'DejaVu Sans','Liberation Sans',sans-serif;font-size:24px;font-weight:normal" text-anchor="middle" fill="#000" >−2.4</text>
<line x1="787.5" y1="557.9" x2="787.5" y2="749.0" stroke="#6a6a6a" stroke-width="1.9" stroke-dasharray="2,5.95"/>
<line x1="787.5" y1="545.3" x2="787.5" y2="554.0" stroke="#222" stroke-width="1.9" />
<line x1="787.5" y1="750.1" x2="787.5" y2="758.8" stroke="#222" stroke-width="1.9" />
<text x="787.5" y="785.3" style="font-family:'DejaVu Sans','Liberation Sans',sans-serif;font-size:24px;font-weight:normal" text-anchor="middle" fill="#000" >−1.2</text>
<line x1="847.7" y1="557.9" x2="847.7" y2="749.0" stroke="#6a6a6a" stroke-width="1.9" stroke-dasharray="2,5.95"/>
<line x1="847.7" y1="545.3" x2="847.7" y2="554.0" stroke="#222" stroke-width="1.9" />
<line x1="847.7" y1="750.1" x2="847.7" y2="758.8" stroke="#222" stroke-width="1.9" />
<text x="847.7" y="785.3" style="font-family:'DejaVu Sans','Liberation Sans',sans-serif;font-size:24px;font-weight:normal" text-anchor="middle" fill="#000" >0.0</text>
<line x1="907.9" y1="557.9" x2="907.9" y2="749.0" stroke="#6a6a6a" stroke-width="1.9" stroke-dasharray="2,5.95"/>
<line x1="907.9" y1="545.3" x2="907.9" y2="554.0" stroke="#222" stroke-width="1.9" />
<line x1="907.9" y1="750.1" x2="907.9" y2="758.8" stroke="#222" stroke-width="1.9" />
<text x="907.9" y="785.3" style="font-family:'DejaVu Sans','Liberation Sans',sans-serif;font-size:24px;font-weight:normal" text-anchor="middle" fill="#000" >1.2</text>
<line x1="968.2" y1="557.9" x2="968.2" y2="749.0" stroke="#6a6a6a" stroke-width="1.9" stroke-dasharray="2,5.95"/>
<line x1="968.2" y1="545.3" x2="968.2" y2="554.0" stroke="#222" stroke-width="1.9" />
<line x1="968.2" y1="750.1" x2="968.2" y2="758.8" stroke="#222" stroke-width="1.9" />
<text x="968.2" y="785.3" style="font-family:'DejaVu Sans','Liberation Sans',sans-serif;font-size:24px;font-weight:normal" text-anchor="middle" fill="#000" >2.4</text>
<line x1="1028.4" y1="557.9" x2="1028.4" y2="749.0" stroke="#6a6a6a" stroke-width="1.9" stroke-dasharray="2,5.95"/>
<line x1="1028.4" y1="545.3" x2="1028.4" y2="554.0" stroke="#222" stroke-width="1.9" />
<line x1="1028.4" y1="750.1" x2="1028.4" y2="758.8" stroke="#222" stroke-width="1.9" />
<text x="1028.4" y="785.3" style="font-family:'DejaVu Sans','Liberation Sans',sans-serif;font-size:24px;font-weight:normal" text-anchor="middle" fill="#000" >3.6</text>
<line x1="1088.7" y1="557.9" x2="1088.7" y2="749.0" stroke="#6a6a6a" stroke-width="1.9" stroke-dasharray="2,5.95"/>
<line x1="1088.7" y1="545.3" x2="1088.7" y2="554.0" stroke="#222" stroke-width="1.9" />
<line x1="1088.7" y1="750.1" x2="1088.7" y2="758.8" stroke="#222" stroke-width="1.9" />
<text x="1088.7" y="785.3" style="font-family:'DejaVu Sans','Liberation Sans',sans-serif;font-size:24px;font-weight:normal" text-anchor="middle" fill="#000" >4.8</text>
<line x1="1148.9" y1="557.9" x2="1148.9" y2="749.0" stroke="#6a6a6a" stroke-width="1.9" stroke-dasharray="2,5.95"/>
<line x1="1148.9" y1="545.3" x2="1148.9" y2="554.0" stroke="#222" stroke-width="1.9" />
<line x1="1148.9" y1="750.1" x2="1148.9" y2="758.8" stroke="#222" stroke-width="1.9" />
<text x="1148.9" y="785.3" style="font-family:'DejaVu Sans','Liberation Sans',sans-serif;font-size:24px;font-weight:normal" text-anchor="middle" fill="#000" >6.0</text>
<text x="848.7" y="821.0" style="font-family:'DejaVu Sans','Liberation Sans',sans-serif;font-size:24px;font-weight:normal" text-anchor="middle" fill="#000" >LDA SCORE (log 10)</text>
<rect x="847.7" y="558.5" width="257.0" height="16.8" fill="#378a3b" stroke="#000" stroke-width="1.5" />
<text x="842.8" y="572.7" style="font-family:'DejaVu Sans','Liberation Sans',sans-serif;font-size:13.7px;font-weight:normal" text-anchor="end" fill="#111" >p__Bacteroidota</text>
<rect x="847.7" y="579.9" width="257.0" height="16.8" fill="#378a3b" stroke="#000" stroke-width="1.5" />
<text x="842.8" y="594.0" style="font-family:'DejaVu Sans','Liberation Sans',sans-serif;font-size:13.7px;font-weight:normal" text-anchor="end" fill="#111" >c__Bacteroidia</text>
<rect x="847.7" y="601.2" width="257.0" height="16.8" fill="#378a3b" stroke="#000" stroke-width="1.5" />
<text x="842.8" y="615.4" style="font-family:'DejaVu Sans','Liberation Sans',sans-serif;font-size:13.7px;font-weight:normal" text-anchor="end" fill="#111" >o__Bacteroidales</text>
<rect x="847.7" y="622.6" width="251.0" height="16.8" fill="#378a3b" stroke="#000" stroke-width="1.5" />
<text x="842.8" y="636.8" style="font-family:'DejaVu Sans','Liberation Sans',sans-serif;font-size:13.7px;font-weight:normal" text-anchor="end" fill="#111" >g__Bacteroides</text>
<rect x="847.7" y="643.9" width="251.0" height="16.8" fill="#378a3b" stroke="#000" stroke-width="1.5" />
<text x="842.8" y="658.1" style="font-family:'DejaVu Sans','Liberation Sans',sans-serif;font-size:13.7px;font-weight:normal" text-anchor="end" fill="#111" >f__Bacteroidaceae</text>
<rect x="847.7" y="665.2" width="202.8" height="16.8" fill="#378a3b" stroke="#000" stroke-width="1.5" />
<text x="842.8" y="679.4" style="font-family:'DejaVu Sans','Liberation Sans',sans-serif;font-size:13.7px;font-weight:normal" text-anchor="end" fill="#111" >f__Oscillospiraceae</text>
<rect x="641.9" y="686.6" width="205.8" height="16.8" fill="#ee2a2e" stroke="#000" stroke-width="1.5" />
<text x="854.0" y="700.8" style="font-family:'DejaVu Sans','Liberation Sans',sans-serif;font-size:13.7px;font-weight:normal" text-anchor="start" fill="#111" >o__Lactobacillales</text>
<rect x="620.3" y="708.0" width="227.4" height="16.8" fill="#ee2a2e" stroke="#000" stroke-width="1.5" />
<text x="854.0" y="722.1" style="font-family:'DejaVu Sans','Liberation Sans',sans-serif;font-size:13.7px;font-weight:normal" text-anchor="start" fill="#111" >g__Blautia</text>
<rect x="619.3" y="729.3" width="228.4" height="16.8" fill="#ee2a2e" stroke="#000" stroke-width="1.5" />
<text x="854.0" y="743.5" style="font-family:'DejaVu Sans','Liberation Sans',sans-serif;font-size:13.7px;font-weight:normal" text-anchor="start" fill="#111" >c__Bacilli</text>
<rect x="458.0" y="462.0" width="160.0" height="104.0" fill="#fff" stroke="none" stroke-width="0" />
<rect x="464.4" y="470.2" width="22.6" height="7.8" fill="#378a3b" stroke="#000" stroke-width="1.3" />
<text x="495.9" y="478.3" style="font-family:'DejaVu Sans','Liberation Sans',sans-serif;font-size:11.2px;font-weight:normal" text-anchor="start" fill="#222" >a: f__Bacteroidaceae</text>
<rect x="464.4" y="486.9" width="22.6" height="7.8" fill="#378a3b" stroke="#000" stroke-width="1.3" />
<text x="495.9" y="495.0" style="font-family:'DejaVu Sans','Liberation Sans',sans-serif;font-size:11.2px;font-weight:normal" text-anchor="start" fill="#222" >b: o__Bacteroidales</text>
<rect x="464.4" y="503.6" width="22.6" height="7.8" fill="#378a3b" stroke="#000" stroke-width="1.3" />
<text x="495.9" y="511.7" style="font-family:'DejaVu Sans','Liberation Sans',sans-serif;font-size:11.2px;font-weight:normal" text-anchor="start" fill="#222" >c: c__Bacteroidia</text>
<rect x="464.4" y="520.4" width="22.6" height="7.8" fill="#ee2a2e" stroke="#000" stroke-width="1.3" />
<text x="495.9" y="528.5" style="font-family:'DejaVu Sans','Liberation Sans',sans-serif;font-size:11.2px;font-weight:normal" text-anchor="start" fill="#222" >d: o__Lactobacillales</text>
<rect x="464.4" y="537.1" width="22.6" height="7.8" fill="#ee2a2e" stroke="#000" stroke-width="1.3" />
<text x="495.9" y="545.2" style="font-family:'DejaVu Sans','Liberation Sans',sans-serif;font-size:11.2px;font-weight:normal" text-anchor="start" fill="#222" >e: c__Bacilli</text>
<rect x="464.4" y="553.8" width="22.6" height="7.8" fill="#378a3b" stroke="#000" stroke-width="1.3" />
<text x="495.9" y="561.9" style="font-family:'DejaVu Sans','Liberation Sans',sans-serif;font-size:11.2px;font-weight:normal" text-anchor="start" fill="#222" >f: f__Oscillospiraceae</text>
<rect x="1085.1" y="471.0" width="34.0" height="12.0" fill="#378a3b" stroke="#000" stroke-width="2.4" />
<rect x="1085.6" y="504.3" width="34.5" height="11.7" fill="#ee2a2e" stroke="#000" stroke-width="2.4" />
<text x="1136.0" y="481.4" style="font-family:'Liberation Sans',Arial,Helvetica,sans-serif;font-size:18px;font-weight:bold" text-anchor="start" fill="#000"  stroke="#000" stroke-width="0.35">HC</text>
<text x="1136.0" y="516.3" style="font-family:'Liberation Sans',Arial,Helvetica,sans-serif;font-size:18px;font-weight:bold" text-anchor="start" fill="#000"  stroke="#000" stroke-width="0.35">NAFLD</text>
</svg></body></html>
